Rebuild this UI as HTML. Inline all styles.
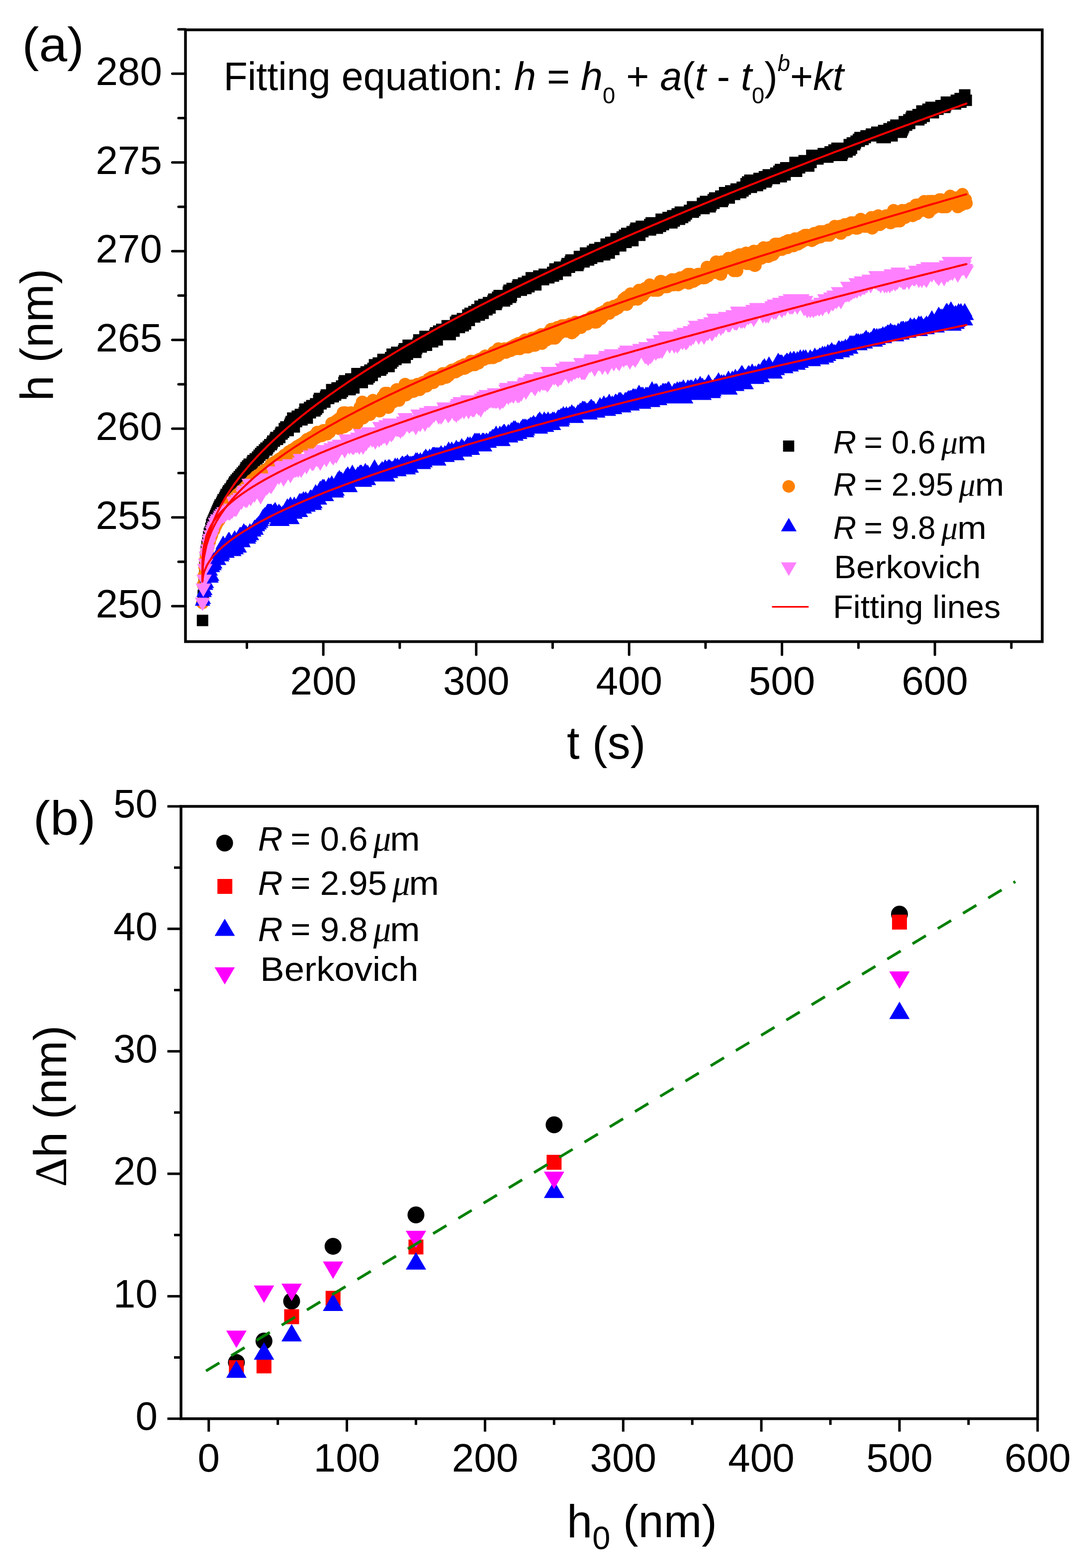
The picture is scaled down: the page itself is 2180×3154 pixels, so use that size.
<!DOCTYPE html>
<html><head><meta charset="utf-8"><title>Figure</title><style>html,body{margin:0;padding:0;background:#fff;}svg{display:block;}</style></head><body>
<svg xmlns="http://www.w3.org/2000/svg" width="2180" height="3154" viewBox="0 0 2180 3154">
<rect width="2180" height="3154" fill="#fff"/>
<g id="dataA">
<path fill="#000000" d="M395.8 1236.4h23v23h-23zM397.3 1186.4h23v23h-23zM398.9 1154.2h23v23h-23zM400.4 1129.3h23v23h-23zM401.9 1111.4h23v23h-23zM403.5 1097.1h23v23h-23zM405.0 1086.4h23v23h-23zM406.6 1075.7h23v23h-23zM408.1 1068.6h23v23h-23zM409.6 1061.4h23v23h-23zM411.2 1057.9h23v23h-23zM412.7 1050.7h23v23h-23zM414.2 1043.6h23v23h-23zM415.8 1040.0h23v23h-23zM417.3 1036.4h23v23h-23zM418.9 1032.9h23v23h-23zM420.4 1029.3h23v23h-23zM421.9 1025.7h23v23h-23zM423.5 1022.2h23v23h-23zM425.0 1018.6h23v23h-23zM426.5 1015.0h23v23h-23zM428.1 1011.4h23v23h-23zM429.6 1007.9h23v23h-23zM431.2 1004.3h23v23h-23zM432.7 1004.3h23v23h-23zM434.2 1000.7h23v23h-23zM435.8 997.2h23v23h-23zM437.3 993.6h23v23h-23zM438.8 993.6h23v23h-23zM440.4 990.0h23v23h-23zM441.9 986.5h23v23h-23zM443.5 982.9h23v23h-23zM445.0 982.9h23v23h-23zM446.5 979.3h23v23h-23zM448.1 975.8h23v23h-23zM449.6 975.8h23v23h-23zM451.1 972.2h23v23h-23zM452.7 972.2h23v23h-23zM454.2 968.6h23v23h-23zM455.7 965.0h23v23h-23zM457.3 965.0h23v23h-23zM458.8 961.5h23v23h-23zM460.4 957.9h23v23h-23zM461.9 957.9h23v23h-23zM463.4 954.3h23v23h-23zM465.0 954.3h23v23h-23zM466.5 950.8h23v23h-23zM468.0 950.8h23v23h-23zM469.6 947.2h23v23h-23zM471.1 947.2h23v23h-23zM472.7 943.6h23v23h-23zM474.2 943.6h23v23h-23zM475.7 940.0h23v23h-23zM477.3 940.0h23v23h-23zM478.8 936.5h23v23h-23zM480.3 936.5h23v23h-23zM481.9 932.9h23v23h-23zM483.4 929.3h23v23h-23zM485.0 929.3h23v23h-23zM486.5 925.8h23v23h-23zM488.0 925.8h23v23h-23zM489.6 922.2h23v23h-23zM491.1 922.2h23v23h-23zM492.6 922.2h23v23h-23zM494.2 922.2h23v23h-23zM495.7 918.6h23v23h-23zM497.3 915.1h23v23h-23zM498.8 915.1h23v23h-23zM500.3 915.1h23v23h-23zM501.9 911.5h23v23h-23zM503.4 911.5h23v23h-23zM504.9 911.5h23v23h-23zM506.5 907.9h23v23h-23zM508.0 907.9h23v23h-23zM509.6 904.3h23v23h-23zM511.1 904.3h23v23h-23zM512.6 900.8h23v23h-23zM514.2 900.8h23v23h-23zM515.7 897.2h23v23h-23zM517.2 900.8h23v23h-23zM518.8 897.2h23v23h-23zM520.3 893.6h23v23h-23zM521.9 893.6h23v23h-23zM523.4 890.1h23v23h-23zM524.9 893.6h23v23h-23zM526.5 890.1h23v23h-23zM528.0 886.5h23v23h-23zM529.5 886.5h23v23h-23zM531.1 882.9h23v23h-23zM532.6 882.9h23v23h-23zM534.2 882.9h23v23h-23zM535.7 879.4h23v23h-23zM537.2 875.8h23v23h-23zM538.8 875.8h23v23h-23zM540.3 875.8h23v23h-23zM541.8 872.2h23v23h-23zM543.4 868.6h23v23h-23zM544.9 868.6h23v23h-23zM546.5 872.2h23v23h-23zM548.0 868.6h23v23h-23zM549.5 865.1h23v23h-23zM551.1 868.6h23v23h-23zM552.6 861.5h23v23h-23zM554.1 857.9h23v23h-23zM555.7 861.5h23v23h-23zM557.2 857.9h23v23h-23zM558.8 857.9h23v23h-23zM560.3 850.8h23v23h-23zM561.8 850.8h23v23h-23zM563.4 847.2h23v23h-23zM564.9 854.4h23v23h-23zM566.4 847.2h23v23h-23zM568.0 854.4h23v23h-23zM569.5 847.2h23v23h-23zM571.1 843.7h23v23h-23zM572.6 840.1h23v23h-23zM574.1 836.5h23v23h-23zM575.7 840.1h23v23h-23zM577.2 829.4h23v23h-23zM578.7 836.5h23v23h-23zM580.3 847.2h23v23h-23zM581.8 836.5h23v23h-23zM583.4 829.4h23v23h-23zM584.9 836.5h23v23h-23zM586.4 825.8h23v23h-23zM588.0 829.4h23v23h-23zM589.5 825.8h23v23h-23zM591.0 832.9h23v23h-23zM592.6 822.2h23v23h-23zM594.1 825.8h23v23h-23zM595.7 832.9h23v23h-23zM597.2 825.8h23v23h-23zM598.7 822.2h23v23h-23zM600.3 818.7h23v23h-23zM601.8 811.5h23v23h-23zM603.3 825.8h23v23h-23zM604.9 825.8h23v23h-23zM606.4 829.4h23v23h-23zM608.0 818.7h23v23h-23zM609.5 815.1h23v23h-23zM611.0 808.0h23v23h-23zM612.6 818.7h23v23h-23zM614.1 811.5h23v23h-23zM615.6 804.4h23v23h-23zM617.2 804.4h23v23h-23zM618.7 804.4h23v23h-23zM620.3 811.5h23v23h-23zM621.8 815.1h23v23h-23zM623.3 800.8h23v23h-23zM624.9 811.5h23v23h-23zM626.4 804.4h23v23h-23zM627.9 808.0h23v23h-23zM629.5 793.7h23v23h-23zM631.0 790.1h23v23h-23zM632.6 800.8h23v23h-23zM634.1 800.8h23v23h-23zM635.6 797.2h23v23h-23zM637.2 790.1h23v23h-23zM638.7 793.7h23v23h-23zM640.2 797.2h23v23h-23zM641.8 797.2h23v23h-23zM643.3 786.5h23v23h-23zM644.8 783.0h23v23h-23zM646.4 786.5h23v23h-23zM647.9 783.0h23v23h-23zM649.5 790.1h23v23h-23zM651.0 783.0h23v23h-23zM652.5 783.0h23v23h-23zM654.1 783.0h23v23h-23zM655.6 772.3h23v23h-23zM657.1 783.0h23v23h-23zM658.7 786.5h23v23h-23zM660.2 779.4h23v23h-23zM661.8 772.3h23v23h-23zM663.3 783.0h23v23h-23zM664.8 775.8h23v23h-23zM666.4 768.7h23v23h-23zM667.9 768.7h23v23h-23zM669.4 768.7h23v23h-23zM671.0 775.8h23v23h-23zM672.5 768.7h23v23h-23zM674.1 779.4h23v23h-23zM675.6 765.1h23v23h-23zM677.1 775.8h23v23h-23zM678.7 772.3h23v23h-23zM680.2 758.0h23v23h-23zM681.7 754.4h23v23h-23zM683.3 761.5h23v23h-23zM684.8 758.0h23v23h-23zM686.4 768.7h23v23h-23zM687.9 765.1h23v23h-23zM689.4 765.1h23v23h-23zM691.0 758.0h23v23h-23zM692.5 772.3h23v23h-23zM694.0 750.8h23v23h-23zM695.6 761.5h23v23h-23zM697.1 754.4h23v23h-23zM698.7 765.1h23v23h-23zM700.2 768.7h23v23h-23zM701.7 754.4h23v23h-23zM703.3 754.4h23v23h-23zM704.8 750.8h23v23h-23zM706.3 740.1h23v23h-23zM707.9 758.0h23v23h-23zM709.4 754.4h23v23h-23zM711.0 747.3h23v23h-23zM712.5 754.4h23v23h-23zM714.0 743.7h23v23h-23zM715.6 743.7h23v23h-23zM717.1 758.0h23v23h-23zM718.6 750.8h23v23h-23zM720.2 743.7h23v23h-23zM721.7 743.7h23v23h-23zM723.3 743.7h23v23h-23zM724.8 736.6h23v23h-23zM726.3 736.6h23v23h-23zM727.9 750.8h23v23h-23zM729.4 740.1h23v23h-23zM730.9 747.3h23v23h-23zM732.5 733.0h23v23h-23zM734.0 740.1h23v23h-23zM735.6 736.6h23v23h-23zM737.1 743.7h23v23h-23zM738.6 729.4h23v23h-23zM740.2 733.0h23v23h-23zM741.7 722.3h23v23h-23zM743.2 736.6h23v23h-23zM744.8 722.3h23v23h-23zM746.3 729.4h23v23h-23zM747.9 733.0h23v23h-23zM749.4 718.7h23v23h-23zM750.9 725.8h23v23h-23zM752.5 722.3h23v23h-23zM754.0 733.0h23v23h-23zM755.5 718.7h23v23h-23zM757.1 729.4h23v23h-23zM758.6 711.6h23v23h-23zM760.2 711.6h23v23h-23zM761.7 725.8h23v23h-23zM763.2 711.6h23v23h-23zM764.8 715.1h23v23h-23zM766.3 718.7h23v23h-23zM767.8 722.3h23v23h-23zM769.4 715.1h23v23h-23zM770.9 725.8h23v23h-23zM772.5 715.1h23v23h-23zM774.0 708.0h23v23h-23zM775.5 718.7h23v23h-23zM777.1 700.9h23v23h-23zM778.6 715.1h23v23h-23zM780.1 704.4h23v23h-23zM781.7 704.4h23v23h-23zM783.2 704.4h23v23h-23zM784.8 711.6h23v23h-23zM786.3 697.3h23v23h-23zM787.8 700.9h23v23h-23zM789.4 708.0h23v23h-23zM790.9 700.9h23v23h-23zM792.4 700.9h23v23h-23zM794.0 708.0h23v23h-23zM795.5 697.3h23v23h-23zM797.1 700.9h23v23h-23zM798.6 697.3h23v23h-23zM800.1 693.7h23v23h-23zM801.7 690.1h23v23h-23zM803.2 708.0h23v23h-23zM804.7 697.3h23v23h-23zM806.3 697.3h23v23h-23zM807.8 700.9h23v23h-23zM809.4 683.0h23v23h-23zM810.9 686.6h23v23h-23zM812.4 683.0h23v23h-23zM814.0 686.6h23v23h-23zM815.5 683.0h23v23h-23zM817.0 693.7h23v23h-23zM818.6 693.7h23v23h-23zM820.1 683.0h23v23h-23zM821.7 693.7h23v23h-23zM823.2 690.1h23v23h-23zM824.7 697.3h23v23h-23zM826.3 690.1h23v23h-23zM827.8 686.6h23v23h-23zM829.3 679.4h23v23h-23zM830.9 672.3h23v23h-23zM832.4 679.4h23v23h-23zM833.9 675.9h23v23h-23zM835.5 686.6h23v23h-23zM837.0 675.9h23v23h-23zM838.6 679.4h23v23h-23zM840.1 679.4h23v23h-23zM841.6 675.9h23v23h-23zM843.2 665.2h23v23h-23zM844.7 683.0h23v23h-23zM846.2 683.0h23v23h-23zM847.8 668.7h23v23h-23zM849.3 672.3h23v23h-23zM850.9 675.9h23v23h-23zM852.4 668.7h23v23h-23zM853.9 675.9h23v23h-23zM855.5 668.7h23v23h-23zM857.0 672.3h23v23h-23zM858.5 675.9h23v23h-23zM860.1 665.2h23v23h-23zM861.6 665.2h23v23h-23zM863.2 661.6h23v23h-23zM864.7 658.0h23v23h-23zM866.2 672.3h23v23h-23zM867.8 672.3h23v23h-23zM869.3 661.6h23v23h-23zM870.8 654.4h23v23h-23zM872.4 661.6h23v23h-23zM873.9 661.6h23v23h-23zM875.5 661.6h23v23h-23zM877.0 650.9h23v23h-23zM878.5 650.9h23v23h-23zM880.1 654.4h23v23h-23zM881.6 661.6h23v23h-23zM883.1 654.4h23v23h-23zM884.7 654.4h23v23h-23zM886.2 658.0h23v23h-23zM887.8 643.7h23v23h-23zM889.3 650.9h23v23h-23zM890.8 650.9h23v23h-23zM892.4 647.3h23v23h-23zM893.9 661.6h23v23h-23zM895.4 643.7h23v23h-23zM897.0 654.4h23v23h-23zM898.5 650.9h23v23h-23zM900.1 643.7h23v23h-23zM901.6 654.4h23v23h-23zM903.1 647.3h23v23h-23zM904.7 636.6h23v23h-23zM906.2 643.7h23v23h-23zM907.7 633.0h23v23h-23zM909.3 647.3h23v23h-23zM910.8 640.2h23v23h-23zM912.4 647.3h23v23h-23zM913.9 640.2h23v23h-23zM915.4 640.2h23v23h-23zM917.0 636.6h23v23h-23zM918.5 629.5h23v23h-23zM920.0 643.7h23v23h-23zM921.6 636.6h23v23h-23zM923.1 633.0h23v23h-23zM924.7 640.2h23v23h-23zM926.2 633.0h23v23h-23zM927.7 629.5h23v23h-23zM929.3 622.3h23v23h-23zM930.8 625.9h23v23h-23zM932.3 633.0h23v23h-23zM933.9 618.7h23v23h-23zM935.4 622.3h23v23h-23zM937.0 625.9h23v23h-23zM938.5 622.3h23v23h-23zM940.0 622.3h23v23h-23zM941.6 615.2h23v23h-23zM943.1 625.9h23v23h-23zM944.6 615.2h23v23h-23zM946.2 618.7h23v23h-23zM947.7 611.6h23v23h-23zM949.3 611.6h23v23h-23zM950.8 622.3h23v23h-23zM952.3 622.3h23v23h-23zM953.9 604.5h23v23h-23zM955.4 608.0h23v23h-23zM956.9 615.2h23v23h-23zM958.5 608.0h23v23h-23zM960.0 618.7h23v23h-23zM961.6 600.9h23v23h-23zM963.1 604.5h23v23h-23zM964.6 608.0h23v23h-23zM966.2 608.0h23v23h-23zM967.7 611.6h23v23h-23zM969.2 600.9h23v23h-23zM970.8 597.3h23v23h-23zM972.3 597.3h23v23h-23zM973.9 608.0h23v23h-23zM975.4 600.9h23v23h-23zM976.9 600.9h23v23h-23zM978.5 597.3h23v23h-23zM980.0 593.8h23v23h-23zM981.5 590.2h23v23h-23zM983.1 600.9h23v23h-23zM984.6 590.2h23v23h-23zM986.2 600.9h23v23h-23zM987.7 597.3h23v23h-23zM989.2 586.6h23v23h-23zM990.8 590.2h23v23h-23zM992.3 583.0h23v23h-23zM993.8 593.8h23v23h-23zM995.4 590.2h23v23h-23zM996.9 593.8h23v23h-23zM998.5 590.2h23v23h-23zM1000.0 583.0h23v23h-23zM1001.5 590.2h23v23h-23zM1003.1 593.8h23v23h-23zM1004.6 583.0h23v23h-23zM1006.1 583.0h23v23h-23zM1007.7 590.2h23v23h-23zM1009.2 586.6h23v23h-23zM1010.8 575.9h23v23h-23zM1012.3 572.3h23v23h-23zM1013.8 575.9h23v23h-23zM1015.4 586.6h23v23h-23zM1016.9 583.0h23v23h-23zM1018.4 568.8h23v23h-23zM1020.0 575.9h23v23h-23zM1021.5 568.8h23v23h-23zM1023.1 572.3h23v23h-23zM1024.6 575.9h23v23h-23zM1026.1 572.3h23v23h-23zM1027.7 572.3h23v23h-23zM1029.2 565.2h23v23h-23zM1030.7 561.6h23v23h-23zM1032.3 568.8h23v23h-23zM1033.8 565.2h23v23h-23zM1035.3 572.3h23v23h-23zM1036.9 572.3h23v23h-23zM1038.4 565.2h23v23h-23zM1040.0 568.8h23v23h-23zM1041.5 558.1h23v23h-23zM1043.0 561.6h23v23h-23zM1044.6 565.2h23v23h-23zM1046.1 568.8h23v23h-23zM1047.6 561.6h23v23h-23zM1049.2 554.5h23v23h-23zM1050.7 558.1h23v23h-23zM1052.3 565.2h23v23h-23zM1053.8 558.1h23v23h-23zM1055.3 561.6h23v23h-23zM1056.9 547.3h23v23h-23zM1058.4 561.6h23v23h-23zM1059.9 547.3h23v23h-23zM1061.5 550.9h23v23h-23zM1063.0 550.9h23v23h-23zM1064.6 547.3h23v23h-23zM1066.1 561.6h23v23h-23zM1067.6 550.9h23v23h-23zM1069.2 547.3h23v23h-23zM1070.7 550.9h23v23h-23zM1072.2 543.8h23v23h-23zM1073.8 550.9h23v23h-23zM1075.3 550.9h23v23h-23zM1076.9 550.9h23v23h-23zM1078.4 547.3h23v23h-23zM1079.9 550.9h23v23h-23zM1081.5 550.9h23v23h-23zM1083.0 540.2h23v23h-23zM1084.5 540.2h23v23h-23zM1086.1 547.3h23v23h-23zM1087.6 543.8h23v23h-23zM1089.2 540.2h23v23h-23zM1090.7 547.3h23v23h-23zM1092.2 547.3h23v23h-23zM1093.8 543.8h23v23h-23zM1095.3 543.8h23v23h-23zM1096.8 543.8h23v23h-23zM1098.4 540.2h23v23h-23zM1099.9 536.6h23v23h-23zM1101.5 543.8h23v23h-23zM1103.0 536.6h23v23h-23zM1104.5 529.5h23v23h-23zM1106.1 533.1h23v23h-23zM1107.6 529.5h23v23h-23zM1109.1 540.2h23v23h-23zM1110.7 529.5h23v23h-23zM1112.2 529.5h23v23h-23zM1113.8 525.9h23v23h-23zM1115.3 533.1h23v23h-23zM1116.8 533.1h23v23h-23zM1118.4 533.1h23v23h-23zM1119.9 533.1h23v23h-23zM1121.4 529.5h23v23h-23zM1123.0 529.5h23v23h-23zM1124.5 529.5h23v23h-23zM1126.1 533.1h23v23h-23zM1127.6 522.4h23v23h-23zM1129.1 518.8h23v23h-23zM1130.7 522.4h23v23h-23zM1132.2 522.4h23v23h-23zM1133.7 525.9h23v23h-23zM1135.3 515.2h23v23h-23zM1136.8 511.6h23v23h-23zM1138.4 518.8h23v23h-23zM1139.9 511.6h23v23h-23zM1141.4 518.8h23v23h-23zM1143.0 511.6h23v23h-23zM1144.5 522.4h23v23h-23zM1146.0 515.2h23v23h-23zM1147.6 511.6h23v23h-23zM1149.1 522.4h23v23h-23zM1150.7 522.4h23v23h-23zM1152.2 518.8h23v23h-23zM1153.7 504.5h23v23h-23zM1155.3 515.2h23v23h-23zM1156.8 515.2h23v23h-23zM1158.3 511.6h23v23h-23zM1159.9 508.1h23v23h-23zM1161.4 508.1h23v23h-23zM1163.0 515.2h23v23h-23zM1164.5 504.5h23v23h-23zM1166.0 497.4h23v23h-23zM1167.6 511.6h23v23h-23zM1169.1 511.6h23v23h-23zM1170.6 511.6h23v23h-23zM1172.2 511.6h23v23h-23zM1173.7 504.5h23v23h-23zM1175.3 508.1h23v23h-23zM1176.8 500.9h23v23h-23zM1178.3 508.1h23v23h-23zM1179.9 493.8h23v23h-23zM1181.4 500.9h23v23h-23zM1182.9 500.9h23v23h-23zM1184.5 490.2h23v23h-23zM1186.0 497.4h23v23h-23zM1187.6 504.5h23v23h-23zM1189.1 490.2h23v23h-23zM1190.6 504.5h23v23h-23zM1192.2 490.2h23v23h-23zM1193.7 500.9h23v23h-23zM1195.2 486.7h23v23h-23zM1196.8 497.4h23v23h-23zM1198.3 486.7h23v23h-23zM1199.9 486.7h23v23h-23zM1201.4 497.4h23v23h-23zM1202.9 493.8h23v23h-23zM1204.5 500.9h23v23h-23zM1206.0 490.2h23v23h-23zM1207.5 479.5h23v23h-23zM1209.1 483.1h23v23h-23zM1210.6 490.2h23v23h-23zM1212.2 497.4h23v23h-23zM1213.7 497.4h23v23h-23zM1215.2 486.7h23v23h-23zM1216.8 475.9h23v23h-23zM1218.3 475.9h23v23h-23zM1219.8 486.7h23v23h-23zM1221.4 483.1h23v23h-23zM1222.9 490.2h23v23h-23zM1224.4 479.5h23v23h-23zM1226.0 475.9h23v23h-23zM1227.5 468.8h23v23h-23zM1229.1 483.1h23v23h-23zM1230.6 483.1h23v23h-23zM1232.1 483.1h23v23h-23zM1233.7 468.8h23v23h-23zM1235.2 475.9h23v23h-23zM1236.7 483.1h23v23h-23zM1238.3 472.4h23v23h-23zM1239.8 465.2h23v23h-23zM1241.4 468.8h23v23h-23zM1242.9 475.9h23v23h-23zM1244.4 461.7h23v23h-23zM1246.0 465.2h23v23h-23zM1247.5 475.9h23v23h-23zM1249.0 458.1h23v23h-23zM1250.6 465.2h23v23h-23zM1252.1 468.8h23v23h-23zM1253.7 458.1h23v23h-23zM1255.2 468.8h23v23h-23zM1256.7 461.7h23v23h-23zM1258.3 468.8h23v23h-23zM1259.8 454.5h23v23h-23zM1261.3 472.4h23v23h-23zM1262.9 461.7h23v23h-23zM1264.4 458.1h23v23h-23zM1266.0 451.0h23v23h-23zM1267.5 447.4h23v23h-23zM1269.0 454.5h23v23h-23zM1270.6 461.7h23v23h-23zM1272.1 451.0h23v23h-23zM1273.6 461.7h23v23h-23zM1275.2 461.7h23v23h-23zM1276.7 454.5h23v23h-23zM1278.3 443.8h23v23h-23zM1279.8 447.4h23v23h-23zM1281.3 454.5h23v23h-23zM1282.9 451.0h23v23h-23zM1284.4 451.0h23v23h-23zM1285.9 451.0h23v23h-23zM1287.5 443.8h23v23h-23zM1289.0 443.8h23v23h-23zM1290.6 451.0h23v23h-23zM1292.1 447.4h23v23h-23zM1293.6 447.4h23v23h-23zM1295.2 440.2h23v23h-23zM1296.7 451.0h23v23h-23zM1298.2 436.7h23v23h-23zM1299.8 447.4h23v23h-23zM1301.3 436.7h23v23h-23zM1302.9 447.4h23v23h-23zM1304.4 436.7h23v23h-23zM1305.9 443.8h23v23h-23zM1307.5 440.2h23v23h-23zM1309.0 447.4h23v23h-23zM1310.5 447.4h23v23h-23zM1312.1 443.8h23v23h-23zM1313.6 436.7h23v23h-23zM1315.2 440.2h23v23h-23zM1316.7 443.8h23v23h-23zM1318.2 429.5h23v23h-23zM1319.8 440.2h23v23h-23zM1321.3 436.7h23v23h-23zM1322.8 440.2h23v23h-23zM1324.4 436.7h23v23h-23zM1325.9 436.7h23v23h-23zM1327.5 429.5h23v23h-23zM1329.0 429.5h23v23h-23zM1330.5 436.7h23v23h-23zM1332.1 426.0h23v23h-23zM1333.6 429.5h23v23h-23zM1335.1 436.7h23v23h-23zM1336.7 433.1h23v23h-23zM1338.2 436.7h23v23h-23zM1339.8 436.7h23v23h-23zM1341.3 422.4h23v23h-23zM1342.8 426.0h23v23h-23zM1344.4 433.1h23v23h-23zM1345.9 422.4h23v23h-23zM1347.4 429.5h23v23h-23zM1349.0 426.0h23v23h-23zM1350.5 418.8h23v23h-23zM1352.1 418.8h23v23h-23zM1353.6 426.0h23v23h-23zM1355.1 429.5h23v23h-23zM1356.7 415.3h23v23h-23zM1358.2 422.4h23v23h-23zM1359.7 422.4h23v23h-23zM1361.3 426.0h23v23h-23zM1362.8 415.3h23v23h-23zM1364.4 418.8h23v23h-23zM1365.9 422.4h23v23h-23zM1367.4 415.3h23v23h-23zM1369.0 418.8h23v23h-23zM1370.5 415.3h23v23h-23zM1372.0 415.3h23v23h-23zM1373.6 415.3h23v23h-23zM1375.1 411.7h23v23h-23zM1376.7 415.3h23v23h-23zM1378.2 415.3h23v23h-23zM1379.7 411.7h23v23h-23zM1381.3 404.5h23v23h-23zM1382.8 415.3h23v23h-23zM1384.3 411.7h23v23h-23zM1385.9 411.7h23v23h-23zM1387.4 408.1h23v23h-23zM1389.0 408.1h23v23h-23zM1390.5 408.1h23v23h-23zM1392.0 408.1h23v23h-23zM1393.6 404.5h23v23h-23zM1395.1 404.5h23v23h-23zM1396.6 404.5h23v23h-23zM1398.2 404.5h23v23h-23zM1399.7 404.5h23v23h-23zM1401.3 397.4h23v23h-23zM1402.8 397.4h23v23h-23zM1404.3 408.1h23v23h-23zM1405.9 401.0h23v23h-23zM1407.4 393.8h23v23h-23zM1408.9 401.0h23v23h-23zM1410.5 401.0h23v23h-23zM1412.0 401.0h23v23h-23zM1413.5 401.0h23v23h-23zM1415.1 404.5h23v23h-23zM1416.6 404.5h23v23h-23zM1418.2 401.0h23v23h-23zM1419.7 397.4h23v23h-23zM1421.2 393.8h23v23h-23zM1422.8 390.3h23v23h-23zM1424.3 397.4h23v23h-23zM1425.8 386.7h23v23h-23zM1427.4 393.8h23v23h-23zM1428.9 393.8h23v23h-23zM1430.5 390.3h23v23h-23zM1432.0 390.3h23v23h-23zM1433.5 390.3h23v23h-23zM1435.1 386.7h23v23h-23zM1436.6 386.7h23v23h-23zM1438.1 383.1h23v23h-23zM1439.7 386.7h23v23h-23zM1441.2 393.8h23v23h-23zM1442.8 390.3h23v23h-23zM1444.3 386.7h23v23h-23zM1445.8 376.0h23v23h-23zM1447.4 383.1h23v23h-23zM1448.9 383.1h23v23h-23zM1450.4 383.1h23v23h-23zM1452.0 386.7h23v23h-23zM1453.5 379.6h23v23h-23zM1455.1 386.7h23v23h-23zM1456.6 379.6h23v23h-23zM1458.1 372.4h23v23h-23zM1459.7 372.4h23v23h-23zM1461.2 376.0h23v23h-23zM1462.7 372.4h23v23h-23zM1464.3 379.6h23v23h-23zM1465.8 379.6h23v23h-23zM1467.4 376.0h23v23h-23zM1468.9 368.8h23v23h-23zM1470.4 372.4h23v23h-23zM1472.0 368.8h23v23h-23zM1473.5 368.8h23v23h-23zM1475.0 376.0h23v23h-23zM1476.6 368.8h23v23h-23zM1478.1 376.0h23v23h-23zM1479.7 368.8h23v23h-23zM1481.2 365.3h23v23h-23zM1482.7 372.4h23v23h-23zM1484.3 365.3h23v23h-23zM1485.8 368.8h23v23h-23zM1487.3 368.8h23v23h-23zM1488.9 358.1h23v23h-23zM1490.4 365.3h23v23h-23zM1492.0 354.6h23v23h-23zM1493.5 361.7h23v23h-23zM1495.0 354.6h23v23h-23zM1496.6 351.0h23v23h-23zM1498.1 361.7h23v23h-23zM1499.6 365.3h23v23h-23zM1501.2 358.1h23v23h-23zM1502.7 358.1h23v23h-23zM1504.3 361.7h23v23h-23zM1505.8 361.7h23v23h-23zM1507.3 358.1h23v23h-23zM1508.9 361.7h23v23h-23zM1510.4 361.7h23v23h-23zM1511.9 361.7h23v23h-23zM1513.5 351.0h23v23h-23zM1515.0 347.4h23v23h-23zM1516.6 347.4h23v23h-23zM1518.1 358.1h23v23h-23zM1519.6 347.4h23v23h-23zM1521.2 351.0h23v23h-23zM1522.7 354.6h23v23h-23zM1524.2 347.4h23v23h-23zM1525.8 343.9h23v23h-23zM1527.3 347.4h23v23h-23zM1528.9 354.6h23v23h-23zM1530.4 351.0h23v23h-23zM1531.9 343.9h23v23h-23zM1533.5 340.3h23v23h-23zM1535.0 347.4h23v23h-23zM1536.5 343.9h23v23h-23zM1538.1 347.4h23v23h-23zM1539.6 340.3h23v23h-23zM1541.2 340.3h23v23h-23zM1542.7 347.4h23v23h-23zM1544.2 347.4h23v23h-23zM1545.8 347.4h23v23h-23zM1547.3 343.9h23v23h-23zM1548.8 336.7h23v23h-23zM1550.4 336.7h23v23h-23zM1551.9 343.9h23v23h-23zM1553.5 340.3h23v23h-23zM1555.0 333.1h23v23h-23zM1556.5 333.1h23v23h-23zM1558.1 329.6h23v23h-23zM1559.6 343.9h23v23h-23zM1561.1 329.6h23v23h-23zM1562.7 333.1h23v23h-23zM1564.2 333.1h23v23h-23zM1565.8 336.7h23v23h-23zM1567.3 340.3h23v23h-23zM1568.8 326.0h23v23h-23zM1570.4 326.0h23v23h-23zM1571.9 326.0h23v23h-23zM1573.4 326.0h23v23h-23zM1575.0 333.1h23v23h-23zM1576.5 329.6h23v23h-23zM1578.1 329.6h23v23h-23zM1579.6 326.0h23v23h-23zM1581.1 329.6h23v23h-23zM1582.7 329.6h23v23h-23zM1584.2 326.0h23v23h-23zM1585.7 329.6h23v23h-23zM1587.3 315.3h23v23h-23zM1588.8 329.6h23v23h-23zM1590.4 333.1h23v23h-23zM1591.9 322.4h23v23h-23zM1593.4 315.3h23v23h-23zM1595.0 318.9h23v23h-23zM1596.5 326.0h23v23h-23zM1598.0 315.3h23v23h-23zM1599.6 322.4h23v23h-23zM1601.1 322.4h23v23h-23zM1602.6 315.3h23v23h-23zM1604.2 315.3h23v23h-23zM1605.7 311.7h23v23h-23zM1607.3 311.7h23v23h-23zM1608.8 318.9h23v23h-23zM1610.3 322.4h23v23h-23zM1611.9 311.7h23v23h-23zM1613.4 311.7h23v23h-23zM1614.9 322.4h23v23h-23zM1616.5 311.7h23v23h-23zM1618.0 311.7h23v23h-23zM1619.6 315.3h23v23h-23zM1621.1 301.0h23v23h-23zM1622.6 304.6h23v23h-23zM1624.2 304.6h23v23h-23zM1625.7 308.2h23v23h-23zM1627.2 308.2h23v23h-23zM1628.8 308.2h23v23h-23zM1630.3 301.0h23v23h-23zM1631.9 301.0h23v23h-23zM1633.4 308.2h23v23h-23zM1634.9 304.6h23v23h-23zM1636.5 301.0h23v23h-23zM1638.0 304.6h23v23h-23zM1639.5 304.6h23v23h-23zM1641.1 301.0h23v23h-23zM1642.6 304.6h23v23h-23zM1644.2 297.4h23v23h-23zM1645.7 297.4h23v23h-23zM1647.2 301.0h23v23h-23zM1648.8 301.0h23v23h-23zM1650.3 304.6h23v23h-23zM1651.8 297.4h23v23h-23zM1653.4 304.6h23v23h-23zM1654.9 297.4h23v23h-23zM1656.5 301.0h23v23h-23zM1658.0 293.9h23v23h-23zM1659.5 297.4h23v23h-23zM1661.1 293.9h23v23h-23zM1662.6 297.4h23v23h-23zM1664.1 293.9h23v23h-23zM1665.7 290.3h23v23h-23zM1667.2 293.9h23v23h-23zM1668.8 301.0h23v23h-23zM1670.3 301.0h23v23h-23zM1671.8 286.7h23v23h-23zM1673.4 290.3h23v23h-23zM1674.9 290.3h23v23h-23zM1676.4 297.4h23v23h-23zM1678.0 293.9h23v23h-23zM1679.5 290.3h23v23h-23zM1681.1 301.0h23v23h-23zM1682.6 297.4h23v23h-23zM1684.1 286.7h23v23h-23zM1685.7 293.9h23v23h-23zM1687.2 293.9h23v23h-23zM1688.7 290.3h23v23h-23zM1690.3 293.9h23v23h-23zM1691.8 293.9h23v23h-23zM1693.4 286.7h23v23h-23zM1694.9 286.7h23v23h-23zM1696.4 279.6h23v23h-23zM1698.0 290.3h23v23h-23zM1699.5 279.6h23v23h-23zM1701.0 286.7h23v23h-23zM1702.6 276.0h23v23h-23zM1704.1 276.0h23v23h-23zM1705.7 276.0h23v23h-23zM1707.2 279.6h23v23h-23zM1708.7 276.0h23v23h-23zM1710.3 272.5h23v23h-23zM1711.8 272.5h23v23h-23zM1713.3 272.5h23v23h-23zM1714.9 268.9h23v23h-23zM1716.4 272.5h23v23h-23zM1718.0 265.3h23v23h-23zM1719.5 268.9h23v23h-23zM1721.0 265.3h23v23h-23zM1722.6 268.9h23v23h-23zM1724.1 268.9h23v23h-23zM1725.6 265.3h23v23h-23zM1727.2 265.3h23v23h-23zM1728.7 265.3h23v23h-23zM1730.3 261.7h23v23h-23zM1731.8 261.7h23v23h-23zM1733.3 261.7h23v23h-23zM1734.9 261.7h23v23h-23zM1736.4 261.7h23v23h-23zM1737.9 261.7h23v23h-23zM1739.5 261.7h23v23h-23zM1741.0 258.2h23v23h-23zM1742.6 258.2h23v23h-23zM1744.1 258.2h23v23h-23zM1745.6 261.7h23v23h-23zM1747.2 261.7h23v23h-23zM1748.7 258.2h23v23h-23zM1750.2 261.7h23v23h-23zM1751.8 254.6h23v23h-23zM1753.3 258.2h23v23h-23zM1754.9 258.2h23v23h-23zM1756.4 254.6h23v23h-23zM1757.9 258.2h23v23h-23zM1759.5 254.6h23v23h-23zM1761.0 254.6h23v23h-23zM1762.5 265.3h23v23h-23zM1764.1 258.2h23v23h-23zM1765.6 251.0h23v23h-23zM1767.2 258.2h23v23h-23zM1768.7 265.3h23v23h-23zM1770.2 251.0h23v23h-23zM1771.8 251.0h23v23h-23zM1773.3 254.6h23v23h-23zM1774.8 261.7h23v23h-23zM1776.4 247.5h23v23h-23zM1777.9 247.5h23v23h-23zM1779.5 247.5h23v23h-23zM1781.0 261.7h23v23h-23zM1782.5 261.7h23v23h-23zM1784.1 243.9h23v23h-23zM1785.6 247.5h23v23h-23zM1787.1 247.5h23v23h-23zM1788.7 254.6h23v23h-23zM1790.2 240.3h23v23h-23zM1791.8 251.0h23v23h-23zM1793.3 254.6h23v23h-23zM1794.8 254.6h23v23h-23zM1796.4 254.6h23v23h-23zM1797.9 243.9h23v23h-23zM1799.4 251.0h23v23h-23zM1801.0 254.6h23v23h-23zM1802.5 251.0h23v23h-23zM1804.0 247.5h23v23h-23zM1805.6 243.9h23v23h-23zM1807.1 233.2h23v23h-23zM1808.7 240.3h23v23h-23zM1810.2 233.2h23v23h-23zM1811.7 240.3h23v23h-23zM1813.3 233.2h23v23h-23zM1814.8 233.2h23v23h-23zM1816.3 229.6h23v23h-23zM1817.9 236.8h23v23h-23zM1819.4 229.6h23v23h-23zM1821.0 226.0h23v23h-23zM1822.5 222.5h23v23h-23zM1824.0 229.6h23v23h-23zM1825.6 222.5h23v23h-23zM1827.1 222.5h23v23h-23zM1828.6 229.6h23v23h-23zM1830.2 222.5h23v23h-23zM1831.7 222.5h23v23h-23zM1833.3 229.6h23v23h-23zM1834.8 218.9h23v23h-23zM1836.3 229.6h23v23h-23zM1837.9 218.9h23v23h-23zM1839.4 218.9h23v23h-23zM1840.9 226.0h23v23h-23zM1842.5 211.8h23v23h-23zM1844.0 222.5h23v23h-23zM1845.6 222.5h23v23h-23zM1847.1 222.5h23v23h-23zM1848.6 215.3h23v23h-23zM1850.2 215.3h23v23h-23zM1851.7 211.8h23v23h-23zM1853.2 211.8h23v23h-23zM1854.8 208.2h23v23h-23zM1856.3 211.8h23v23h-23zM1857.9 215.3h23v23h-23zM1859.4 208.2h23v23h-23zM1860.9 204.6h23v23h-23zM1862.5 215.3h23v23h-23zM1864.0 204.6h23v23h-23zM1865.5 215.3h23v23h-23zM1867.1 204.6h23v23h-23zM1868.6 208.2h23v23h-23zM1870.2 208.2h23v23h-23zM1871.7 204.6h23v23h-23zM1873.2 208.2h23v23h-23zM1874.8 208.2h23v23h-23zM1876.3 204.6h23v23h-23zM1877.8 204.6h23v23h-23zM1879.4 204.6h23v23h-23zM1880.9 201.1h23v23h-23zM1882.5 201.1h23v23h-23zM1884.0 201.1h23v23h-23zM1885.5 201.1h23v23h-23zM1887.1 201.1h23v23h-23zM1888.6 204.6h23v23h-23zM1890.1 201.1h23v23h-23zM1891.7 193.9h23v23h-23zM1893.2 197.5h23v23h-23zM1894.8 197.5h23v23h-23zM1896.3 193.9h23v23h-23zM1897.8 197.5h23v23h-23zM1899.4 197.5h23v23h-23zM1900.9 197.5h23v23h-23zM1902.4 197.5h23v23h-23zM1904.0 193.9h23v23h-23zM1905.5 193.9h23v23h-23zM1907.1 193.9h23v23h-23zM1908.6 193.9h23v23h-23zM1910.1 197.5h23v23h-23zM1911.7 190.3h23v23h-23zM1913.2 193.9h23v23h-23zM1914.7 190.3h23v23h-23zM1916.3 190.3h23v23h-23zM1917.8 193.9h23v23h-23zM1919.4 186.8h23v23h-23zM1920.9 193.9h23v23h-23zM1922.4 186.8h23v23h-23zM1924.0 190.3h23v23h-23zM1925.5 186.8h23v23h-23zM1927.0 190.3h23v23h-23zM1928.6 179.6h23v23h-23zM1930.1 190.3h23v23h-23zM1931.7 190.3h23v23h-23z"/>
<g fill="#FF8000"><circle cx="407.3" cy="1212.2" r="13"/><circle cx="408.8" cy="1176.5" r="13"/><circle cx="410.4" cy="1158.6" r="13"/><circle cx="411.9" cy="1140.8" r="13"/><circle cx="413.4" cy="1126.5" r="13"/><circle cx="415.0" cy="1119.3" r="13"/><circle cx="416.5" cy="1108.6" r="13"/><circle cx="418.1" cy="1101.5" r="13"/><circle cx="419.6" cy="1094.3" r="13"/><circle cx="421.1" cy="1090.8" r="13"/><circle cx="422.7" cy="1083.6" r="13"/><circle cx="424.2" cy="1080.1" r="13"/><circle cx="425.7" cy="1076.5" r="13"/><circle cx="427.3" cy="1069.4" r="13"/><circle cx="428.8" cy="1065.8" r="13"/><circle cx="430.4" cy="1065.8" r="13"/><circle cx="431.9" cy="1058.6" r="13"/><circle cx="433.4" cy="1058.6" r="13"/><circle cx="435.0" cy="1055.1" r="13"/><circle cx="436.5" cy="1051.5" r="13"/><circle cx="438.0" cy="1047.9" r="13"/><circle cx="439.6" cy="1047.9" r="13"/><circle cx="441.1" cy="1044.4" r="13"/><circle cx="442.7" cy="1040.8" r="13"/><circle cx="444.2" cy="1037.2" r="13"/><circle cx="445.7" cy="1037.2" r="13"/><circle cx="447.3" cy="1033.7" r="13"/><circle cx="448.8" cy="1033.7" r="13"/><circle cx="450.3" cy="1030.1" r="13"/><circle cx="451.9" cy="1026.5" r="13"/><circle cx="453.4" cy="1026.5" r="13"/><circle cx="455.0" cy="1026.5" r="13"/><circle cx="456.5" cy="1019.4" r="13"/><circle cx="458.0" cy="1019.4" r="13"/><circle cx="459.6" cy="1019.4" r="13"/><circle cx="461.1" cy="1015.8" r="13"/><circle cx="462.6" cy="1015.8" r="13"/><circle cx="464.2" cy="1012.2" r="13"/><circle cx="465.7" cy="1008.7" r="13"/><circle cx="467.2" cy="1008.7" r="13"/><circle cx="468.8" cy="1005.1" r="13"/><circle cx="470.3" cy="1005.1" r="13"/><circle cx="471.9" cy="1001.5" r="13"/><circle cx="473.4" cy="1001.5" r="13"/><circle cx="474.9" cy="998.0" r="13"/><circle cx="476.5" cy="998.0" r="13"/><circle cx="478.0" cy="994.4" r="13"/><circle cx="479.5" cy="994.4" r="13"/><circle cx="481.1" cy="994.4" r="13"/><circle cx="482.6" cy="990.8" r="13"/><circle cx="484.2" cy="990.8" r="13"/><circle cx="485.7" cy="987.2" r="13"/><circle cx="487.2" cy="987.2" r="13"/><circle cx="488.8" cy="987.2" r="13"/><circle cx="490.3" cy="983.7" r="13"/><circle cx="491.8" cy="983.7" r="13"/><circle cx="493.4" cy="980.1" r="13"/><circle cx="494.9" cy="980.1" r="13"/><circle cx="496.5" cy="980.1" r="13"/><circle cx="498.0" cy="976.5" r="13"/><circle cx="499.5" cy="973.0" r="13"/><circle cx="501.1" cy="973.0" r="13"/><circle cx="502.6" cy="973.0" r="13"/><circle cx="504.1" cy="973.0" r="13"/><circle cx="505.7" cy="969.4" r="13"/><circle cx="507.2" cy="965.8" r="13"/><circle cx="508.8" cy="965.8" r="13"/><circle cx="510.3" cy="965.8" r="13"/><circle cx="511.8" cy="965.8" r="13"/><circle cx="513.4" cy="962.3" r="13"/><circle cx="514.9" cy="958.7" r="13"/><circle cx="516.4" cy="958.7" r="13"/><circle cx="518.0" cy="958.7" r="13"/><circle cx="519.5" cy="958.7" r="13"/><circle cx="521.1" cy="955.1" r="13"/><circle cx="522.6" cy="955.1" r="13"/><circle cx="524.1" cy="955.1" r="13"/><circle cx="525.7" cy="951.5" r="13"/><circle cx="527.2" cy="951.5" r="13"/><circle cx="528.7" cy="948.0" r="13"/><circle cx="530.3" cy="948.0" r="13"/><circle cx="531.8" cy="948.0" r="13"/><circle cx="533.4" cy="948.0" r="13"/><circle cx="534.9" cy="944.4" r="13"/><circle cx="536.4" cy="944.4" r="13"/><circle cx="538.0" cy="944.4" r="13"/><circle cx="539.5" cy="944.4" r="13"/><circle cx="541.0" cy="940.8" r="13"/><circle cx="542.6" cy="940.8" r="13"/><circle cx="544.1" cy="937.3" r="13"/><circle cx="545.7" cy="933.7" r="13"/><circle cx="547.2" cy="933.7" r="13"/><circle cx="548.7" cy="933.7" r="13"/><circle cx="550.3" cy="933.7" r="13"/><circle cx="551.8" cy="930.1" r="13"/><circle cx="553.3" cy="933.7" r="13"/><circle cx="554.9" cy="930.1" r="13"/><circle cx="556.4" cy="930.1" r="13"/><circle cx="558.0" cy="926.6" r="13"/><circle cx="559.5" cy="926.6" r="13"/><circle cx="561.0" cy="926.6" r="13"/><circle cx="562.6" cy="923.0" r="13"/><circle cx="564.1" cy="923.0" r="13"/><circle cx="565.6" cy="923.0" r="13"/><circle cx="567.2" cy="923.0" r="13"/><circle cx="568.7" cy="919.4" r="13"/><circle cx="570.3" cy="919.4" r="13"/><circle cx="571.8" cy="915.8" r="13"/><circle cx="573.3" cy="919.4" r="13"/><circle cx="574.9" cy="915.8" r="13"/><circle cx="576.4" cy="915.8" r="13"/><circle cx="577.9" cy="915.8" r="13"/><circle cx="579.5" cy="912.3" r="13"/><circle cx="581.0" cy="908.7" r="13"/><circle cx="582.6" cy="912.3" r="13"/><circle cx="584.1" cy="912.3" r="13"/><circle cx="585.6" cy="908.7" r="13"/><circle cx="587.2" cy="905.1" r="13"/><circle cx="588.7" cy="908.7" r="13"/><circle cx="590.2" cy="905.1" r="13"/><circle cx="591.8" cy="905.1" r="13"/><circle cx="593.3" cy="901.6" r="13"/><circle cx="594.9" cy="905.1" r="13"/><circle cx="596.4" cy="901.6" r="13"/><circle cx="597.9" cy="898.0" r="13"/><circle cx="599.5" cy="898.0" r="13"/><circle cx="601.0" cy="898.0" r="13"/><circle cx="602.5" cy="898.0" r="13"/><circle cx="604.1" cy="894.4" r="13"/><circle cx="605.6" cy="894.4" r="13"/><circle cx="607.2" cy="894.4" r="13"/><circle cx="608.7" cy="894.4" r="13"/><circle cx="610.2" cy="890.9" r="13"/><circle cx="611.8" cy="890.9" r="13"/><circle cx="613.3" cy="890.9" r="13"/><circle cx="614.8" cy="887.3" r="13"/><circle cx="616.4" cy="894.4" r="13"/><circle cx="617.9" cy="883.7" r="13"/><circle cx="619.5" cy="887.3" r="13"/><circle cx="621.0" cy="890.9" r="13"/><circle cx="622.5" cy="887.3" r="13"/><circle cx="624.1" cy="890.9" r="13"/><circle cx="625.6" cy="880.1" r="13"/><circle cx="627.1" cy="887.3" r="13"/><circle cx="628.7" cy="880.1" r="13"/><circle cx="630.2" cy="883.7" r="13"/><circle cx="631.8" cy="876.6" r="13"/><circle cx="633.3" cy="876.6" r="13"/><circle cx="634.8" cy="876.6" r="13"/><circle cx="636.4" cy="880.1" r="13"/><circle cx="637.9" cy="869.4" r="13"/><circle cx="639.4" cy="873.0" r="13"/><circle cx="641.0" cy="876.6" r="13"/><circle cx="642.5" cy="876.6" r="13"/><circle cx="644.1" cy="873.0" r="13"/><circle cx="645.6" cy="873.0" r="13"/><circle cx="647.1" cy="876.6" r="13"/><circle cx="648.7" cy="873.0" r="13"/><circle cx="650.2" cy="865.9" r="13"/><circle cx="651.7" cy="869.4" r="13"/><circle cx="653.3" cy="865.9" r="13"/><circle cx="654.8" cy="873.0" r="13"/><circle cx="656.3" cy="865.9" r="13"/><circle cx="657.9" cy="873.0" r="13"/><circle cx="659.4" cy="869.4" r="13"/><circle cx="661.0" cy="865.9" r="13"/><circle cx="662.5" cy="869.4" r="13"/><circle cx="664.0" cy="865.9" r="13"/><circle cx="665.6" cy="862.3" r="13"/><circle cx="667.1" cy="851.6" r="13"/><circle cx="668.6" cy="851.6" r="13"/><circle cx="670.2" cy="851.6" r="13"/><circle cx="671.7" cy="855.2" r="13"/><circle cx="673.3" cy="851.6" r="13"/><circle cx="674.8" cy="848.0" r="13"/><circle cx="676.3" cy="855.2" r="13"/><circle cx="677.9" cy="855.2" r="13"/><circle cx="679.4" cy="844.4" r="13"/><circle cx="680.9" cy="844.4" r="13"/><circle cx="682.5" cy="862.3" r="13"/><circle cx="684.0" cy="840.9" r="13"/><circle cx="685.6" cy="848.0" r="13"/><circle cx="687.1" cy="858.7" r="13"/><circle cx="688.6" cy="837.3" r="13"/><circle cx="690.2" cy="830.2" r="13"/><circle cx="691.7" cy="858.7" r="13"/><circle cx="693.2" cy="855.2" r="13"/><circle cx="694.8" cy="830.2" r="13"/><circle cx="696.3" cy="855.2" r="13"/><circle cx="697.9" cy="855.2" r="13"/><circle cx="699.4" cy="851.6" r="13"/><circle cx="700.9" cy="833.7" r="13"/><circle cx="702.5" cy="840.9" r="13"/><circle cx="704.0" cy="837.3" r="13"/><circle cx="705.5" cy="830.2" r="13"/><circle cx="707.1" cy="833.7" r="13"/><circle cx="708.6" cy="844.4" r="13"/><circle cx="710.2" cy="833.7" r="13"/><circle cx="711.7" cy="833.7" r="13"/><circle cx="713.2" cy="840.9" r="13"/><circle cx="714.8" cy="833.7" r="13"/><circle cx="716.3" cy="830.2" r="13"/><circle cx="717.8" cy="851.6" r="13"/><circle cx="719.4" cy="840.9" r="13"/><circle cx="720.9" cy="826.6" r="13"/><circle cx="722.5" cy="826.6" r="13"/><circle cx="724.0" cy="819.5" r="13"/><circle cx="725.5" cy="837.3" r="13"/><circle cx="727.1" cy="823.0" r="13"/><circle cx="728.6" cy="808.8" r="13"/><circle cx="730.1" cy="840.9" r="13"/><circle cx="731.7" cy="812.3" r="13"/><circle cx="733.2" cy="819.5" r="13"/><circle cx="734.8" cy="826.6" r="13"/><circle cx="736.3" cy="815.9" r="13"/><circle cx="737.8" cy="833.7" r="13"/><circle cx="739.4" cy="826.6" r="13"/><circle cx="740.9" cy="826.6" r="13"/><circle cx="742.4" cy="826.6" r="13"/><circle cx="744.0" cy="833.7" r="13"/><circle cx="745.5" cy="830.2" r="13"/><circle cx="747.1" cy="808.8" r="13"/><circle cx="748.6" cy="808.8" r="13"/><circle cx="750.1" cy="805.2" r="13"/><circle cx="751.7" cy="808.8" r="13"/><circle cx="753.2" cy="815.9" r="13"/><circle cx="754.7" cy="812.3" r="13"/><circle cx="756.3" cy="815.9" r="13"/><circle cx="757.8" cy="812.3" r="13"/><circle cx="759.4" cy="812.3" r="13"/><circle cx="760.9" cy="808.8" r="13"/><circle cx="762.4" cy="826.6" r="13"/><circle cx="764.0" cy="826.6" r="13"/><circle cx="765.5" cy="815.9" r="13"/><circle cx="767.0" cy="808.8" r="13"/><circle cx="768.6" cy="801.6" r="13"/><circle cx="770.1" cy="798.0" r="13"/><circle cx="771.7" cy="812.3" r="13"/><circle cx="773.2" cy="815.9" r="13"/><circle cx="774.7" cy="790.9" r="13"/><circle cx="776.3" cy="812.3" r="13"/><circle cx="777.8" cy="808.8" r="13"/><circle cx="779.3" cy="790.9" r="13"/><circle cx="780.9" cy="819.5" r="13"/><circle cx="782.4" cy="808.8" r="13"/><circle cx="784.0" cy="801.6" r="13"/><circle cx="785.5" cy="805.2" r="13"/><circle cx="787.0" cy="801.6" r="13"/><circle cx="788.6" cy="801.6" r="13"/><circle cx="790.1" cy="808.8" r="13"/><circle cx="791.6" cy="798.0" r="13"/><circle cx="793.2" cy="790.9" r="13"/><circle cx="794.7" cy="805.2" r="13"/><circle cx="796.3" cy="805.2" r="13"/><circle cx="797.8" cy="783.8" r="13"/><circle cx="799.3" cy="783.8" r="13"/><circle cx="800.9" cy="790.9" r="13"/><circle cx="802.4" cy="805.2" r="13"/><circle cx="803.9" cy="798.0" r="13"/><circle cx="805.5" cy="798.0" r="13"/><circle cx="807.0" cy="790.9" r="13"/><circle cx="808.6" cy="783.8" r="13"/><circle cx="810.1" cy="790.9" r="13"/><circle cx="811.6" cy="787.3" r="13"/><circle cx="813.2" cy="783.8" r="13"/><circle cx="814.7" cy="773.0" r="13"/><circle cx="816.2" cy="794.5" r="13"/><circle cx="817.8" cy="776.6" r="13"/><circle cx="819.3" cy="783.8" r="13"/><circle cx="820.9" cy="790.9" r="13"/><circle cx="822.4" cy="780.2" r="13"/><circle cx="823.9" cy="787.3" r="13"/><circle cx="825.5" cy="787.3" r="13"/><circle cx="827.0" cy="776.6" r="13"/><circle cx="828.5" cy="776.6" r="13"/><circle cx="830.1" cy="783.8" r="13"/><circle cx="831.6" cy="787.3" r="13"/><circle cx="833.2" cy="780.2" r="13"/><circle cx="834.7" cy="783.8" r="13"/><circle cx="836.2" cy="776.6" r="13"/><circle cx="837.8" cy="776.6" r="13"/><circle cx="839.3" cy="773.0" r="13"/><circle cx="840.8" cy="776.6" r="13"/><circle cx="842.4" cy="780.2" r="13"/><circle cx="843.9" cy="783.8" r="13"/><circle cx="845.4" cy="773.0" r="13"/><circle cx="847.0" cy="780.2" r="13"/><circle cx="848.5" cy="776.6" r="13"/><circle cx="850.1" cy="769.5" r="13"/><circle cx="851.6" cy="769.5" r="13"/><circle cx="853.1" cy="773.0" r="13"/><circle cx="854.7" cy="776.6" r="13"/><circle cx="856.2" cy="769.5" r="13"/><circle cx="857.7" cy="776.6" r="13"/><circle cx="859.3" cy="773.0" r="13"/><circle cx="860.8" cy="769.5" r="13"/><circle cx="862.4" cy="762.3" r="13"/><circle cx="863.9" cy="769.5" r="13"/><circle cx="865.4" cy="765.9" r="13"/><circle cx="867.0" cy="769.5" r="13"/><circle cx="868.5" cy="758.8" r="13"/><circle cx="870.0" cy="769.5" r="13"/><circle cx="871.6" cy="769.5" r="13"/><circle cx="873.1" cy="762.3" r="13"/><circle cx="874.7" cy="758.8" r="13"/><circle cx="876.2" cy="758.8" r="13"/><circle cx="877.7" cy="758.8" r="13"/><circle cx="879.3" cy="762.3" r="13"/><circle cx="880.8" cy="758.8" r="13"/><circle cx="882.3" cy="762.3" r="13"/><circle cx="883.9" cy="758.8" r="13"/><circle cx="885.4" cy="762.3" r="13"/><circle cx="887.0" cy="762.3" r="13"/><circle cx="888.5" cy="758.8" r="13"/><circle cx="890.0" cy="751.6" r="13"/><circle cx="891.6" cy="755.2" r="13"/><circle cx="893.1" cy="755.2" r="13"/><circle cx="894.6" cy="751.6" r="13"/><circle cx="896.2" cy="758.8" r="13"/><circle cx="897.7" cy="758.8" r="13"/><circle cx="899.3" cy="751.6" r="13"/><circle cx="900.8" cy="751.6" r="13"/><circle cx="902.3" cy="755.2" r="13"/><circle cx="903.9" cy="748.1" r="13"/><circle cx="905.4" cy="751.6" r="13"/><circle cx="906.9" cy="748.1" r="13"/><circle cx="908.5" cy="744.5" r="13"/><circle cx="910.0" cy="748.1" r="13"/><circle cx="911.6" cy="744.5" r="13"/><circle cx="913.1" cy="748.1" r="13"/><circle cx="914.6" cy="748.1" r="13"/><circle cx="916.2" cy="748.1" r="13"/><circle cx="917.7" cy="744.5" r="13"/><circle cx="919.2" cy="740.9" r="13"/><circle cx="920.8" cy="744.5" r="13"/><circle cx="922.3" cy="744.5" r="13"/><circle cx="923.9" cy="740.9" r="13"/><circle cx="925.4" cy="737.3" r="13"/><circle cx="926.9" cy="740.9" r="13"/><circle cx="928.5" cy="740.9" r="13"/><circle cx="930.0" cy="740.9" r="13"/><circle cx="931.5" cy="737.3" r="13"/><circle cx="933.1" cy="733.8" r="13"/><circle cx="934.6" cy="740.9" r="13"/><circle cx="936.2" cy="737.3" r="13"/><circle cx="937.7" cy="733.8" r="13"/><circle cx="939.2" cy="733.8" r="13"/><circle cx="940.8" cy="737.3" r="13"/><circle cx="942.3" cy="733.8" r="13"/><circle cx="943.8" cy="733.8" r="13"/><circle cx="945.4" cy="733.8" r="13"/><circle cx="946.9" cy="726.6" r="13"/><circle cx="948.5" cy="733.8" r="13"/><circle cx="950.0" cy="730.2" r="13"/><circle cx="951.5" cy="730.2" r="13"/><circle cx="953.1" cy="730.2" r="13"/><circle cx="954.6" cy="733.8" r="13"/><circle cx="956.1" cy="726.6" r="13"/><circle cx="957.7" cy="726.6" r="13"/><circle cx="959.2" cy="726.6" r="13"/><circle cx="960.8" cy="726.6" r="13"/><circle cx="962.3" cy="730.2" r="13"/><circle cx="963.8" cy="723.1" r="13"/><circle cx="965.4" cy="723.1" r="13"/><circle cx="966.9" cy="723.1" r="13"/><circle cx="968.4" cy="723.1" r="13"/><circle cx="970.0" cy="723.1" r="13"/><circle cx="971.5" cy="719.5" r="13"/><circle cx="973.1" cy="723.1" r="13"/><circle cx="974.6" cy="719.5" r="13"/><circle cx="976.1" cy="715.9" r="13"/><circle cx="977.7" cy="719.5" r="13"/><circle cx="979.2" cy="719.5" r="13"/><circle cx="980.7" cy="719.5" r="13"/><circle cx="982.3" cy="719.5" r="13"/><circle cx="983.8" cy="719.5" r="13"/><circle cx="985.4" cy="719.5" r="13"/><circle cx="986.9" cy="715.9" r="13"/><circle cx="988.4" cy="715.9" r="13"/><circle cx="990.0" cy="715.9" r="13"/><circle cx="991.5" cy="719.5" r="13"/><circle cx="993.0" cy="708.8" r="13"/><circle cx="994.6" cy="715.9" r="13"/><circle cx="996.1" cy="712.4" r="13"/><circle cx="997.7" cy="712.4" r="13"/><circle cx="999.2" cy="708.8" r="13"/><circle cx="1000.7" cy="715.9" r="13"/><circle cx="1002.3" cy="701.6" r="13"/><circle cx="1003.8" cy="708.8" r="13"/><circle cx="1005.3" cy="712.4" r="13"/><circle cx="1006.9" cy="708.8" r="13"/><circle cx="1008.4" cy="708.8" r="13"/><circle cx="1010.0" cy="708.8" r="13"/><circle cx="1011.5" cy="705.2" r="13"/><circle cx="1013.0" cy="705.2" r="13"/><circle cx="1014.6" cy="701.6" r="13"/><circle cx="1016.1" cy="705.2" r="13"/><circle cx="1017.6" cy="708.8" r="13"/><circle cx="1019.2" cy="701.6" r="13"/><circle cx="1020.7" cy="701.6" r="13"/><circle cx="1022.3" cy="701.6" r="13"/><circle cx="1023.8" cy="701.6" r="13"/><circle cx="1025.3" cy="701.6" r="13"/><circle cx="1026.9" cy="705.2" r="13"/><circle cx="1028.4" cy="698.1" r="13"/><circle cx="1029.9" cy="698.1" r="13"/><circle cx="1031.5" cy="701.6" r="13"/><circle cx="1033.0" cy="698.1" r="13"/><circle cx="1034.6" cy="694.5" r="13"/><circle cx="1036.1" cy="698.1" r="13"/><circle cx="1037.6" cy="701.6" r="13"/><circle cx="1039.2" cy="698.1" r="13"/><circle cx="1040.7" cy="698.1" r="13"/><circle cx="1042.2" cy="690.9" r="13"/><circle cx="1043.8" cy="698.1" r="13"/><circle cx="1045.3" cy="701.6" r="13"/><circle cx="1046.8" cy="698.1" r="13"/><circle cx="1048.4" cy="694.5" r="13"/><circle cx="1049.9" cy="690.9" r="13"/><circle cx="1051.5" cy="687.4" r="13"/><circle cx="1053.0" cy="698.1" r="13"/><circle cx="1054.5" cy="690.9" r="13"/><circle cx="1056.1" cy="683.8" r="13"/><circle cx="1057.6" cy="687.4" r="13"/><circle cx="1059.1" cy="698.1" r="13"/><circle cx="1060.7" cy="698.1" r="13"/><circle cx="1062.2" cy="698.1" r="13"/><circle cx="1063.8" cy="687.4" r="13"/><circle cx="1065.3" cy="690.9" r="13"/><circle cx="1066.8" cy="694.5" r="13"/><circle cx="1068.4" cy="690.9" r="13"/><circle cx="1069.9" cy="680.2" r="13"/><circle cx="1071.4" cy="680.2" r="13"/><circle cx="1073.0" cy="694.5" r="13"/><circle cx="1074.5" cy="680.2" r="13"/><circle cx="1076.1" cy="694.5" r="13"/><circle cx="1077.6" cy="683.8" r="13"/><circle cx="1079.1" cy="690.9" r="13"/><circle cx="1080.7" cy="680.2" r="13"/><circle cx="1082.2" cy="676.7" r="13"/><circle cx="1083.7" cy="680.2" r="13"/><circle cx="1085.3" cy="680.2" r="13"/><circle cx="1086.8" cy="683.8" r="13"/><circle cx="1088.4" cy="673.1" r="13"/><circle cx="1089.9" cy="690.9" r="13"/><circle cx="1091.4" cy="683.8" r="13"/><circle cx="1093.0" cy="683.8" r="13"/><circle cx="1094.5" cy="683.8" r="13"/><circle cx="1096.0" cy="673.1" r="13"/><circle cx="1097.6" cy="683.8" r="13"/><circle cx="1099.1" cy="683.8" r="13"/><circle cx="1100.7" cy="676.7" r="13"/><circle cx="1102.2" cy="669.5" r="13"/><circle cx="1103.7" cy="673.1" r="13"/><circle cx="1105.3" cy="680.2" r="13"/><circle cx="1106.8" cy="676.7" r="13"/><circle cx="1108.3" cy="662.4" r="13"/><circle cx="1109.9" cy="680.2" r="13"/><circle cx="1111.4" cy="662.4" r="13"/><circle cx="1113.0" cy="676.7" r="13"/><circle cx="1114.5" cy="665.9" r="13"/><circle cx="1116.0" cy="680.2" r="13"/><circle cx="1117.6" cy="676.7" r="13"/><circle cx="1119.1" cy="676.7" r="13"/><circle cx="1120.6" cy="658.8" r="13"/><circle cx="1122.2" cy="662.4" r="13"/><circle cx="1123.7" cy="665.9" r="13"/><circle cx="1125.3" cy="662.4" r="13"/><circle cx="1126.8" cy="669.5" r="13"/><circle cx="1128.3" cy="662.4" r="13"/><circle cx="1129.9" cy="655.2" r="13"/><circle cx="1131.4" cy="658.8" r="13"/><circle cx="1132.9" cy="662.4" r="13"/><circle cx="1134.5" cy="655.2" r="13"/><circle cx="1136.0" cy="655.2" r="13"/><circle cx="1137.6" cy="665.9" r="13"/><circle cx="1139.1" cy="665.9" r="13"/><circle cx="1140.6" cy="665.9" r="13"/><circle cx="1142.2" cy="662.4" r="13"/><circle cx="1143.7" cy="655.2" r="13"/><circle cx="1145.2" cy="665.9" r="13"/><circle cx="1146.8" cy="651.7" r="13"/><circle cx="1148.3" cy="662.4" r="13"/><circle cx="1149.9" cy="669.5" r="13"/><circle cx="1151.4" cy="655.2" r="13"/><circle cx="1152.9" cy="662.4" r="13"/><circle cx="1154.5" cy="665.9" r="13"/><circle cx="1156.0" cy="662.4" r="13"/><circle cx="1157.5" cy="648.1" r="13"/><circle cx="1159.1" cy="655.2" r="13"/><circle cx="1160.6" cy="658.8" r="13"/><circle cx="1162.2" cy="651.7" r="13"/><circle cx="1163.7" cy="655.2" r="13"/><circle cx="1165.2" cy="655.2" r="13"/><circle cx="1166.8" cy="651.7" r="13"/><circle cx="1168.3" cy="658.8" r="13"/><circle cx="1169.8" cy="648.1" r="13"/><circle cx="1171.4" cy="651.7" r="13"/><circle cx="1172.9" cy="651.7" r="13"/><circle cx="1174.5" cy="651.7" r="13"/><circle cx="1176.0" cy="651.7" r="13"/><circle cx="1177.5" cy="644.5" r="13"/><circle cx="1179.1" cy="644.5" r="13"/><circle cx="1180.6" cy="651.7" r="13"/><circle cx="1182.1" cy="648.1" r="13"/><circle cx="1183.7" cy="648.1" r="13"/><circle cx="1185.2" cy="648.1" r="13"/><circle cx="1186.8" cy="648.1" r="13"/><circle cx="1188.3" cy="644.5" r="13"/><circle cx="1189.8" cy="637.4" r="13"/><circle cx="1191.4" cy="641.0" r="13"/><circle cx="1192.9" cy="644.5" r="13"/><circle cx="1194.4" cy="637.4" r="13"/><circle cx="1196.0" cy="648.1" r="13"/><circle cx="1197.5" cy="644.5" r="13"/><circle cx="1199.1" cy="648.1" r="13"/><circle cx="1200.6" cy="641.0" r="13"/><circle cx="1202.1" cy="633.8" r="13"/><circle cx="1203.7" cy="637.4" r="13"/><circle cx="1205.2" cy="641.0" r="13"/><circle cx="1206.7" cy="630.2" r="13"/><circle cx="1208.3" cy="641.0" r="13"/><circle cx="1209.8" cy="630.2" r="13"/><circle cx="1211.4" cy="637.4" r="13"/><circle cx="1212.9" cy="630.2" r="13"/><circle cx="1214.4" cy="626.7" r="13"/><circle cx="1216.0" cy="626.7" r="13"/><circle cx="1217.5" cy="626.7" r="13"/><circle cx="1219.0" cy="630.2" r="13"/><circle cx="1220.6" cy="630.2" r="13"/><circle cx="1222.1" cy="623.1" r="13"/><circle cx="1223.7" cy="619.5" r="13"/><circle cx="1225.2" cy="630.2" r="13"/><circle cx="1226.7" cy="626.7" r="13"/><circle cx="1228.3" cy="623.1" r="13"/><circle cx="1229.8" cy="619.5" r="13"/><circle cx="1231.3" cy="623.1" r="13"/><circle cx="1232.9" cy="623.1" r="13"/><circle cx="1234.4" cy="616.0" r="13"/><circle cx="1235.9" cy="623.1" r="13"/><circle cx="1237.5" cy="619.5" r="13"/><circle cx="1239.0" cy="616.0" r="13"/><circle cx="1240.6" cy="619.5" r="13"/><circle cx="1242.1" cy="619.5" r="13"/><circle cx="1243.6" cy="612.4" r="13"/><circle cx="1245.2" cy="616.0" r="13"/><circle cx="1246.7" cy="612.4" r="13"/><circle cx="1248.2" cy="612.4" r="13"/><circle cx="1249.8" cy="608.8" r="13"/><circle cx="1251.3" cy="608.8" r="13"/><circle cx="1252.9" cy="612.4" r="13"/><circle cx="1254.4" cy="601.7" r="13"/><circle cx="1255.9" cy="601.7" r="13"/><circle cx="1257.5" cy="608.8" r="13"/><circle cx="1259.0" cy="598.1" r="13"/><circle cx="1260.5" cy="612.4" r="13"/><circle cx="1262.1" cy="598.1" r="13"/><circle cx="1263.6" cy="601.7" r="13"/><circle cx="1265.2" cy="601.7" r="13"/><circle cx="1266.7" cy="601.7" r="13"/><circle cx="1268.2" cy="591.0" r="13"/><circle cx="1269.8" cy="594.5" r="13"/><circle cx="1271.3" cy="594.5" r="13"/><circle cx="1272.8" cy="601.7" r="13"/><circle cx="1274.4" cy="601.7" r="13"/><circle cx="1275.9" cy="598.1" r="13"/><circle cx="1277.5" cy="598.1" r="13"/><circle cx="1279.0" cy="598.1" r="13"/><circle cx="1280.5" cy="591.0" r="13"/><circle cx="1282.1" cy="601.7" r="13"/><circle cx="1283.6" cy="591.0" r="13"/><circle cx="1285.1" cy="583.8" r="13"/><circle cx="1286.7" cy="591.0" r="13"/><circle cx="1288.2" cy="591.0" r="13"/><circle cx="1289.8" cy="583.8" r="13"/><circle cx="1291.3" cy="594.5" r="13"/><circle cx="1292.8" cy="594.5" r="13"/><circle cx="1294.4" cy="591.0" r="13"/><circle cx="1295.9" cy="587.4" r="13"/><circle cx="1297.4" cy="580.3" r="13"/><circle cx="1299.0" cy="587.4" r="13"/><circle cx="1300.5" cy="583.8" r="13"/><circle cx="1302.1" cy="580.3" r="13"/><circle cx="1303.6" cy="580.3" r="13"/><circle cx="1305.1" cy="576.7" r="13"/><circle cx="1306.7" cy="573.1" r="13"/><circle cx="1308.2" cy="580.3" r="13"/><circle cx="1309.7" cy="576.7" r="13"/><circle cx="1311.3" cy="576.7" r="13"/><circle cx="1312.8" cy="583.8" r="13"/><circle cx="1314.4" cy="580.3" r="13"/><circle cx="1315.9" cy="583.8" r="13"/><circle cx="1317.4" cy="576.7" r="13"/><circle cx="1319.0" cy="583.8" r="13"/><circle cx="1320.5" cy="580.3" r="13"/><circle cx="1322.0" cy="583.8" r="13"/><circle cx="1323.6" cy="583.8" r="13"/><circle cx="1325.1" cy="580.3" r="13"/><circle cx="1326.7" cy="573.1" r="13"/><circle cx="1328.2" cy="566.0" r="13"/><circle cx="1329.7" cy="566.0" r="13"/><circle cx="1331.3" cy="569.6" r="13"/><circle cx="1332.8" cy="573.1" r="13"/><circle cx="1334.3" cy="576.7" r="13"/><circle cx="1335.9" cy="569.6" r="13"/><circle cx="1337.4" cy="576.7" r="13"/><circle cx="1339.0" cy="576.7" r="13"/><circle cx="1340.5" cy="569.6" r="13"/><circle cx="1342.0" cy="576.7" r="13"/><circle cx="1343.6" cy="569.6" r="13"/><circle cx="1345.1" cy="573.1" r="13"/><circle cx="1346.6" cy="566.0" r="13"/><circle cx="1348.2" cy="566.0" r="13"/><circle cx="1349.7" cy="573.1" r="13"/><circle cx="1351.3" cy="562.4" r="13"/><circle cx="1352.8" cy="569.6" r="13"/><circle cx="1354.3" cy="573.1" r="13"/><circle cx="1355.9" cy="569.6" r="13"/><circle cx="1357.4" cy="569.6" r="13"/><circle cx="1358.9" cy="562.4" r="13"/><circle cx="1360.5" cy="569.6" r="13"/><circle cx="1362.0" cy="566.0" r="13"/><circle cx="1363.6" cy="573.1" r="13"/><circle cx="1365.1" cy="569.6" r="13"/><circle cx="1366.6" cy="562.4" r="13"/><circle cx="1368.2" cy="558.8" r="13"/><circle cx="1369.7" cy="569.6" r="13"/><circle cx="1371.2" cy="566.0" r="13"/><circle cx="1372.8" cy="558.8" r="13"/><circle cx="1374.3" cy="562.4" r="13"/><circle cx="1375.9" cy="558.8" r="13"/><circle cx="1377.4" cy="558.8" r="13"/><circle cx="1378.9" cy="555.3" r="13"/><circle cx="1380.5" cy="558.8" r="13"/><circle cx="1382.0" cy="555.3" r="13"/><circle cx="1383.5" cy="551.7" r="13"/><circle cx="1385.1" cy="569.6" r="13"/><circle cx="1386.6" cy="555.3" r="13"/><circle cx="1388.2" cy="551.7" r="13"/><circle cx="1389.7" cy="566.0" r="13"/><circle cx="1391.2" cy="555.3" r="13"/><circle cx="1392.8" cy="562.4" r="13"/><circle cx="1394.3" cy="566.0" r="13"/><circle cx="1395.8" cy="555.3" r="13"/><circle cx="1397.4" cy="562.4" r="13"/><circle cx="1398.9" cy="558.8" r="13"/><circle cx="1400.5" cy="562.4" r="13"/><circle cx="1402.0" cy="555.3" r="13"/><circle cx="1403.5" cy="551.7" r="13"/><circle cx="1405.1" cy="551.7" r="13"/><circle cx="1406.6" cy="551.7" r="13"/><circle cx="1408.1" cy="551.7" r="13"/><circle cx="1409.7" cy="551.7" r="13"/><circle cx="1411.2" cy="551.7" r="13"/><circle cx="1412.8" cy="558.8" r="13"/><circle cx="1414.3" cy="558.8" r="13"/><circle cx="1415.8" cy="555.3" r="13"/><circle cx="1417.4" cy="558.8" r="13"/><circle cx="1418.9" cy="548.1" r="13"/><circle cx="1420.4" cy="555.3" r="13"/><circle cx="1422.0" cy="537.4" r="13"/><circle cx="1423.5" cy="555.3" r="13"/><circle cx="1425.0" cy="548.1" r="13"/><circle cx="1426.6" cy="551.7" r="13"/><circle cx="1428.1" cy="548.1" r="13"/><circle cx="1429.7" cy="537.4" r="13"/><circle cx="1431.2" cy="544.6" r="13"/><circle cx="1432.7" cy="537.4" r="13"/><circle cx="1434.3" cy="537.4" r="13"/><circle cx="1435.8" cy="548.1" r="13"/><circle cx="1437.3" cy="537.4" r="13"/><circle cx="1438.9" cy="548.1" r="13"/><circle cx="1440.4" cy="526.7" r="13"/><circle cx="1442.0" cy="533.9" r="13"/><circle cx="1443.5" cy="548.1" r="13"/><circle cx="1445.0" cy="533.9" r="13"/><circle cx="1446.6" cy="541.0" r="13"/><circle cx="1448.1" cy="544.6" r="13"/><circle cx="1449.6" cy="551.7" r="13"/><circle cx="1451.2" cy="526.7" r="13"/><circle cx="1452.7" cy="541.0" r="13"/><circle cx="1454.3" cy="537.4" r="13"/><circle cx="1455.8" cy="541.0" r="13"/><circle cx="1457.3" cy="526.7" r="13"/><circle cx="1458.9" cy="533.9" r="13"/><circle cx="1460.4" cy="533.9" r="13"/><circle cx="1461.9" cy="530.3" r="13"/><circle cx="1463.5" cy="530.3" r="13"/><circle cx="1465.0" cy="519.6" r="13"/><circle cx="1466.6" cy="533.9" r="13"/><circle cx="1468.1" cy="533.9" r="13"/><circle cx="1469.6" cy="533.9" r="13"/><circle cx="1471.2" cy="533.9" r="13"/><circle cx="1472.7" cy="526.7" r="13"/><circle cx="1474.2" cy="523.1" r="13"/><circle cx="1475.8" cy="544.6" r="13"/><circle cx="1477.3" cy="526.7" r="13"/><circle cx="1478.9" cy="516.0" r="13"/><circle cx="1480.4" cy="541.0" r="13"/><circle cx="1481.9" cy="544.6" r="13"/><circle cx="1483.5" cy="519.6" r="13"/><circle cx="1485.0" cy="530.3" r="13"/><circle cx="1486.5" cy="512.4" r="13"/><circle cx="1488.1" cy="530.3" r="13"/><circle cx="1489.6" cy="512.4" r="13"/><circle cx="1491.2" cy="519.6" r="13"/><circle cx="1492.7" cy="516.0" r="13"/><circle cx="1494.2" cy="526.7" r="13"/><circle cx="1495.8" cy="526.7" r="13"/><circle cx="1497.3" cy="526.7" r="13"/><circle cx="1498.8" cy="526.7" r="13"/><circle cx="1500.4" cy="508.9" r="13"/><circle cx="1501.9" cy="530.3" r="13"/><circle cx="1503.5" cy="523.1" r="13"/><circle cx="1505.0" cy="526.7" r="13"/><circle cx="1506.5" cy="530.3" r="13"/><circle cx="1508.1" cy="519.6" r="13"/><circle cx="1509.6" cy="512.4" r="13"/><circle cx="1511.1" cy="523.1" r="13"/><circle cx="1512.7" cy="526.7" r="13"/><circle cx="1514.2" cy="526.7" r="13"/><circle cx="1515.8" cy="505.3" r="13"/><circle cx="1517.3" cy="533.9" r="13"/><circle cx="1518.8" cy="533.9" r="13"/><circle cx="1520.4" cy="512.4" r="13"/><circle cx="1521.9" cy="512.4" r="13"/><circle cx="1523.4" cy="516.0" r="13"/><circle cx="1525.0" cy="505.3" r="13"/><circle cx="1526.5" cy="516.0" r="13"/><circle cx="1528.1" cy="505.3" r="13"/><circle cx="1529.6" cy="516.0" r="13"/><circle cx="1531.1" cy="519.6" r="13"/><circle cx="1532.7" cy="508.9" r="13"/><circle cx="1534.2" cy="501.7" r="13"/><circle cx="1535.7" cy="498.2" r="13"/><circle cx="1537.3" cy="516.0" r="13"/><circle cx="1538.8" cy="505.3" r="13"/><circle cx="1540.4" cy="505.3" r="13"/><circle cx="1541.9" cy="508.9" r="13"/><circle cx="1543.4" cy="501.7" r="13"/><circle cx="1545.0" cy="516.0" r="13"/><circle cx="1546.5" cy="498.2" r="13"/><circle cx="1548.0" cy="498.2" r="13"/><circle cx="1549.6" cy="501.7" r="13"/><circle cx="1551.1" cy="512.4" r="13"/><circle cx="1552.7" cy="508.9" r="13"/><circle cx="1554.2" cy="512.4" r="13"/><circle cx="1555.7" cy="501.7" r="13"/><circle cx="1557.3" cy="494.6" r="13"/><circle cx="1558.8" cy="491.0" r="13"/><circle cx="1560.3" cy="505.3" r="13"/><circle cx="1561.9" cy="494.6" r="13"/><circle cx="1563.4" cy="491.0" r="13"/><circle cx="1565.0" cy="494.6" r="13"/><circle cx="1566.5" cy="501.7" r="13"/><circle cx="1568.0" cy="491.0" r="13"/><circle cx="1569.6" cy="498.2" r="13"/><circle cx="1571.1" cy="494.6" r="13"/><circle cx="1572.6" cy="501.7" r="13"/><circle cx="1574.2" cy="498.2" r="13"/><circle cx="1575.7" cy="491.0" r="13"/><circle cx="1577.3" cy="487.4" r="13"/><circle cx="1578.8" cy="498.2" r="13"/><circle cx="1580.3" cy="491.0" r="13"/><circle cx="1581.9" cy="494.6" r="13"/><circle cx="1583.4" cy="498.2" r="13"/><circle cx="1584.9" cy="483.9" r="13"/><circle cx="1586.5" cy="494.6" r="13"/><circle cx="1588.0" cy="483.9" r="13"/><circle cx="1589.6" cy="491.0" r="13"/><circle cx="1591.1" cy="491.0" r="13"/><circle cx="1592.6" cy="487.4" r="13"/><circle cx="1594.2" cy="491.0" r="13"/><circle cx="1595.7" cy="494.6" r="13"/><circle cx="1597.2" cy="491.0" r="13"/><circle cx="1598.8" cy="480.3" r="13"/><circle cx="1600.3" cy="487.4" r="13"/><circle cx="1601.9" cy="487.4" r="13"/><circle cx="1603.4" cy="487.4" r="13"/><circle cx="1604.9" cy="491.0" r="13"/><circle cx="1606.5" cy="487.4" r="13"/><circle cx="1608.0" cy="480.3" r="13"/><circle cx="1609.5" cy="480.3" r="13"/><circle cx="1611.1" cy="487.4" r="13"/><circle cx="1612.6" cy="476.7" r="13"/><circle cx="1614.1" cy="483.9" r="13"/><circle cx="1615.7" cy="476.7" r="13"/><circle cx="1617.2" cy="483.9" r="13"/><circle cx="1618.8" cy="473.2" r="13"/><circle cx="1620.3" cy="480.3" r="13"/><circle cx="1621.8" cy="476.7" r="13"/><circle cx="1623.4" cy="473.2" r="13"/><circle cx="1624.9" cy="476.7" r="13"/><circle cx="1626.4" cy="476.7" r="13"/><circle cx="1628.0" cy="480.3" r="13"/><circle cx="1629.5" cy="480.3" r="13"/><circle cx="1631.1" cy="473.2" r="13"/><circle cx="1632.6" cy="483.9" r="13"/><circle cx="1634.1" cy="476.7" r="13"/><circle cx="1635.7" cy="480.3" r="13"/><circle cx="1637.2" cy="469.6" r="13"/><circle cx="1638.7" cy="480.3" r="13"/><circle cx="1640.3" cy="473.2" r="13"/><circle cx="1641.8" cy="469.6" r="13"/><circle cx="1643.4" cy="476.7" r="13"/><circle cx="1644.9" cy="476.7" r="13"/><circle cx="1646.4" cy="476.7" r="13"/><circle cx="1648.0" cy="466.0" r="13"/><circle cx="1649.5" cy="476.7" r="13"/><circle cx="1651.0" cy="469.6" r="13"/><circle cx="1652.6" cy="466.0" r="13"/><circle cx="1654.1" cy="469.6" r="13"/><circle cx="1655.7" cy="469.6" r="13"/><circle cx="1657.2" cy="466.0" r="13"/><circle cx="1658.7" cy="473.2" r="13"/><circle cx="1660.3" cy="469.6" r="13"/><circle cx="1661.8" cy="466.0" r="13"/><circle cx="1663.3" cy="473.2" r="13"/><circle cx="1664.9" cy="466.0" r="13"/><circle cx="1666.4" cy="462.5" r="13"/><circle cx="1668.0" cy="473.2" r="13"/><circle cx="1669.5" cy="466.0" r="13"/><circle cx="1671.0" cy="469.6" r="13"/><circle cx="1672.6" cy="466.0" r="13"/><circle cx="1674.1" cy="466.0" r="13"/><circle cx="1675.6" cy="466.0" r="13"/><circle cx="1677.2" cy="466.0" r="13"/><circle cx="1678.7" cy="455.3" r="13"/><circle cx="1680.3" cy="466.0" r="13"/><circle cx="1681.8" cy="458.9" r="13"/><circle cx="1683.3" cy="466.0" r="13"/><circle cx="1684.9" cy="458.9" r="13"/><circle cx="1686.4" cy="458.9" r="13"/><circle cx="1687.9" cy="455.3" r="13"/><circle cx="1689.5" cy="462.5" r="13"/><circle cx="1691.0" cy="469.6" r="13"/><circle cx="1692.6" cy="466.0" r="13"/><circle cx="1694.1" cy="458.9" r="13"/><circle cx="1695.6" cy="458.9" r="13"/><circle cx="1697.2" cy="455.3" r="13"/><circle cx="1698.7" cy="451.7" r="13"/><circle cx="1700.2" cy="458.9" r="13"/><circle cx="1701.8" cy="451.7" r="13"/><circle cx="1703.3" cy="462.5" r="13"/><circle cx="1704.9" cy="451.7" r="13"/><circle cx="1706.4" cy="458.9" r="13"/><circle cx="1707.9" cy="451.7" r="13"/><circle cx="1709.5" cy="458.9" r="13"/><circle cx="1711.0" cy="448.2" r="13"/><circle cx="1712.5" cy="448.2" r="13"/><circle cx="1714.1" cy="448.2" r="13"/><circle cx="1715.6" cy="451.7" r="13"/><circle cx="1717.2" cy="455.3" r="13"/><circle cx="1718.7" cy="448.2" r="13"/><circle cx="1720.2" cy="458.9" r="13"/><circle cx="1721.8" cy="451.7" r="13"/><circle cx="1723.3" cy="458.9" r="13"/><circle cx="1724.8" cy="458.9" r="13"/><circle cx="1726.4" cy="451.7" r="13"/><circle cx="1727.9" cy="448.2" r="13"/><circle cx="1729.5" cy="444.6" r="13"/><circle cx="1731.0" cy="441.0" r="13"/><circle cx="1732.5" cy="448.2" r="13"/><circle cx="1734.1" cy="448.2" r="13"/><circle cx="1735.6" cy="448.2" r="13"/><circle cx="1737.1" cy="444.6" r="13"/><circle cx="1738.7" cy="455.3" r="13"/><circle cx="1740.2" cy="455.3" r="13"/><circle cx="1741.8" cy="444.6" r="13"/><circle cx="1743.3" cy="455.3" r="13"/><circle cx="1744.8" cy="448.2" r="13"/><circle cx="1746.4" cy="444.6" r="13"/><circle cx="1747.9" cy="451.7" r="13"/><circle cx="1749.4" cy="448.2" r="13"/><circle cx="1751.0" cy="455.3" r="13"/><circle cx="1752.5" cy="437.5" r="13"/><circle cx="1754.1" cy="458.9" r="13"/><circle cx="1755.6" cy="441.0" r="13"/><circle cx="1757.1" cy="441.0" r="13"/><circle cx="1758.7" cy="437.5" r="13"/><circle cx="1760.2" cy="444.6" r="13"/><circle cx="1761.7" cy="437.5" r="13"/><circle cx="1763.3" cy="444.6" r="13"/><circle cx="1764.8" cy="437.5" r="13"/><circle cx="1766.4" cy="433.9" r="13"/><circle cx="1767.9" cy="441.0" r="13"/><circle cx="1769.4" cy="451.7" r="13"/><circle cx="1771.0" cy="441.0" r="13"/><circle cx="1772.5" cy="441.0" r="13"/><circle cx="1774.0" cy="448.2" r="13"/><circle cx="1775.6" cy="441.0" r="13"/><circle cx="1777.1" cy="437.5" r="13"/><circle cx="1778.7" cy="437.5" r="13"/><circle cx="1780.2" cy="441.0" r="13"/><circle cx="1781.7" cy="433.9" r="13"/><circle cx="1783.3" cy="444.6" r="13"/><circle cx="1784.8" cy="433.9" r="13"/><circle cx="1786.3" cy="437.5" r="13"/><circle cx="1787.9" cy="437.5" r="13"/><circle cx="1789.4" cy="444.6" r="13"/><circle cx="1791.0" cy="448.2" r="13"/><circle cx="1792.5" cy="441.0" r="13"/><circle cx="1794.0" cy="433.9" r="13"/><circle cx="1795.6" cy="437.5" r="13"/><circle cx="1797.1" cy="423.2" r="13"/><circle cx="1798.6" cy="430.3" r="13"/><circle cx="1800.2" cy="444.6" r="13"/><circle cx="1801.7" cy="430.3" r="13"/><circle cx="1803.3" cy="444.6" r="13"/><circle cx="1804.8" cy="437.5" r="13"/><circle cx="1806.3" cy="426.8" r="13"/><circle cx="1807.9" cy="426.8" r="13"/><circle cx="1809.4" cy="444.6" r="13"/><circle cx="1810.9" cy="426.8" r="13"/><circle cx="1812.5" cy="426.8" r="13"/><circle cx="1814.0" cy="423.2" r="13"/><circle cx="1815.5" cy="430.3" r="13"/><circle cx="1817.1" cy="437.5" r="13"/><circle cx="1818.6" cy="433.9" r="13"/><circle cx="1820.2" cy="437.5" r="13"/><circle cx="1821.7" cy="423.2" r="13"/><circle cx="1823.2" cy="433.9" r="13"/><circle cx="1824.8" cy="426.8" r="13"/><circle cx="1826.3" cy="426.8" r="13"/><circle cx="1827.8" cy="430.3" r="13"/><circle cx="1829.4" cy="423.2" r="13"/><circle cx="1830.9" cy="419.6" r="13"/><circle cx="1832.5" cy="430.3" r="13"/><circle cx="1834.0" cy="423.2" r="13"/><circle cx="1835.5" cy="433.9" r="13"/><circle cx="1837.1" cy="419.6" r="13"/><circle cx="1838.6" cy="426.8" r="13"/><circle cx="1840.1" cy="423.2" r="13"/><circle cx="1841.7" cy="412.5" r="13"/><circle cx="1843.2" cy="430.3" r="13"/><circle cx="1844.8" cy="412.5" r="13"/><circle cx="1846.3" cy="412.5" r="13"/><circle cx="1847.8" cy="412.5" r="13"/><circle cx="1849.4" cy="423.2" r="13"/><circle cx="1850.9" cy="416.0" r="13"/><circle cx="1852.4" cy="412.5" r="13"/><circle cx="1854.0" cy="412.5" r="13"/><circle cx="1855.5" cy="423.2" r="13"/><circle cx="1857.1" cy="419.6" r="13"/><circle cx="1858.6" cy="405.3" r="13"/><circle cx="1860.1" cy="419.6" r="13"/><circle cx="1861.7" cy="419.6" r="13"/><circle cx="1863.2" cy="416.0" r="13"/><circle cx="1864.7" cy="423.2" r="13"/><circle cx="1866.3" cy="405.3" r="13"/><circle cx="1867.8" cy="426.8" r="13"/><circle cx="1869.4" cy="416.0" r="13"/><circle cx="1870.9" cy="405.3" r="13"/><circle cx="1872.4" cy="416.0" r="13"/><circle cx="1874.0" cy="405.3" r="13"/><circle cx="1875.5" cy="419.6" r="13"/><circle cx="1877.0" cy="405.3" r="13"/><circle cx="1878.6" cy="412.5" r="13"/><circle cx="1880.1" cy="412.5" r="13"/><circle cx="1881.7" cy="416.0" r="13"/><circle cx="1883.2" cy="408.9" r="13"/><circle cx="1884.7" cy="412.5" r="13"/><circle cx="1886.3" cy="405.3" r="13"/><circle cx="1887.8" cy="405.3" r="13"/><circle cx="1889.3" cy="401.8" r="13"/><circle cx="1890.9" cy="412.5" r="13"/><circle cx="1892.4" cy="401.8" r="13"/><circle cx="1894.0" cy="416.0" r="13"/><circle cx="1895.5" cy="405.3" r="13"/><circle cx="1897.0" cy="408.9" r="13"/><circle cx="1898.6" cy="416.0" r="13"/><circle cx="1900.1" cy="408.9" r="13"/><circle cx="1901.6" cy="412.5" r="13"/><circle cx="1903.2" cy="416.0" r="13"/><circle cx="1904.7" cy="412.5" r="13"/><circle cx="1906.3" cy="408.9" r="13"/><circle cx="1907.8" cy="405.3" r="13"/><circle cx="1909.3" cy="408.9" r="13"/><circle cx="1910.9" cy="394.6" r="13"/><circle cx="1912.4" cy="401.8" r="13"/><circle cx="1913.9" cy="398.2" r="13"/><circle cx="1915.5" cy="401.8" r="13"/><circle cx="1917.0" cy="401.8" r="13"/><circle cx="1918.6" cy="401.8" r="13"/><circle cx="1920.1" cy="398.2" r="13"/><circle cx="1921.6" cy="405.3" r="13"/><circle cx="1923.2" cy="398.2" r="13"/><circle cx="1924.7" cy="398.2" r="13"/><circle cx="1926.2" cy="416.0" r="13"/><circle cx="1927.8" cy="401.8" r="13"/><circle cx="1929.3" cy="401.8" r="13"/><circle cx="1930.9" cy="408.9" r="13"/><circle cx="1932.4" cy="412.5" r="13"/><circle cx="1933.9" cy="394.6" r="13"/><circle cx="1935.5" cy="391.1" r="13"/><circle cx="1937.0" cy="401.8" r="13"/><circle cx="1938.5" cy="401.8" r="13"/><circle cx="1940.1" cy="405.3" r="13"/><circle cx="1941.6" cy="401.8" r="13"/><circle cx="1943.2" cy="408.9" r="13"/></g>
<path fill="#0000FF" d="M407.3 1191.5l15.5 27h-31zM408.8 1188.0l15.5 27h-31zM410.4 1173.7l15.5 27h-31zM411.9 1170.1l15.5 27h-31zM413.4 1159.4l15.5 27h-31zM415.0 1155.8l15.5 27h-31zM416.5 1145.1l15.5 27h-31zM418.1 1145.1l15.5 27h-31zM419.6 1134.4l15.5 27h-31zM421.1 1134.4l15.5 27h-31zM422.7 1130.8l15.5 27h-31zM424.2 1145.1l15.5 27h-31zM425.7 1141.5l15.5 27h-31zM427.3 1123.7l15.5 27h-31zM428.8 1109.4l15.5 27h-31zM430.4 1120.1l15.5 27h-31zM431.9 1116.5l15.5 27h-31zM433.4 1109.4l15.5 27h-31zM435.0 1109.4l15.5 27h-31zM436.5 1105.8l15.5 27h-31zM438.0 1098.7l15.5 27h-31zM439.6 1109.4l15.5 27h-31zM441.1 1098.7l15.5 27h-31zM442.7 1095.1l15.5 27h-31zM444.2 1091.6l15.5 27h-31zM445.7 1102.3l15.5 27h-31zM447.3 1098.7l15.5 27h-31zM448.8 1077.3l15.5 27h-31zM450.3 1080.8l15.5 27h-31zM451.9 1095.1l15.5 27h-31zM453.4 1095.1l15.5 27h-31zM455.0 1080.8l15.5 27h-31zM456.5 1095.1l15.5 27h-31zM458.0 1091.6l15.5 27h-31zM459.6 1070.1l15.5 27h-31zM461.1 1070.1l15.5 27h-31zM462.6 1080.8l15.5 27h-31zM464.2 1091.6l15.5 27h-31zM465.7 1077.3l15.5 27h-31zM467.2 1091.6l15.5 27h-31zM468.8 1077.3l15.5 27h-31zM470.3 1091.6l15.5 27h-31zM471.9 1066.6l15.5 27h-31zM473.4 1070.1l15.5 27h-31zM474.9 1088.0l15.5 27h-31zM476.5 1080.8l15.5 27h-31zM478.0 1084.4l15.5 27h-31zM479.5 1066.6l15.5 27h-31zM481.1 1084.4l15.5 27h-31zM482.6 1059.4l15.5 27h-31zM484.2 1059.4l15.5 27h-31zM485.7 1063.0l15.5 27h-31zM487.2 1070.1l15.5 27h-31zM488.8 1073.7l15.5 27h-31zM490.3 1052.3l15.5 27h-31zM491.8 1055.9l15.5 27h-31zM493.4 1055.9l15.5 27h-31zM494.9 1055.9l15.5 27h-31zM496.5 1063.0l15.5 27h-31zM498.0 1063.0l15.5 27h-31zM499.5 1066.6l15.5 27h-31zM501.1 1063.0l15.5 27h-31zM502.6 1052.3l15.5 27h-31zM504.1 1059.4l15.5 27h-31zM505.7 1059.4l15.5 27h-31zM507.2 1052.3l15.5 27h-31zM508.8 1052.3l15.5 27h-31zM510.3 1052.3l15.5 27h-31zM511.8 1045.1l15.5 27h-31zM513.4 1045.1l15.5 27h-31zM514.9 1048.7l15.5 27h-31zM516.4 1041.6l15.5 27h-31zM518.0 1041.6l15.5 27h-31zM519.5 1038.0l15.5 27h-31zM521.1 1038.0l15.5 27h-31zM522.6 1034.4l15.5 27h-31zM524.1 1034.4l15.5 27h-31zM525.7 1030.9l15.5 27h-31zM527.2 1027.3l15.5 27h-31zM528.7 1023.7l15.5 27h-31zM530.3 1023.7l15.5 27h-31zM531.8 1020.2l15.5 27h-31zM533.4 1020.2l15.5 27h-31zM534.9 1020.2l15.5 27h-31zM536.4 1016.6l15.5 27h-31zM538.0 1013.0l15.5 27h-31zM539.5 1013.0l15.5 27h-31zM541.0 1013.0l15.5 27h-31zM542.6 1013.0l15.5 27h-31zM544.1 1013.0l15.5 27h-31zM545.7 1013.0l15.5 27h-31zM547.2 1020.2l15.5 27h-31zM548.7 1020.2l15.5 27h-31zM550.3 1013.0l15.5 27h-31zM551.8 1023.7l15.5 27h-31zM553.3 1009.4l15.5 27h-31zM554.9 1013.0l15.5 27h-31zM556.4 1030.9l15.5 27h-31zM558.0 1027.3l15.5 27h-31zM559.5 1027.3l15.5 27h-31zM561.0 1013.0l15.5 27h-31zM562.6 1023.7l15.5 27h-31zM564.1 1016.6l15.5 27h-31zM565.6 1027.3l15.5 27h-31zM567.2 1030.9l15.5 27h-31zM568.7 1016.6l15.5 27h-31zM570.3 1027.3l15.5 27h-31zM571.8 1020.2l15.5 27h-31zM573.3 1013.0l15.5 27h-31zM574.9 1020.2l15.5 27h-31zM576.4 1020.2l15.5 27h-31zM577.9 1002.3l15.5 27h-31zM579.5 1016.6l15.5 27h-31zM581.0 1016.6l15.5 27h-31zM582.6 1002.3l15.5 27h-31zM584.1 998.7l15.5 27h-31zM585.6 1009.4l15.5 27h-31zM587.2 1027.3l15.5 27h-31zM588.7 1013.0l15.5 27h-31zM590.2 1009.4l15.5 27h-31zM591.8 998.7l15.5 27h-31zM593.3 1016.6l15.5 27h-31zM594.9 1005.9l15.5 27h-31zM596.4 1009.4l15.5 27h-31zM597.9 1013.0l15.5 27h-31zM599.5 1005.9l15.5 27h-31zM601.0 998.7l15.5 27h-31zM602.5 991.6l15.5 27h-31zM604.1 1013.0l15.5 27h-31zM605.6 991.6l15.5 27h-31zM607.2 1005.9l15.5 27h-31zM608.7 991.6l15.5 27h-31zM610.2 988.0l15.5 27h-31zM611.8 1005.9l15.5 27h-31zM613.3 991.6l15.5 27h-31zM614.8 988.0l15.5 27h-31zM616.4 991.6l15.5 27h-31zM617.9 991.6l15.5 27h-31zM619.5 1002.3l15.5 27h-31zM621.0 991.6l15.5 27h-31zM622.5 995.2l15.5 27h-31zM624.1 984.5l15.5 27h-31zM625.6 984.5l15.5 27h-31zM627.1 995.2l15.5 27h-31zM628.7 984.5l15.5 27h-31zM630.2 998.7l15.5 27h-31zM631.8 998.7l15.5 27h-31zM633.3 995.2l15.5 27h-31zM634.8 973.8l15.5 27h-31zM636.4 977.3l15.5 27h-31zM637.9 988.0l15.5 27h-31zM639.4 980.9l15.5 27h-31zM641.0 988.0l15.5 27h-31zM642.5 988.0l15.5 27h-31zM644.1 966.6l15.5 27h-31zM645.6 973.8l15.5 27h-31zM647.1 970.2l15.5 27h-31zM648.7 963.0l15.5 27h-31zM650.2 970.2l15.5 27h-31zM651.7 963.0l15.5 27h-31zM653.3 980.9l15.5 27h-31zM654.8 970.2l15.5 27h-31zM656.3 980.9l15.5 27h-31zM657.9 973.8l15.5 27h-31zM659.4 966.6l15.5 27h-31zM661.0 959.5l15.5 27h-31zM662.5 966.6l15.5 27h-31zM664.0 973.8l15.5 27h-31zM665.6 966.6l15.5 27h-31zM667.1 955.9l15.5 27h-31zM668.6 959.5l15.5 27h-31zM670.2 973.8l15.5 27h-31zM671.7 963.0l15.5 27h-31zM673.3 973.8l15.5 27h-31zM674.8 963.0l15.5 27h-31zM676.3 973.8l15.5 27h-31zM677.9 970.2l15.5 27h-31zM679.4 948.8l15.5 27h-31zM680.9 963.0l15.5 27h-31zM682.5 945.2l15.5 27h-31zM684.0 955.9l15.5 27h-31zM685.6 948.8l15.5 27h-31zM687.1 948.8l15.5 27h-31zM688.6 959.5l15.5 27h-31zM690.2 959.5l15.5 27h-31zM691.7 955.9l15.5 27h-31zM693.2 952.3l15.5 27h-31zM694.8 955.9l15.5 27h-31zM696.3 941.6l15.5 27h-31zM697.9 955.9l15.5 27h-31zM699.4 938.0l15.5 27h-31zM700.9 959.5l15.5 27h-31zM702.5 945.2l15.5 27h-31zM704.0 963.0l15.5 27h-31zM705.5 945.2l15.5 27h-31zM707.1 945.2l15.5 27h-31zM708.6 934.5l15.5 27h-31zM710.2 941.6l15.5 27h-31zM711.7 952.3l15.5 27h-31zM713.2 948.8l15.5 27h-31zM714.8 948.8l15.5 27h-31zM716.3 952.3l15.5 27h-31zM717.8 941.6l15.5 27h-31zM719.4 938.0l15.5 27h-31zM720.9 948.8l15.5 27h-31zM722.5 952.3l15.5 27h-31zM724.0 934.5l15.5 27h-31zM725.5 934.5l15.5 27h-31zM727.1 934.5l15.5 27h-31zM728.6 952.3l15.5 27h-31zM730.1 938.0l15.5 27h-31zM731.7 948.8l15.5 27h-31zM733.2 952.3l15.5 27h-31zM734.8 930.9l15.5 27h-31zM736.3 938.0l15.5 27h-31zM737.8 945.2l15.5 27h-31zM739.4 934.5l15.5 27h-31zM740.9 948.8l15.5 27h-31zM742.4 941.6l15.5 27h-31zM744.0 941.6l15.5 27h-31zM745.5 938.0l15.5 27h-31zM747.1 938.0l15.5 27h-31zM748.6 938.0l15.5 27h-31zM750.1 934.5l15.5 27h-31zM751.7 930.9l15.5 27h-31zM753.2 923.8l15.5 27h-31zM754.7 941.6l15.5 27h-31zM756.3 930.9l15.5 27h-31zM757.8 941.6l15.5 27h-31zM759.4 938.0l15.5 27h-31zM760.9 938.0l15.5 27h-31zM762.4 934.5l15.5 27h-31zM764.0 934.5l15.5 27h-31zM765.5 930.9l15.5 27h-31zM767.0 938.0l15.5 27h-31zM768.6 927.3l15.5 27h-31zM770.1 930.9l15.5 27h-31zM771.7 930.9l15.5 27h-31zM773.2 934.5l15.5 27h-31zM774.7 923.8l15.5 27h-31zM776.3 934.5l15.5 27h-31zM777.8 927.3l15.5 27h-31zM779.3 941.6l15.5 27h-31zM780.9 923.8l15.5 27h-31zM782.4 923.8l15.5 27h-31zM784.0 923.8l15.5 27h-31zM785.5 934.5l15.5 27h-31zM787.0 927.3l15.5 27h-31zM788.6 927.3l15.5 27h-31zM790.1 927.3l15.5 27h-31zM791.6 927.3l15.5 27h-31zM793.2 927.3l15.5 27h-31zM794.7 920.2l15.5 27h-31zM796.3 927.3l15.5 27h-31zM797.8 930.9l15.5 27h-31zM799.3 920.2l15.5 27h-31zM800.9 923.8l15.5 27h-31zM802.4 930.9l15.5 27h-31zM803.9 923.8l15.5 27h-31zM805.5 920.2l15.5 27h-31zM807.0 923.8l15.5 27h-31zM808.6 916.6l15.5 27h-31zM810.1 916.6l15.5 27h-31zM811.6 927.3l15.5 27h-31zM813.2 920.2l15.5 27h-31zM814.7 916.6l15.5 27h-31zM816.2 916.6l15.5 27h-31zM817.8 916.6l15.5 27h-31zM819.3 913.1l15.5 27h-31zM820.9 927.3l15.5 27h-31zM822.4 916.6l15.5 27h-31zM823.9 923.8l15.5 27h-31zM825.5 916.6l15.5 27h-31zM827.0 923.8l15.5 27h-31zM828.5 916.6l15.5 27h-31zM830.1 916.6l15.5 27h-31zM831.6 916.6l15.5 27h-31zM833.2 916.6l15.5 27h-31zM834.7 916.6l15.5 27h-31zM836.2 909.5l15.5 27h-31zM837.8 913.1l15.5 27h-31zM839.3 909.5l15.5 27h-31zM840.8 916.6l15.5 27h-31zM842.4 913.1l15.5 27h-31zM843.9 916.6l15.5 27h-31zM845.4 909.5l15.5 27h-31zM847.0 916.6l15.5 27h-31zM848.5 916.6l15.5 27h-31zM850.1 916.6l15.5 27h-31zM851.6 916.6l15.5 27h-31zM853.1 905.9l15.5 27h-31zM854.7 913.1l15.5 27h-31zM856.2 902.3l15.5 27h-31zM857.7 905.9l15.5 27h-31zM859.3 905.9l15.5 27h-31zM860.8 909.5l15.5 27h-31zM862.4 909.5l15.5 27h-31zM863.9 902.3l15.5 27h-31zM865.4 909.5l15.5 27h-31zM867.0 905.9l15.5 27h-31zM868.5 909.5l15.5 27h-31zM870.0 898.8l15.5 27h-31zM871.6 898.8l15.5 27h-31zM873.1 898.8l15.5 27h-31zM874.7 898.8l15.5 27h-31zM876.2 905.9l15.5 27h-31zM877.7 898.8l15.5 27h-31zM879.3 905.9l15.5 27h-31zM880.8 898.8l15.5 27h-31zM882.3 909.5l15.5 27h-31zM883.9 898.8l15.5 27h-31zM885.4 898.8l15.5 27h-31zM887.0 895.2l15.5 27h-31zM888.5 898.8l15.5 27h-31zM890.0 898.8l15.5 27h-31zM891.6 902.3l15.5 27h-31zM893.1 898.8l15.5 27h-31zM894.6 895.2l15.5 27h-31zM896.2 902.3l15.5 27h-31zM897.7 898.8l15.5 27h-31zM899.3 902.3l15.5 27h-31zM900.8 891.6l15.5 27h-31zM902.3 888.1l15.5 27h-31zM903.9 898.8l15.5 27h-31zM905.4 895.2l15.5 27h-31zM906.9 895.2l15.5 27h-31zM908.5 888.1l15.5 27h-31zM910.0 891.6l15.5 27h-31zM911.6 895.2l15.5 27h-31zM913.1 891.6l15.5 27h-31zM914.6 891.6l15.5 27h-31zM916.2 891.6l15.5 27h-31zM917.7 884.5l15.5 27h-31zM919.2 898.8l15.5 27h-31zM920.8 888.1l15.5 27h-31zM922.3 888.1l15.5 27h-31zM923.9 891.6l15.5 27h-31zM925.4 888.1l15.5 27h-31zM926.9 888.1l15.5 27h-31zM928.5 880.9l15.5 27h-31zM930.0 891.6l15.5 27h-31zM931.5 884.5l15.5 27h-31zM933.1 891.6l15.5 27h-31zM934.6 891.6l15.5 27h-31zM936.2 884.5l15.5 27h-31zM937.7 884.5l15.5 27h-31zM939.2 880.9l15.5 27h-31zM940.8 877.4l15.5 27h-31zM942.3 884.5l15.5 27h-31zM943.8 880.9l15.5 27h-31zM945.4 877.4l15.5 27h-31zM946.9 884.5l15.5 27h-31zM948.5 884.5l15.5 27h-31zM950.0 888.1l15.5 27h-31zM951.5 877.4l15.5 27h-31zM953.1 873.8l15.5 27h-31zM954.6 870.2l15.5 27h-31zM956.1 873.8l15.5 27h-31zM957.7 870.2l15.5 27h-31zM959.2 880.9l15.5 27h-31zM960.8 870.2l15.5 27h-31zM962.3 873.8l15.5 27h-31zM963.8 870.2l15.5 27h-31zM965.4 877.4l15.5 27h-31zM966.9 877.4l15.5 27h-31zM968.4 880.9l15.5 27h-31zM970.0 870.2l15.5 27h-31zM971.5 870.2l15.5 27h-31zM973.1 870.2l15.5 27h-31zM974.6 880.9l15.5 27h-31zM976.1 873.8l15.5 27h-31zM977.7 870.2l15.5 27h-31zM979.2 870.2l15.5 27h-31zM980.7 873.8l15.5 27h-31zM982.3 873.8l15.5 27h-31zM983.8 873.8l15.5 27h-31zM985.4 866.6l15.5 27h-31zM986.9 870.2l15.5 27h-31zM988.4 866.6l15.5 27h-31zM990.0 863.1l15.5 27h-31zM991.5 863.1l15.5 27h-31zM993.0 863.1l15.5 27h-31zM994.6 870.2l15.5 27h-31zM996.1 863.1l15.5 27h-31zM997.7 855.9l15.5 27h-31zM999.2 866.6l15.5 27h-31zM1000.7 870.2l15.5 27h-31zM1002.3 863.1l15.5 27h-31zM1003.8 863.1l15.5 27h-31zM1005.3 855.9l15.5 27h-31zM1006.9 866.6l15.5 27h-31zM1008.4 863.1l15.5 27h-31zM1010.0 855.9l15.5 27h-31zM1011.5 870.2l15.5 27h-31zM1013.0 852.4l15.5 27h-31zM1014.6 852.4l15.5 27h-31zM1016.1 863.1l15.5 27h-31zM1017.6 859.5l15.5 27h-31zM1019.2 859.5l15.5 27h-31zM1020.7 863.1l15.5 27h-31zM1022.3 852.4l15.5 27h-31zM1023.8 859.5l15.5 27h-31zM1025.3 859.5l15.5 27h-31zM1026.9 863.1l15.5 27h-31zM1028.4 848.8l15.5 27h-31zM1029.9 852.4l15.5 27h-31zM1031.5 848.8l15.5 27h-31zM1033.0 845.2l15.5 27h-31zM1034.6 848.8l15.5 27h-31zM1036.1 845.2l15.5 27h-31zM1037.6 859.5l15.5 27h-31zM1039.2 848.8l15.5 27h-31zM1040.7 855.9l15.5 27h-31zM1042.2 848.8l15.5 27h-31zM1043.8 852.4l15.5 27h-31zM1045.3 855.9l15.5 27h-31zM1046.8 852.4l15.5 27h-31zM1048.4 845.2l15.5 27h-31zM1049.9 852.4l15.5 27h-31zM1051.5 841.7l15.5 27h-31zM1053.0 848.8l15.5 27h-31zM1054.5 841.7l15.5 27h-31zM1056.1 848.8l15.5 27h-31zM1057.6 841.7l15.5 27h-31zM1059.1 852.4l15.5 27h-31zM1060.7 848.8l15.5 27h-31zM1062.2 841.7l15.5 27h-31zM1063.8 841.7l15.5 27h-31zM1065.3 845.2l15.5 27h-31zM1066.8 838.1l15.5 27h-31zM1068.4 845.2l15.5 27h-31zM1069.9 838.1l15.5 27h-31zM1071.4 841.7l15.5 27h-31zM1073.0 834.5l15.5 27h-31zM1074.5 841.7l15.5 27h-31zM1076.1 838.1l15.5 27h-31zM1077.6 845.2l15.5 27h-31zM1079.1 841.7l15.5 27h-31zM1080.7 838.1l15.5 27h-31zM1082.2 830.9l15.5 27h-31zM1083.7 838.1l15.5 27h-31zM1085.3 827.4l15.5 27h-31zM1086.8 845.2l15.5 27h-31zM1088.4 830.9l15.5 27h-31zM1089.9 838.1l15.5 27h-31zM1091.4 841.7l15.5 27h-31zM1093.0 838.1l15.5 27h-31zM1094.5 827.4l15.5 27h-31zM1096.0 830.9l15.5 27h-31zM1097.6 830.9l15.5 27h-31zM1099.1 841.7l15.5 27h-31zM1100.7 834.5l15.5 27h-31zM1102.2 827.4l15.5 27h-31zM1103.7 838.1l15.5 27h-31zM1105.3 834.5l15.5 27h-31zM1106.8 830.9l15.5 27h-31zM1108.3 830.9l15.5 27h-31zM1109.9 834.5l15.5 27h-31zM1111.4 827.4l15.5 27h-31zM1113.0 838.1l15.5 27h-31zM1114.5 827.4l15.5 27h-31zM1116.0 830.9l15.5 27h-31zM1117.6 830.9l15.5 27h-31zM1119.1 830.9l15.5 27h-31zM1120.6 830.9l15.5 27h-31zM1122.2 823.8l15.5 27h-31zM1123.7 823.8l15.5 27h-31zM1125.3 823.8l15.5 27h-31zM1126.8 827.4l15.5 27h-31zM1128.3 820.2l15.5 27h-31zM1129.9 830.9l15.5 27h-31zM1131.4 827.4l15.5 27h-31zM1132.9 816.7l15.5 27h-31zM1134.5 820.2l15.5 27h-31zM1136.0 820.2l15.5 27h-31zM1137.6 820.2l15.5 27h-31zM1139.1 816.7l15.5 27h-31zM1140.6 823.8l15.5 27h-31zM1142.2 820.2l15.5 27h-31zM1143.7 823.8l15.5 27h-31zM1145.2 816.7l15.5 27h-31zM1146.8 823.8l15.5 27h-31zM1148.3 823.8l15.5 27h-31zM1149.9 813.1l15.5 27h-31zM1151.4 816.7l15.5 27h-31zM1152.9 816.7l15.5 27h-31zM1154.5 816.7l15.5 27h-31zM1156.0 820.2l15.5 27h-31zM1157.5 823.8l15.5 27h-31zM1159.1 823.8l15.5 27h-31zM1160.6 816.7l15.5 27h-31zM1162.2 813.1l15.5 27h-31zM1163.7 816.7l15.5 27h-31zM1165.2 816.7l15.5 27h-31zM1166.8 809.5l15.5 27h-31zM1168.3 816.7l15.5 27h-31zM1169.8 809.5l15.5 27h-31zM1171.4 806.0l15.5 27h-31zM1172.9 806.0l15.5 27h-31zM1174.5 813.1l15.5 27h-31zM1176.0 806.0l15.5 27h-31zM1177.5 813.1l15.5 27h-31zM1179.1 809.5l15.5 27h-31zM1180.6 813.1l15.5 27h-31zM1182.1 809.5l15.5 27h-31zM1183.7 816.7l15.5 27h-31zM1185.2 806.0l15.5 27h-31zM1186.8 816.7l15.5 27h-31zM1188.3 802.4l15.5 27h-31zM1189.8 802.4l15.5 27h-31zM1191.4 813.1l15.5 27h-31zM1192.9 806.0l15.5 27h-31zM1194.4 806.0l15.5 27h-31zM1196.0 813.1l15.5 27h-31zM1197.5 813.1l15.5 27h-31zM1199.1 813.1l15.5 27h-31zM1200.6 809.5l15.5 27h-31zM1202.1 813.1l15.5 27h-31zM1203.7 809.5l15.5 27h-31zM1205.2 809.5l15.5 27h-31zM1206.7 798.8l15.5 27h-31zM1208.3 802.4l15.5 27h-31zM1209.8 802.4l15.5 27h-31zM1211.4 806.0l15.5 27h-31zM1212.9 806.0l15.5 27h-31zM1214.4 795.2l15.5 27h-31zM1216.0 798.8l15.5 27h-31zM1217.5 809.5l15.5 27h-31zM1219.0 798.8l15.5 27h-31zM1220.6 798.8l15.5 27h-31zM1222.1 802.4l15.5 27h-31zM1223.7 809.5l15.5 27h-31zM1225.2 791.7l15.5 27h-31zM1226.7 802.4l15.5 27h-31zM1228.3 802.4l15.5 27h-31zM1229.8 802.4l15.5 27h-31zM1231.3 795.2l15.5 27h-31zM1232.9 802.4l15.5 27h-31zM1234.4 802.4l15.5 27h-31zM1235.9 806.0l15.5 27h-31zM1237.5 791.7l15.5 27h-31zM1239.0 791.7l15.5 27h-31zM1240.6 795.2l15.5 27h-31zM1242.1 798.8l15.5 27h-31zM1243.6 802.4l15.5 27h-31zM1245.2 788.1l15.5 27h-31zM1246.7 798.8l15.5 27h-31zM1248.2 788.1l15.5 27h-31zM1249.8 802.4l15.5 27h-31zM1251.3 791.7l15.5 27h-31zM1252.9 798.8l15.5 27h-31zM1254.4 802.4l15.5 27h-31zM1255.9 795.2l15.5 27h-31zM1257.5 788.1l15.5 27h-31zM1259.0 795.2l15.5 27h-31zM1260.5 788.1l15.5 27h-31zM1262.1 788.1l15.5 27h-31zM1263.6 784.5l15.5 27h-31zM1265.2 795.2l15.5 27h-31zM1266.7 784.5l15.5 27h-31zM1268.2 784.5l15.5 27h-31zM1269.8 784.5l15.5 27h-31zM1271.3 798.8l15.5 27h-31zM1272.8 781.0l15.5 27h-31zM1274.4 781.0l15.5 27h-31zM1275.9 788.1l15.5 27h-31zM1277.5 781.0l15.5 27h-31zM1279.0 795.2l15.5 27h-31zM1280.5 784.5l15.5 27h-31zM1282.1 781.0l15.5 27h-31zM1283.6 788.1l15.5 27h-31zM1285.1 773.8l15.5 27h-31zM1286.7 788.1l15.5 27h-31zM1288.2 788.1l15.5 27h-31zM1289.8 777.4l15.5 27h-31zM1291.3 781.0l15.5 27h-31zM1292.8 777.4l15.5 27h-31zM1294.4 795.2l15.5 27h-31zM1295.9 791.7l15.5 27h-31zM1297.4 784.5l15.5 27h-31zM1299.0 777.4l15.5 27h-31zM1300.5 781.0l15.5 27h-31zM1302.1 777.4l15.5 27h-31zM1303.6 784.5l15.5 27h-31zM1305.1 777.4l15.5 27h-31zM1306.7 784.5l15.5 27h-31zM1308.2 773.8l15.5 27h-31zM1309.7 773.8l15.5 27h-31zM1311.3 766.7l15.5 27h-31zM1312.8 791.7l15.5 27h-31zM1314.4 773.8l15.5 27h-31zM1315.9 773.8l15.5 27h-31zM1317.4 770.3l15.5 27h-31zM1319.0 777.4l15.5 27h-31zM1320.5 770.3l15.5 27h-31zM1322.0 784.5l15.5 27h-31zM1323.6 784.5l15.5 27h-31zM1325.1 788.1l15.5 27h-31zM1326.7 788.1l15.5 27h-31zM1328.2 773.8l15.5 27h-31zM1329.7 784.5l15.5 27h-31zM1331.3 777.4l15.5 27h-31zM1332.8 770.3l15.5 27h-31zM1334.3 770.3l15.5 27h-31zM1335.9 784.5l15.5 27h-31zM1337.4 770.3l15.5 27h-31zM1339.0 770.3l15.5 27h-31zM1340.5 777.4l15.5 27h-31zM1342.0 781.0l15.5 27h-31zM1343.6 766.7l15.5 27h-31zM1345.1 766.7l15.5 27h-31zM1346.6 770.3l15.5 27h-31zM1348.2 784.5l15.5 27h-31zM1349.7 781.0l15.5 27h-31zM1351.3 777.4l15.5 27h-31zM1352.8 784.5l15.5 27h-31zM1354.3 781.0l15.5 27h-31zM1355.9 770.3l15.5 27h-31zM1357.4 770.3l15.5 27h-31zM1358.9 781.0l15.5 27h-31zM1360.5 770.3l15.5 27h-31zM1362.0 766.7l15.5 27h-31zM1363.6 773.8l15.5 27h-31zM1365.1 777.4l15.5 27h-31zM1366.6 766.7l15.5 27h-31zM1368.2 770.3l15.5 27h-31zM1369.7 766.7l15.5 27h-31zM1371.2 781.0l15.5 27h-31zM1372.8 770.3l15.5 27h-31zM1374.3 763.1l15.5 27h-31zM1375.9 770.3l15.5 27h-31zM1377.4 784.5l15.5 27h-31zM1378.9 784.5l15.5 27h-31zM1380.5 770.3l15.5 27h-31zM1382.0 766.7l15.5 27h-31zM1383.5 763.1l15.5 27h-31zM1385.1 773.8l15.5 27h-31zM1386.6 770.3l15.5 27h-31zM1388.2 763.1l15.5 27h-31zM1389.7 766.7l15.5 27h-31zM1391.2 763.1l15.5 27h-31zM1392.8 773.8l15.5 27h-31zM1394.3 777.4l15.5 27h-31zM1395.8 773.8l15.5 27h-31zM1397.4 770.3l15.5 27h-31zM1398.9 759.5l15.5 27h-31zM1400.5 766.7l15.5 27h-31zM1402.0 773.8l15.5 27h-31zM1403.5 763.1l15.5 27h-31zM1405.1 770.3l15.5 27h-31zM1406.6 759.5l15.5 27h-31zM1408.1 756.0l15.5 27h-31zM1409.7 773.8l15.5 27h-31zM1411.2 777.4l15.5 27h-31zM1412.8 759.5l15.5 27h-31zM1414.3 773.8l15.5 27h-31zM1415.8 777.4l15.5 27h-31zM1417.4 763.1l15.5 27h-31zM1418.9 763.1l15.5 27h-31zM1420.4 763.1l15.5 27h-31zM1422.0 770.3l15.5 27h-31zM1423.5 756.0l15.5 27h-31zM1425.0 752.4l15.5 27h-31zM1426.6 763.1l15.5 27h-31zM1428.1 759.5l15.5 27h-31zM1429.7 773.8l15.5 27h-31zM1431.2 763.1l15.5 27h-31zM1432.7 766.7l15.5 27h-31zM1434.3 773.8l15.5 27h-31zM1435.8 770.3l15.5 27h-31zM1437.3 759.5l15.5 27h-31zM1438.9 766.7l15.5 27h-31zM1440.4 756.0l15.5 27h-31zM1442.0 759.5l15.5 27h-31zM1443.5 756.0l15.5 27h-31zM1445.0 748.8l15.5 27h-31zM1446.6 752.4l15.5 27h-31zM1448.1 766.7l15.5 27h-31zM1449.6 756.0l15.5 27h-31zM1451.2 752.4l15.5 27h-31zM1452.7 756.0l15.5 27h-31zM1454.3 756.0l15.5 27h-31zM1455.8 752.4l15.5 27h-31zM1457.3 763.1l15.5 27h-31zM1458.9 756.0l15.5 27h-31zM1460.4 756.0l15.5 27h-31zM1461.9 766.7l15.5 27h-31zM1463.5 756.0l15.5 27h-31zM1465.0 745.3l15.5 27h-31zM1466.6 752.4l15.5 27h-31zM1468.1 766.7l15.5 27h-31zM1469.6 752.4l15.5 27h-31zM1471.2 748.8l15.5 27h-31zM1472.7 745.3l15.5 27h-31zM1474.2 756.0l15.5 27h-31zM1475.8 752.4l15.5 27h-31zM1477.3 756.0l15.5 27h-31zM1478.9 741.7l15.5 27h-31zM1480.4 745.3l15.5 27h-31zM1481.9 759.5l15.5 27h-31zM1483.5 745.3l15.5 27h-31zM1485.0 745.3l15.5 27h-31zM1486.5 741.7l15.5 27h-31zM1488.1 752.4l15.5 27h-31zM1489.6 748.8l15.5 27h-31zM1491.2 734.6l15.5 27h-31zM1492.7 734.6l15.5 27h-31zM1494.2 752.4l15.5 27h-31zM1495.8 748.8l15.5 27h-31zM1497.3 745.3l15.5 27h-31zM1498.8 741.7l15.5 27h-31zM1500.4 756.0l15.5 27h-31zM1501.9 745.3l15.5 27h-31zM1503.5 741.7l15.5 27h-31zM1505.0 734.6l15.5 27h-31zM1506.5 734.6l15.5 27h-31zM1508.1 745.3l15.5 27h-31zM1509.6 741.7l15.5 27h-31zM1511.1 738.1l15.5 27h-31zM1512.7 731.0l15.5 27h-31zM1514.2 738.1l15.5 27h-31zM1515.8 741.7l15.5 27h-31zM1517.3 738.1l15.5 27h-31zM1518.8 734.6l15.5 27h-31zM1520.4 741.7l15.5 27h-31zM1521.9 745.3l15.5 27h-31zM1523.4 741.7l15.5 27h-31zM1525.0 731.0l15.5 27h-31zM1526.5 731.0l15.5 27h-31zM1528.1 738.1l15.5 27h-31zM1529.6 738.1l15.5 27h-31zM1531.1 734.6l15.5 27h-31zM1532.7 741.7l15.5 27h-31zM1534.2 723.8l15.5 27h-31zM1535.7 734.6l15.5 27h-31zM1537.3 720.3l15.5 27h-31zM1538.8 731.0l15.5 27h-31zM1540.4 734.6l15.5 27h-31zM1541.9 727.4l15.5 27h-31zM1543.4 731.0l15.5 27h-31zM1545.0 720.3l15.5 27h-31zM1546.5 716.7l15.5 27h-31zM1548.0 734.6l15.5 27h-31zM1549.6 734.6l15.5 27h-31zM1551.1 727.4l15.5 27h-31zM1552.7 727.4l15.5 27h-31zM1554.2 731.0l15.5 27h-31zM1555.7 727.4l15.5 27h-31zM1557.3 723.8l15.5 27h-31zM1558.8 734.6l15.5 27h-31zM1560.3 727.4l15.5 27h-31zM1561.9 720.3l15.5 27h-31zM1563.4 727.4l15.5 27h-31zM1565.0 709.6l15.5 27h-31zM1566.5 723.8l15.5 27h-31zM1568.0 713.1l15.5 27h-31zM1569.6 713.1l15.5 27h-31zM1571.1 713.1l15.5 27h-31zM1572.6 713.1l15.5 27h-31zM1574.2 716.7l15.5 27h-31zM1575.7 723.8l15.5 27h-31zM1577.3 723.8l15.5 27h-31zM1578.8 713.1l15.5 27h-31zM1580.3 723.8l15.5 27h-31zM1581.9 709.6l15.5 27h-31zM1583.4 709.6l15.5 27h-31zM1584.9 716.7l15.5 27h-31zM1586.5 720.3l15.5 27h-31zM1588.0 720.3l15.5 27h-31zM1589.6 706.0l15.5 27h-31zM1591.1 720.3l15.5 27h-31zM1592.6 716.7l15.5 27h-31zM1594.2 709.6l15.5 27h-31zM1595.7 706.0l15.5 27h-31zM1597.2 706.0l15.5 27h-31zM1598.8 709.6l15.5 27h-31zM1600.3 716.7l15.5 27h-31zM1601.9 709.6l15.5 27h-31zM1603.4 706.0l15.5 27h-31zM1604.9 716.7l15.5 27h-31zM1606.5 709.6l15.5 27h-31zM1608.0 706.0l15.5 27h-31zM1609.5 702.4l15.5 27h-31zM1611.1 713.1l15.5 27h-31zM1612.6 709.6l15.5 27h-31zM1614.1 706.0l15.5 27h-31zM1615.7 702.4l15.5 27h-31zM1617.2 709.6l15.5 27h-31zM1618.8 706.0l15.5 27h-31zM1620.3 702.4l15.5 27h-31zM1621.8 709.6l15.5 27h-31zM1623.4 709.6l15.5 27h-31zM1624.9 709.6l15.5 27h-31zM1626.4 709.6l15.5 27h-31zM1628.0 706.0l15.5 27h-31zM1629.5 702.4l15.5 27h-31zM1631.1 709.6l15.5 27h-31zM1632.6 706.0l15.5 27h-31zM1634.1 709.6l15.5 27h-31zM1635.7 709.6l15.5 27h-31zM1637.2 706.0l15.5 27h-31zM1638.7 698.9l15.5 27h-31zM1640.3 706.0l15.5 27h-31zM1641.8 706.0l15.5 27h-31zM1643.4 702.4l15.5 27h-31zM1644.9 702.4l15.5 27h-31zM1646.4 706.0l15.5 27h-31zM1648.0 698.9l15.5 27h-31zM1649.5 698.9l15.5 27h-31zM1651.0 702.4l15.5 27h-31zM1652.6 706.0l15.5 27h-31zM1654.1 695.3l15.5 27h-31zM1655.7 702.4l15.5 27h-31zM1657.2 698.9l15.5 27h-31zM1658.7 695.3l15.5 27h-31zM1660.3 698.9l15.5 27h-31zM1661.8 702.4l15.5 27h-31zM1663.3 698.9l15.5 27h-31zM1664.9 691.7l15.5 27h-31zM1666.4 698.9l15.5 27h-31zM1668.0 695.3l15.5 27h-31zM1669.5 691.7l15.5 27h-31zM1671.0 695.3l15.5 27h-31zM1672.6 688.1l15.5 27h-31zM1674.1 691.7l15.5 27h-31zM1675.6 691.7l15.5 27h-31zM1677.2 695.3l15.5 27h-31zM1678.7 691.7l15.5 27h-31zM1680.3 695.3l15.5 27h-31zM1681.8 695.3l15.5 27h-31zM1683.3 691.7l15.5 27h-31zM1684.9 688.1l15.5 27h-31zM1686.4 684.6l15.5 27h-31zM1687.9 684.6l15.5 27h-31zM1689.5 688.1l15.5 27h-31zM1691.0 691.7l15.5 27h-31zM1692.6 684.6l15.5 27h-31zM1694.1 691.7l15.5 27h-31zM1695.6 684.6l15.5 27h-31zM1697.2 688.1l15.5 27h-31zM1698.7 688.1l15.5 27h-31zM1700.2 681.0l15.5 27h-31zM1701.8 688.1l15.5 27h-31zM1703.3 684.6l15.5 27h-31zM1704.9 681.0l15.5 27h-31zM1706.4 681.0l15.5 27h-31zM1707.9 681.0l15.5 27h-31zM1709.5 673.9l15.5 27h-31zM1711.0 684.6l15.5 27h-31zM1712.5 673.9l15.5 27h-31zM1714.1 677.4l15.5 27h-31zM1715.6 673.9l15.5 27h-31zM1717.2 677.4l15.5 27h-31zM1718.7 673.9l15.5 27h-31zM1720.2 673.9l15.5 27h-31zM1721.8 670.3l15.5 27h-31zM1723.3 670.3l15.5 27h-31zM1724.8 673.9l15.5 27h-31zM1726.4 670.3l15.5 27h-31zM1727.9 673.9l15.5 27h-31zM1729.5 677.4l15.5 27h-31zM1731.0 670.3l15.5 27h-31zM1732.5 673.9l15.5 27h-31zM1734.1 670.3l15.5 27h-31zM1735.6 670.3l15.5 27h-31zM1737.1 670.3l15.5 27h-31zM1738.7 666.7l15.5 27h-31zM1740.2 673.9l15.5 27h-31zM1741.8 663.2l15.5 27h-31zM1743.3 670.3l15.5 27h-31zM1744.8 670.3l15.5 27h-31zM1746.4 666.7l15.5 27h-31zM1747.9 670.3l15.5 27h-31zM1749.4 670.3l15.5 27h-31zM1751.0 666.7l15.5 27h-31zM1752.5 670.3l15.5 27h-31zM1754.1 666.7l15.5 27h-31zM1755.6 663.2l15.5 27h-31zM1757.1 659.6l15.5 27h-31zM1758.7 659.6l15.5 27h-31zM1760.2 670.3l15.5 27h-31zM1761.7 663.2l15.5 27h-31zM1763.3 659.6l15.5 27h-31zM1764.8 663.2l15.5 27h-31zM1766.4 666.7l15.5 27h-31zM1767.9 659.6l15.5 27h-31zM1769.4 663.2l15.5 27h-31zM1771.0 659.6l15.5 27h-31zM1772.5 659.6l15.5 27h-31zM1774.0 659.6l15.5 27h-31zM1775.6 656.0l15.5 27h-31zM1777.1 659.6l15.5 27h-31zM1778.7 663.2l15.5 27h-31zM1780.2 656.0l15.5 27h-31zM1781.7 656.0l15.5 27h-31zM1783.3 659.6l15.5 27h-31zM1784.8 652.4l15.5 27h-31zM1786.3 652.4l15.5 27h-31zM1787.9 659.6l15.5 27h-31zM1789.4 652.4l15.5 27h-31zM1791.0 648.9l15.5 27h-31zM1792.5 652.4l15.5 27h-31zM1794.0 652.4l15.5 27h-31zM1795.6 652.4l15.5 27h-31zM1797.1 659.6l15.5 27h-31zM1798.6 652.4l15.5 27h-31zM1800.2 652.4l15.5 27h-31zM1801.7 659.6l15.5 27h-31zM1803.3 659.6l15.5 27h-31zM1804.8 652.4l15.5 27h-31zM1806.3 648.9l15.5 27h-31zM1807.9 656.0l15.5 27h-31zM1809.4 656.0l15.5 27h-31zM1810.9 652.4l15.5 27h-31zM1812.5 645.3l15.5 27h-31zM1814.0 656.0l15.5 27h-31zM1815.5 645.3l15.5 27h-31zM1817.1 645.3l15.5 27h-31zM1818.6 648.9l15.5 27h-31zM1820.2 652.4l15.5 27h-31zM1821.7 645.3l15.5 27h-31zM1823.2 648.9l15.5 27h-31zM1824.8 645.3l15.5 27h-31zM1826.3 645.3l15.5 27h-31zM1827.8 652.4l15.5 27h-31zM1829.4 641.7l15.5 27h-31zM1830.9 638.2l15.5 27h-31zM1832.5 648.9l15.5 27h-31zM1834.0 641.7l15.5 27h-31zM1835.5 641.7l15.5 27h-31zM1837.1 645.3l15.5 27h-31zM1838.6 638.2l15.5 27h-31zM1840.1 641.7l15.5 27h-31zM1841.7 641.7l15.5 27h-31zM1843.2 648.9l15.5 27h-31zM1844.8 641.7l15.5 27h-31zM1846.3 645.3l15.5 27h-31zM1847.8 634.6l15.5 27h-31zM1849.4 638.2l15.5 27h-31zM1850.9 648.9l15.5 27h-31zM1852.4 634.6l15.5 27h-31zM1854.0 641.7l15.5 27h-31zM1855.5 645.3l15.5 27h-31zM1857.1 641.7l15.5 27h-31zM1858.6 641.7l15.5 27h-31zM1860.1 638.2l15.5 27h-31zM1861.7 641.7l15.5 27h-31zM1863.2 634.6l15.5 27h-31zM1864.7 645.3l15.5 27h-31zM1866.3 641.7l15.5 27h-31zM1867.8 634.6l15.5 27h-31zM1869.4 634.6l15.5 27h-31zM1870.9 634.6l15.5 27h-31zM1872.4 641.7l15.5 27h-31zM1874.0 623.9l15.5 27h-31zM1875.5 627.5l15.5 27h-31zM1877.0 631.0l15.5 27h-31zM1878.6 634.6l15.5 27h-31zM1880.1 634.6l15.5 27h-31zM1881.7 634.6l15.5 27h-31zM1883.2 627.5l15.5 27h-31zM1884.7 641.7l15.5 27h-31zM1886.3 631.0l15.5 27h-31zM1887.8 616.7l15.5 27h-31zM1889.3 620.3l15.5 27h-31zM1890.9 620.3l15.5 27h-31zM1892.4 631.0l15.5 27h-31zM1894.0 620.3l15.5 27h-31zM1895.5 638.2l15.5 27h-31zM1897.0 627.5l15.5 27h-31zM1898.6 620.3l15.5 27h-31zM1900.1 620.3l15.5 27h-31zM1901.6 620.3l15.5 27h-31zM1903.2 609.6l15.5 27h-31zM1904.7 609.6l15.5 27h-31zM1906.3 627.5l15.5 27h-31zM1907.8 638.2l15.5 27h-31zM1909.3 634.6l15.5 27h-31zM1910.9 634.6l15.5 27h-31zM1912.4 606.0l15.5 27h-31zM1913.9 627.5l15.5 27h-31zM1915.5 631.0l15.5 27h-31zM1917.0 613.2l15.5 27h-31zM1918.6 638.2l15.5 27h-31zM1920.1 620.3l15.5 27h-31zM1921.6 613.2l15.5 27h-31zM1923.2 631.0l15.5 27h-31zM1924.7 634.6l15.5 27h-31zM1926.2 631.0l15.5 27h-31zM1927.8 609.6l15.5 27h-31zM1929.3 613.2l15.5 27h-31zM1930.9 613.2l15.5 27h-31zM1932.4 609.6l15.5 27h-31zM1933.9 627.5l15.5 27h-31zM1935.5 616.7l15.5 27h-31zM1937.0 616.7l15.5 27h-31zM1938.5 623.9l15.5 27h-31zM1940.1 609.6l15.5 27h-31zM1941.6 627.5l15.5 27h-31zM1943.2 616.7l15.5 27h-31z"/>
<path fill="#FF80FF" d="M407.3 1229.2l15.5 -27h-31zM408.8 1200.7l15.5 -27h-31zM410.4 1182.8l15.5 -27h-31zM411.9 1161.4l15.5 -27h-31zM413.4 1150.7l15.5 -27h-31zM415.0 1136.4l15.5 -27h-31zM416.5 1129.3l15.5 -27h-31zM418.1 1122.1l15.5 -27h-31zM419.6 1111.4l15.5 -27h-31zM421.1 1104.3l15.5 -27h-31zM422.7 1100.7l15.5 -27h-31zM424.2 1093.6l15.5 -27h-31zM425.7 1093.6l15.5 -27h-31zM427.3 1086.4l15.5 -27h-31zM428.8 1082.9l15.5 -27h-31zM430.4 1079.3l15.5 -27h-31zM431.9 1075.7l15.5 -27h-31zM433.4 1068.6l15.5 -27h-31zM435.0 1072.1l15.5 -27h-31zM436.5 1065.0l15.5 -27h-31zM438.0 1061.4l15.5 -27h-31zM439.6 1065.0l15.5 -27h-31zM441.1 1061.4l15.5 -27h-31zM442.7 1057.9l15.5 -27h-31zM444.2 1054.3l15.5 -27h-31zM445.7 1054.3l15.5 -27h-31zM447.3 1050.7l15.5 -27h-31zM448.8 1054.3l15.5 -27h-31zM450.3 1047.2l15.5 -27h-31zM451.9 1050.7l15.5 -27h-31zM453.4 1050.7l15.5 -27h-31zM455.0 1047.2l15.5 -27h-31zM456.5 1047.2l15.5 -27h-31zM458.0 1043.6l15.5 -27h-31zM459.6 1047.2l15.5 -27h-31zM461.1 1047.2l15.5 -27h-31zM462.6 1047.2l15.5 -27h-31zM464.2 1040.0l15.5 -27h-31zM465.7 1043.6l15.5 -27h-31zM467.2 1043.6l15.5 -27h-31zM468.8 1040.0l15.5 -27h-31zM470.3 1025.7l15.5 -27h-31zM471.9 1040.0l15.5 -27h-31zM473.4 1032.9l15.5 -27h-31zM474.9 1040.0l15.5 -27h-31zM476.5 1032.9l15.5 -27h-31zM478.0 1022.2l15.5 -27h-31zM479.5 1022.2l15.5 -27h-31zM481.1 1025.7l15.5 -27h-31zM482.6 1018.6l15.5 -27h-31zM484.2 1018.6l15.5 -27h-31zM485.7 1025.7l15.5 -27h-31zM487.2 1022.2l15.5 -27h-31zM488.8 1011.5l15.5 -27h-31zM490.3 1007.9l15.5 -27h-31zM491.8 1004.3l15.5 -27h-31zM493.4 1022.2l15.5 -27h-31zM494.9 1011.5l15.5 -27h-31zM496.5 1022.2l15.5 -27h-31zM498.0 1018.6l15.5 -27h-31zM499.5 1000.8l15.5 -27h-31zM501.1 990.0l15.5 -27h-31zM502.6 1004.3l15.5 -27h-31zM504.1 1018.6l15.5 -27h-31zM505.7 1011.5l15.5 -27h-31zM507.2 993.6l15.5 -27h-31zM508.8 993.6l15.5 -27h-31zM510.3 1000.8l15.5 -27h-31zM511.8 1011.5l15.5 -27h-31zM513.4 993.6l15.5 -27h-31zM514.9 993.6l15.5 -27h-31zM516.4 997.2l15.5 -27h-31zM518.0 990.0l15.5 -27h-31zM519.5 993.6l15.5 -27h-31zM521.1 990.0l15.5 -27h-31zM522.6 986.5l15.5 -27h-31zM524.1 1015.0l15.5 -27h-31zM525.7 1000.8l15.5 -27h-31zM527.2 982.9l15.5 -27h-31zM528.7 990.0l15.5 -27h-31zM530.3 993.6l15.5 -27h-31zM531.8 986.5l15.5 -27h-31zM533.4 979.3l15.5 -27h-31zM534.9 986.5l15.5 -27h-31zM536.4 997.2l15.5 -27h-31zM538.0 993.6l15.5 -27h-31zM539.5 993.6l15.5 -27h-31zM541.0 990.0l15.5 -27h-31zM542.6 990.0l15.5 -27h-31zM544.1 993.6l15.5 -27h-31zM545.7 993.6l15.5 -27h-31zM547.2 979.3l15.5 -27h-31zM548.7 965.0l15.5 -27h-31zM550.3 986.5l15.5 -27h-31zM551.8 979.3l15.5 -27h-31zM553.3 975.8l15.5 -27h-31zM554.9 968.6l15.5 -27h-31zM556.4 968.6l15.5 -27h-31zM558.0 965.0l15.5 -27h-31zM559.5 972.2l15.5 -27h-31zM561.0 975.8l15.5 -27h-31zM562.6 972.2l15.5 -27h-31zM564.1 954.3l15.5 -27h-31zM565.6 965.0l15.5 -27h-31zM567.2 961.5l15.5 -27h-31zM568.7 975.8l15.5 -27h-31zM570.3 979.3l15.5 -27h-31zM571.8 954.3l15.5 -27h-31zM573.3 957.9l15.5 -27h-31zM574.9 972.2l15.5 -27h-31zM576.4 965.0l15.5 -27h-31zM577.9 961.5l15.5 -27h-31zM579.5 961.5l15.5 -27h-31zM581.0 954.3l15.5 -27h-31zM582.6 950.8l15.5 -27h-31zM584.1 972.2l15.5 -27h-31zM585.6 954.3l15.5 -27h-31zM587.2 961.5l15.5 -27h-31zM588.7 961.5l15.5 -27h-31zM590.2 954.3l15.5 -27h-31zM591.8 961.5l15.5 -27h-31zM593.3 954.3l15.5 -27h-31zM594.9 961.5l15.5 -27h-31zM596.4 957.9l15.5 -27h-31zM597.9 957.9l15.5 -27h-31zM599.5 961.5l15.5 -27h-31zM601.0 957.9l15.5 -27h-31zM602.5 947.2l15.5 -27h-31zM604.1 940.1l15.5 -27h-31zM605.6 961.5l15.5 -27h-31zM607.2 943.6l15.5 -27h-31zM608.7 943.6l15.5 -27h-31zM610.2 954.3l15.5 -27h-31zM611.8 943.6l15.5 -27h-31zM613.3 943.6l15.5 -27h-31zM614.8 943.6l15.5 -27h-31zM616.4 954.3l15.5 -27h-31zM617.9 943.6l15.5 -27h-31zM619.5 940.1l15.5 -27h-31zM621.0 943.6l15.5 -27h-31zM622.5 943.6l15.5 -27h-31zM624.1 932.9l15.5 -27h-31zM625.6 932.9l15.5 -27h-31zM627.1 947.2l15.5 -27h-31zM628.7 947.2l15.5 -27h-31zM630.2 947.2l15.5 -27h-31zM631.8 936.5l15.5 -27h-31zM633.3 929.3l15.5 -27h-31zM634.8 936.5l15.5 -27h-31zM636.4 936.5l15.5 -27h-31zM637.9 940.1l15.5 -27h-31zM639.4 936.5l15.5 -27h-31zM641.0 940.1l15.5 -27h-31zM642.5 940.1l15.5 -27h-31zM644.1 947.2l15.5 -27h-31zM645.6 929.3l15.5 -27h-31zM647.1 925.8l15.5 -27h-31zM648.7 929.3l15.5 -27h-31zM650.2 922.2l15.5 -27h-31zM651.7 929.3l15.5 -27h-31zM653.3 932.9l15.5 -27h-31zM654.8 932.9l15.5 -27h-31zM656.3 940.1l15.5 -27h-31zM657.9 929.3l15.5 -27h-31zM659.4 922.2l15.5 -27h-31zM661.0 929.3l15.5 -27h-31zM662.5 922.2l15.5 -27h-31zM664.0 922.2l15.5 -27h-31zM665.6 918.6l15.5 -27h-31zM667.1 932.9l15.5 -27h-31zM668.6 922.2l15.5 -27h-31zM670.2 936.5l15.5 -27h-31zM671.7 925.8l15.5 -27h-31zM673.3 915.1l15.5 -27h-31zM674.8 922.2l15.5 -27h-31zM676.3 932.9l15.5 -27h-31zM677.9 925.8l15.5 -27h-31zM679.4 918.6l15.5 -27h-31zM680.9 922.2l15.5 -27h-31zM682.5 911.5l15.5 -27h-31zM684.0 918.6l15.5 -27h-31zM685.6 911.5l15.5 -27h-31zM687.1 915.1l15.5 -27h-31zM688.6 915.1l15.5 -27h-31zM690.2 915.1l15.5 -27h-31zM691.7 911.5l15.5 -27h-31zM693.2 922.2l15.5 -27h-31zM694.8 915.1l15.5 -27h-31zM696.3 900.8l15.5 -27h-31zM697.9 904.4l15.5 -27h-31zM699.4 907.9l15.5 -27h-31zM700.9 904.4l15.5 -27h-31zM702.5 915.1l15.5 -27h-31zM704.0 907.9l15.5 -27h-31zM705.5 911.5l15.5 -27h-31zM707.1 907.9l15.5 -27h-31zM708.6 915.1l15.5 -27h-31zM710.2 915.1l15.5 -27h-31zM711.7 915.1l15.5 -27h-31zM713.2 907.9l15.5 -27h-31zM714.8 900.8l15.5 -27h-31zM716.3 911.5l15.5 -27h-31zM717.8 911.5l15.5 -27h-31zM719.4 897.2l15.5 -27h-31zM720.9 911.5l15.5 -27h-31zM722.5 915.1l15.5 -27h-31zM724.0 907.9l15.5 -27h-31zM725.5 890.1l15.5 -27h-31zM727.1 900.8l15.5 -27h-31zM728.6 907.9l15.5 -27h-31zM730.1 915.1l15.5 -27h-31zM731.7 893.6l15.5 -27h-31zM733.2 893.6l15.5 -27h-31zM734.8 890.1l15.5 -27h-31zM736.3 907.9l15.5 -27h-31zM737.8 900.8l15.5 -27h-31zM739.4 893.6l15.5 -27h-31zM740.9 886.5l15.5 -27h-31zM742.4 900.8l15.5 -27h-31zM744.0 890.1l15.5 -27h-31zM745.5 886.5l15.5 -27h-31zM747.1 897.2l15.5 -27h-31zM748.6 900.8l15.5 -27h-31zM750.1 886.5l15.5 -27h-31zM751.7 890.1l15.5 -27h-31zM753.2 890.1l15.5 -27h-31zM754.7 904.4l15.5 -27h-31zM756.3 897.2l15.5 -27h-31zM757.8 893.6l15.5 -27h-31zM759.4 886.5l15.5 -27h-31zM760.9 886.5l15.5 -27h-31zM762.4 900.8l15.5 -27h-31zM764.0 875.8l15.5 -27h-31zM765.5 886.5l15.5 -27h-31zM767.0 897.2l15.5 -27h-31zM768.6 890.1l15.5 -27h-31zM770.1 886.5l15.5 -27h-31zM771.7 893.6l15.5 -27h-31zM773.2 886.5l15.5 -27h-31zM774.7 882.9l15.5 -27h-31zM776.3 872.2l15.5 -27h-31zM777.8 897.2l15.5 -27h-31zM779.3 893.6l15.5 -27h-31zM780.9 890.1l15.5 -27h-31zM782.4 882.9l15.5 -27h-31zM784.0 868.7l15.5 -27h-31zM785.5 872.2l15.5 -27h-31zM787.0 890.1l15.5 -27h-31zM788.6 875.8l15.5 -27h-31zM790.1 886.5l15.5 -27h-31zM791.6 868.7l15.5 -27h-31zM793.2 875.8l15.5 -27h-31zM794.7 872.2l15.5 -27h-31zM796.3 875.8l15.5 -27h-31zM797.8 879.4l15.5 -27h-31zM799.3 875.8l15.5 -27h-31zM800.9 879.4l15.5 -27h-31zM802.4 879.4l15.5 -27h-31zM803.9 872.2l15.5 -27h-31zM805.5 882.9l15.5 -27h-31zM807.0 868.7l15.5 -27h-31zM808.6 872.2l15.5 -27h-31zM810.1 879.4l15.5 -27h-31zM811.6 865.1l15.5 -27h-31zM813.2 875.8l15.5 -27h-31zM814.7 857.9l15.5 -27h-31zM816.2 868.7l15.5 -27h-31zM817.8 861.5l15.5 -27h-31zM819.3 868.7l15.5 -27h-31zM820.9 868.7l15.5 -27h-31zM822.4 872.2l15.5 -27h-31zM823.9 872.2l15.5 -27h-31zM825.5 865.1l15.5 -27h-31zM827.0 868.7l15.5 -27h-31zM828.5 868.7l15.5 -27h-31zM830.1 865.1l15.5 -27h-31zM831.6 868.7l15.5 -27h-31zM833.2 865.1l15.5 -27h-31zM834.7 865.1l15.5 -27h-31zM836.2 875.8l15.5 -27h-31zM837.8 861.5l15.5 -27h-31zM839.3 865.1l15.5 -27h-31zM840.8 850.8l15.5 -27h-31zM842.4 850.8l15.5 -27h-31zM843.9 868.7l15.5 -27h-31zM845.4 868.7l15.5 -27h-31zM847.0 861.5l15.5 -27h-31zM848.5 857.9l15.5 -27h-31zM850.1 861.5l15.5 -27h-31zM851.6 850.8l15.5 -27h-31zM853.1 865.1l15.5 -27h-31zM854.7 868.7l15.5 -27h-31zM856.2 857.9l15.5 -27h-31zM857.7 847.2l15.5 -27h-31zM859.3 854.4l15.5 -27h-31zM860.8 857.9l15.5 -27h-31zM862.4 861.5l15.5 -27h-31zM863.9 854.4l15.5 -27h-31zM865.4 857.9l15.5 -27h-31zM867.0 843.7l15.5 -27h-31zM868.5 854.4l15.5 -27h-31zM870.0 850.8l15.5 -27h-31zM871.6 847.2l15.5 -27h-31zM873.1 850.8l15.5 -27h-31zM874.7 847.2l15.5 -27h-31zM876.2 843.7l15.5 -27h-31zM877.7 843.7l15.5 -27h-31zM879.3 843.7l15.5 -27h-31zM880.8 847.2l15.5 -27h-31zM882.3 854.4l15.5 -27h-31zM883.9 850.8l15.5 -27h-31zM885.4 843.7l15.5 -27h-31zM887.0 854.4l15.5 -27h-31zM888.5 847.2l15.5 -27h-31zM890.0 850.8l15.5 -27h-31zM891.6 847.2l15.5 -27h-31zM893.1 836.5l15.5 -27h-31zM894.6 840.1l15.5 -27h-31zM896.2 843.7l15.5 -27h-31zM897.7 843.7l15.5 -27h-31zM899.3 847.2l15.5 -27h-31zM900.8 850.8l15.5 -27h-31zM902.3 850.8l15.5 -27h-31zM903.9 836.5l15.5 -27h-31zM905.4 847.2l15.5 -27h-31zM906.9 836.5l15.5 -27h-31zM908.5 840.1l15.5 -27h-31zM910.0 836.5l15.5 -27h-31zM911.6 840.1l15.5 -27h-31zM913.1 847.2l15.5 -27h-31zM914.6 847.2l15.5 -27h-31zM916.2 847.2l15.5 -27h-31zM917.7 850.8l15.5 -27h-31zM919.2 833.0l15.5 -27h-31zM920.8 829.4l15.5 -27h-31zM922.3 847.2l15.5 -27h-31zM923.9 843.7l15.5 -27h-31zM925.4 825.8l15.5 -27h-31zM926.9 843.7l15.5 -27h-31zM928.5 840.1l15.5 -27h-31zM930.0 836.5l15.5 -27h-31zM931.5 825.8l15.5 -27h-31zM933.1 843.7l15.5 -27h-31zM934.6 825.8l15.5 -27h-31zM936.2 833.0l15.5 -27h-31zM937.7 829.4l15.5 -27h-31zM939.2 829.4l15.5 -27h-31zM940.8 822.2l15.5 -27h-31zM942.3 843.7l15.5 -27h-31zM943.8 836.5l15.5 -27h-31zM945.4 833.0l15.5 -27h-31zM946.9 825.8l15.5 -27h-31zM948.5 833.0l15.5 -27h-31zM950.0 840.1l15.5 -27h-31zM951.5 829.4l15.5 -27h-31zM953.1 840.1l15.5 -27h-31zM954.6 836.5l15.5 -27h-31zM956.1 822.2l15.5 -27h-31zM957.7 833.0l15.5 -27h-31zM959.2 825.8l15.5 -27h-31zM960.8 833.0l15.5 -27h-31zM962.3 836.5l15.5 -27h-31zM963.8 829.4l15.5 -27h-31zM965.4 836.5l15.5 -27h-31zM966.9 840.1l15.5 -27h-31zM968.4 818.7l15.5 -27h-31zM970.0 822.2l15.5 -27h-31zM971.5 818.7l15.5 -27h-31zM973.1 815.1l15.5 -27h-31zM974.6 822.2l15.5 -27h-31zM976.1 829.4l15.5 -27h-31zM977.7 811.5l15.5 -27h-31zM979.2 811.5l15.5 -27h-31zM980.7 825.8l15.5 -27h-31zM982.3 815.1l15.5 -27h-31zM983.8 818.7l15.5 -27h-31zM985.4 822.2l15.5 -27h-31zM986.9 818.7l15.5 -27h-31zM988.4 818.7l15.5 -27h-31zM990.0 822.2l15.5 -27h-31zM991.5 818.7l15.5 -27h-31zM993.0 822.2l15.5 -27h-31zM994.6 808.0l15.5 -27h-31zM996.1 822.2l15.5 -27h-31zM997.7 822.2l15.5 -27h-31zM999.2 822.2l15.5 -27h-31zM1000.7 811.5l15.5 -27h-31zM1002.3 808.0l15.5 -27h-31zM1003.8 822.2l15.5 -27h-31zM1005.3 825.8l15.5 -27h-31zM1006.9 811.5l15.5 -27h-31zM1008.4 822.2l15.5 -27h-31zM1010.0 818.7l15.5 -27h-31zM1011.5 822.2l15.5 -27h-31zM1013.0 815.1l15.5 -27h-31zM1014.6 818.7l15.5 -27h-31zM1016.1 815.1l15.5 -27h-31zM1017.6 800.8l15.5 -27h-31zM1019.2 797.3l15.5 -27h-31zM1020.7 811.5l15.5 -27h-31zM1022.3 815.1l15.5 -27h-31zM1023.8 811.5l15.5 -27h-31zM1025.3 797.3l15.5 -27h-31zM1026.9 811.5l15.5 -27h-31zM1028.4 797.3l15.5 -27h-31zM1029.9 808.0l15.5 -27h-31zM1031.5 811.5l15.5 -27h-31zM1033.0 811.5l15.5 -27h-31zM1034.6 793.7l15.5 -27h-31zM1036.1 800.8l15.5 -27h-31zM1037.6 797.3l15.5 -27h-31zM1039.2 793.7l15.5 -27h-31zM1040.7 811.5l15.5 -27h-31zM1042.2 800.8l15.5 -27h-31zM1043.8 811.5l15.5 -27h-31zM1045.3 797.3l15.5 -27h-31zM1046.8 793.7l15.5 -27h-31zM1048.4 808.0l15.5 -27h-31zM1049.9 797.3l15.5 -27h-31zM1051.5 797.3l15.5 -27h-31zM1053.0 797.3l15.5 -27h-31zM1054.5 790.1l15.5 -27h-31zM1056.1 786.5l15.5 -27h-31zM1057.6 804.4l15.5 -27h-31zM1059.1 793.7l15.5 -27h-31zM1060.7 793.7l15.5 -27h-31zM1062.2 797.3l15.5 -27h-31zM1063.8 790.1l15.5 -27h-31zM1065.3 790.1l15.5 -27h-31zM1066.8 783.0l15.5 -27h-31zM1068.4 790.1l15.5 -27h-31zM1069.9 779.4l15.5 -27h-31zM1071.4 790.1l15.5 -27h-31zM1073.0 793.7l15.5 -27h-31zM1074.5 779.4l15.5 -27h-31zM1076.1 797.3l15.5 -27h-31zM1077.6 790.1l15.5 -27h-31zM1079.1 779.4l15.5 -27h-31zM1080.7 783.0l15.5 -27h-31zM1082.2 786.5l15.5 -27h-31zM1083.7 783.0l15.5 -27h-31zM1085.3 790.1l15.5 -27h-31zM1086.8 775.8l15.5 -27h-31zM1088.4 775.8l15.5 -27h-31zM1089.9 775.8l15.5 -27h-31zM1091.4 786.5l15.5 -27h-31zM1093.0 783.0l15.5 -27h-31zM1094.5 786.5l15.5 -27h-31zM1096.0 783.0l15.5 -27h-31zM1097.6 786.5l15.5 -27h-31zM1099.1 783.0l15.5 -27h-31zM1100.7 790.1l15.5 -27h-31zM1102.2 765.1l15.5 -27h-31zM1103.7 786.5l15.5 -27h-31zM1105.3 772.3l15.5 -27h-31zM1106.8 772.3l15.5 -27h-31zM1108.3 779.4l15.5 -27h-31zM1109.9 768.7l15.5 -27h-31zM1111.4 772.3l15.5 -27h-31zM1113.0 765.1l15.5 -27h-31zM1114.5 775.8l15.5 -27h-31zM1116.0 772.3l15.5 -27h-31zM1117.6 768.7l15.5 -27h-31zM1119.1 775.8l15.5 -27h-31zM1120.6 768.7l15.5 -27h-31zM1122.2 779.4l15.5 -27h-31zM1123.7 765.1l15.5 -27h-31zM1125.3 775.8l15.5 -27h-31zM1126.8 772.3l15.5 -27h-31zM1128.3 775.8l15.5 -27h-31zM1129.9 765.1l15.5 -27h-31zM1131.4 758.0l15.5 -27h-31zM1132.9 765.1l15.5 -27h-31zM1134.5 765.1l15.5 -27h-31zM1136.0 765.1l15.5 -27h-31zM1137.6 758.0l15.5 -27h-31zM1139.1 754.4l15.5 -27h-31zM1140.6 765.1l15.5 -27h-31zM1142.2 768.7l15.5 -27h-31zM1143.7 772.3l15.5 -27h-31zM1145.2 761.6l15.5 -27h-31zM1146.8 758.0l15.5 -27h-31zM1148.3 765.1l15.5 -27h-31zM1149.9 768.7l15.5 -27h-31zM1151.4 765.1l15.5 -27h-31zM1152.9 754.4l15.5 -27h-31zM1154.5 761.6l15.5 -27h-31zM1156.0 765.1l15.5 -27h-31zM1157.5 761.6l15.5 -27h-31zM1159.1 761.6l15.5 -27h-31zM1160.6 754.4l15.5 -27h-31zM1162.2 761.6l15.5 -27h-31zM1163.7 761.6l15.5 -27h-31zM1165.2 758.0l15.5 -27h-31zM1166.8 754.4l15.5 -27h-31zM1168.3 747.3l15.5 -27h-31zM1169.8 765.1l15.5 -27h-31zM1171.4 761.6l15.5 -27h-31zM1172.9 765.1l15.5 -27h-31zM1174.5 750.8l15.5 -27h-31zM1176.0 765.1l15.5 -27h-31zM1177.5 758.0l15.5 -27h-31zM1179.1 747.3l15.5 -27h-31zM1180.6 754.4l15.5 -27h-31zM1182.1 750.8l15.5 -27h-31zM1183.7 750.8l15.5 -27h-31zM1185.2 747.3l15.5 -27h-31zM1186.8 750.8l15.5 -27h-31zM1188.3 743.7l15.5 -27h-31zM1189.8 740.1l15.5 -27h-31zM1191.4 743.7l15.5 -27h-31zM1192.9 743.7l15.5 -27h-31zM1194.4 740.1l15.5 -27h-31zM1196.0 758.0l15.5 -27h-31zM1197.5 740.1l15.5 -27h-31zM1199.1 743.7l15.5 -27h-31zM1200.6 747.3l15.5 -27h-31zM1202.1 747.3l15.5 -27h-31zM1203.7 740.1l15.5 -27h-31zM1205.2 747.3l15.5 -27h-31zM1206.7 743.7l15.5 -27h-31zM1208.3 747.3l15.5 -27h-31zM1209.8 750.8l15.5 -27h-31zM1211.4 754.4l15.5 -27h-31zM1212.9 747.3l15.5 -27h-31zM1214.4 747.3l15.5 -27h-31zM1216.0 747.3l15.5 -27h-31zM1217.5 736.6l15.5 -27h-31zM1219.0 733.0l15.5 -27h-31zM1220.6 740.1l15.5 -27h-31zM1222.1 754.4l15.5 -27h-31zM1223.7 733.0l15.5 -27h-31zM1225.2 736.6l15.5 -27h-31zM1226.7 733.0l15.5 -27h-31zM1228.3 733.0l15.5 -27h-31zM1229.8 729.4l15.5 -27h-31zM1231.3 736.6l15.5 -27h-31zM1232.9 743.7l15.5 -27h-31zM1234.4 747.3l15.5 -27h-31zM1235.9 740.1l15.5 -27h-31zM1237.5 740.1l15.5 -27h-31zM1239.0 736.6l15.5 -27h-31zM1240.6 729.4l15.5 -27h-31zM1242.1 743.7l15.5 -27h-31zM1243.6 729.4l15.5 -27h-31zM1245.2 747.3l15.5 -27h-31zM1246.7 733.0l15.5 -27h-31zM1248.2 733.0l15.5 -27h-31zM1249.8 736.6l15.5 -27h-31zM1251.3 729.4l15.5 -27h-31zM1252.9 729.4l15.5 -27h-31zM1254.4 740.1l15.5 -27h-31zM1255.9 729.4l15.5 -27h-31zM1257.5 725.9l15.5 -27h-31zM1259.0 736.6l15.5 -27h-31zM1260.5 722.3l15.5 -27h-31zM1262.1 725.9l15.5 -27h-31zM1263.6 733.0l15.5 -27h-31zM1265.2 740.1l15.5 -27h-31zM1266.7 743.7l15.5 -27h-31zM1268.2 733.0l15.5 -27h-31zM1269.8 736.6l15.5 -27h-31zM1271.3 736.6l15.5 -27h-31zM1272.8 729.4l15.5 -27h-31zM1274.4 736.6l15.5 -27h-31zM1275.9 725.9l15.5 -27h-31zM1277.5 740.1l15.5 -27h-31zM1279.0 736.6l15.5 -27h-31zM1280.5 725.9l15.5 -27h-31zM1282.1 733.0l15.5 -27h-31zM1283.6 729.4l15.5 -27h-31zM1285.1 722.3l15.5 -27h-31zM1286.7 718.7l15.5 -27h-31zM1288.2 722.3l15.5 -27h-31zM1289.8 718.7l15.5 -27h-31zM1291.3 722.3l15.5 -27h-31zM1292.8 718.7l15.5 -27h-31zM1294.4 722.3l15.5 -27h-31zM1295.9 725.9l15.5 -27h-31zM1297.4 733.0l15.5 -27h-31zM1299.0 715.1l15.5 -27h-31zM1300.5 733.0l15.5 -27h-31zM1302.1 733.0l15.5 -27h-31zM1303.6 736.6l15.5 -27h-31zM1305.1 722.3l15.5 -27h-31zM1306.7 715.1l15.5 -27h-31zM1308.2 733.0l15.5 -27h-31zM1309.7 715.1l15.5 -27h-31zM1311.3 729.4l15.5 -27h-31zM1312.8 718.7l15.5 -27h-31zM1314.4 708.0l15.5 -27h-31zM1315.9 715.1l15.5 -27h-31zM1317.4 711.6l15.5 -27h-31zM1319.0 725.9l15.5 -27h-31zM1320.5 711.6l15.5 -27h-31zM1322.0 711.6l15.5 -27h-31zM1323.6 722.3l15.5 -27h-31zM1325.1 718.7l15.5 -27h-31zM1326.7 722.3l15.5 -27h-31zM1328.2 700.9l15.5 -27h-31zM1329.7 704.4l15.5 -27h-31zM1331.3 722.3l15.5 -27h-31zM1332.8 700.9l15.5 -27h-31zM1334.3 715.1l15.5 -27h-31zM1335.9 700.9l15.5 -27h-31zM1337.4 693.7l15.5 -27h-31zM1339.0 708.0l15.5 -27h-31zM1340.5 700.9l15.5 -27h-31zM1342.0 700.9l15.5 -27h-31zM1343.6 697.3l15.5 -27h-31zM1345.1 708.0l15.5 -27h-31zM1346.6 711.6l15.5 -27h-31zM1348.2 708.0l15.5 -27h-31zM1349.7 697.3l15.5 -27h-31zM1351.3 700.9l15.5 -27h-31zM1352.8 704.4l15.5 -27h-31zM1354.3 708.0l15.5 -27h-31zM1355.9 711.6l15.5 -27h-31zM1357.4 693.7l15.5 -27h-31zM1358.9 704.4l15.5 -27h-31zM1360.5 708.0l15.5 -27h-31zM1362.0 711.6l15.5 -27h-31zM1363.6 704.4l15.5 -27h-31zM1365.1 708.0l15.5 -27h-31zM1366.6 697.3l15.5 -27h-31zM1368.2 690.2l15.5 -27h-31zM1369.7 700.9l15.5 -27h-31zM1371.2 690.2l15.5 -27h-31zM1372.8 704.4l15.5 -27h-31zM1374.3 697.3l15.5 -27h-31zM1375.9 686.6l15.5 -27h-31zM1377.4 686.6l15.5 -27h-31zM1378.9 704.4l15.5 -27h-31zM1380.5 704.4l15.5 -27h-31zM1382.0 686.6l15.5 -27h-31zM1383.5 700.9l15.5 -27h-31zM1385.1 690.2l15.5 -27h-31zM1386.6 686.6l15.5 -27h-31zM1388.2 683.0l15.5 -27h-31zM1389.7 697.3l15.5 -27h-31zM1391.2 686.6l15.5 -27h-31zM1392.8 686.6l15.5 -27h-31zM1394.3 693.7l15.5 -27h-31zM1395.8 686.6l15.5 -27h-31zM1397.4 679.4l15.5 -27h-31zM1398.9 672.3l15.5 -27h-31zM1400.5 683.0l15.5 -27h-31zM1402.0 675.9l15.5 -27h-31zM1403.5 686.6l15.5 -27h-31zM1405.1 693.7l15.5 -27h-31zM1406.6 679.4l15.5 -27h-31zM1408.1 679.4l15.5 -27h-31zM1409.7 686.6l15.5 -27h-31zM1411.2 686.6l15.5 -27h-31zM1412.8 679.4l15.5 -27h-31zM1414.3 679.4l15.5 -27h-31zM1415.8 693.7l15.5 -27h-31zM1417.4 668.7l15.5 -27h-31zM1418.9 683.0l15.5 -27h-31zM1420.4 679.4l15.5 -27h-31zM1422.0 683.0l15.5 -27h-31zM1423.5 686.6l15.5 -27h-31zM1425.0 679.4l15.5 -27h-31zM1426.6 668.7l15.5 -27h-31zM1428.1 675.9l15.5 -27h-31zM1429.7 665.2l15.5 -27h-31zM1431.2 686.6l15.5 -27h-31zM1432.7 686.6l15.5 -27h-31zM1434.3 683.0l15.5 -27h-31zM1435.8 658.0l15.5 -27h-31zM1437.3 665.2l15.5 -27h-31zM1438.9 672.3l15.5 -27h-31zM1440.4 679.4l15.5 -27h-31zM1442.0 672.3l15.5 -27h-31zM1443.5 665.2l15.5 -27h-31zM1445.0 665.2l15.5 -27h-31zM1446.6 665.2l15.5 -27h-31zM1448.1 661.6l15.5 -27h-31zM1449.6 675.9l15.5 -27h-31zM1451.2 672.3l15.5 -27h-31zM1452.7 668.7l15.5 -27h-31zM1454.3 672.3l15.5 -27h-31zM1455.8 665.2l15.5 -27h-31zM1457.3 658.0l15.5 -27h-31zM1458.9 654.5l15.5 -27h-31zM1460.4 654.5l15.5 -27h-31zM1461.9 661.6l15.5 -27h-31zM1463.5 668.7l15.5 -27h-31zM1465.0 668.7l15.5 -27h-31zM1466.6 668.7l15.5 -27h-31zM1468.1 668.7l15.5 -27h-31zM1469.6 665.2l15.5 -27h-31zM1471.2 654.5l15.5 -27h-31zM1472.7 658.0l15.5 -27h-31zM1474.2 650.9l15.5 -27h-31zM1475.8 661.6l15.5 -27h-31zM1477.3 665.2l15.5 -27h-31zM1478.9 658.0l15.5 -27h-31zM1480.4 665.2l15.5 -27h-31zM1481.9 665.2l15.5 -27h-31zM1483.5 643.7l15.5 -27h-31zM1485.0 647.3l15.5 -27h-31zM1486.5 643.7l15.5 -27h-31zM1488.1 654.5l15.5 -27h-31zM1489.6 661.6l15.5 -27h-31zM1491.2 658.0l15.5 -27h-31zM1492.7 661.6l15.5 -27h-31zM1494.2 654.5l15.5 -27h-31zM1495.8 650.9l15.5 -27h-31zM1497.3 661.6l15.5 -27h-31zM1498.8 643.7l15.5 -27h-31zM1500.4 647.3l15.5 -27h-31zM1501.9 650.9l15.5 -27h-31zM1503.5 650.9l15.5 -27h-31zM1505.0 654.5l15.5 -27h-31zM1506.5 650.9l15.5 -27h-31zM1508.1 650.9l15.5 -27h-31zM1509.6 650.9l15.5 -27h-31zM1511.1 647.3l15.5 -27h-31zM1512.7 650.9l15.5 -27h-31zM1514.2 640.2l15.5 -27h-31zM1515.8 658.0l15.5 -27h-31zM1517.3 650.9l15.5 -27h-31zM1518.8 647.3l15.5 -27h-31zM1520.4 650.9l15.5 -27h-31zM1521.9 636.6l15.5 -27h-31zM1523.4 636.6l15.5 -27h-31zM1525.0 643.7l15.5 -27h-31zM1526.5 640.2l15.5 -27h-31zM1528.1 640.2l15.5 -27h-31zM1529.6 636.6l15.5 -27h-31zM1531.1 643.7l15.5 -27h-31zM1532.7 640.2l15.5 -27h-31zM1534.2 650.9l15.5 -27h-31zM1535.7 640.2l15.5 -27h-31zM1537.3 636.6l15.5 -27h-31zM1538.8 636.6l15.5 -27h-31zM1540.4 650.9l15.5 -27h-31zM1541.9 636.6l15.5 -27h-31zM1543.4 643.7l15.5 -27h-31zM1545.0 650.9l15.5 -27h-31zM1546.5 647.3l15.5 -27h-31zM1548.0 643.7l15.5 -27h-31zM1549.6 636.6l15.5 -27h-31zM1551.1 636.6l15.5 -27h-31zM1552.7 633.0l15.5 -27h-31zM1554.2 636.6l15.5 -27h-31zM1555.7 643.7l15.5 -27h-31zM1557.3 629.5l15.5 -27h-31zM1558.8 633.0l15.5 -27h-31zM1560.3 643.7l15.5 -27h-31zM1561.9 636.6l15.5 -27h-31zM1563.4 633.0l15.5 -27h-31zM1565.0 636.6l15.5 -27h-31zM1566.5 629.5l15.5 -27h-31zM1568.0 625.9l15.5 -27h-31zM1569.6 636.6l15.5 -27h-31zM1571.1 636.6l15.5 -27h-31zM1572.6 640.2l15.5 -27h-31zM1574.2 633.0l15.5 -27h-31zM1575.7 625.9l15.5 -27h-31zM1577.3 629.5l15.5 -27h-31zM1578.8 636.6l15.5 -27h-31zM1580.3 622.3l15.5 -27h-31zM1581.9 629.5l15.5 -27h-31zM1583.4 625.9l15.5 -27h-31zM1584.9 625.9l15.5 -27h-31zM1586.5 622.3l15.5 -27h-31zM1588.0 633.0l15.5 -27h-31zM1589.6 618.8l15.5 -27h-31zM1591.1 633.0l15.5 -27h-31zM1592.6 622.3l15.5 -27h-31zM1594.2 633.0l15.5 -27h-31zM1595.7 629.5l15.5 -27h-31zM1597.2 625.9l15.5 -27h-31zM1598.8 625.9l15.5 -27h-31zM1600.3 625.9l15.5 -27h-31zM1601.9 622.3l15.5 -27h-31zM1603.4 633.0l15.5 -27h-31zM1604.9 625.9l15.5 -27h-31zM1606.5 625.9l15.5 -27h-31zM1608.0 625.9l15.5 -27h-31zM1609.5 622.3l15.5 -27h-31zM1611.1 618.8l15.5 -27h-31zM1612.6 618.8l15.5 -27h-31zM1614.1 625.9l15.5 -27h-31zM1615.7 633.0l15.5 -27h-31zM1617.2 636.6l15.5 -27h-31zM1618.8 633.0l15.5 -27h-31zM1620.3 622.3l15.5 -27h-31zM1621.8 629.5l15.5 -27h-31zM1623.4 640.2l15.5 -27h-31zM1624.9 633.0l15.5 -27h-31zM1626.4 636.6l15.5 -27h-31zM1628.0 629.5l15.5 -27h-31zM1629.5 640.2l15.5 -27h-31zM1631.1 636.6l15.5 -27h-31zM1632.6 636.6l15.5 -27h-31zM1634.1 636.6l15.5 -27h-31zM1635.7 640.2l15.5 -27h-31zM1637.2 636.6l15.5 -27h-31zM1638.7 636.6l15.5 -27h-31zM1640.3 636.6l15.5 -27h-31zM1641.8 636.6l15.5 -27h-31zM1643.4 633.0l15.5 -27h-31zM1644.9 633.0l15.5 -27h-31zM1646.4 636.6l15.5 -27h-31zM1648.0 636.6l15.5 -27h-31zM1649.5 633.0l15.5 -27h-31zM1651.0 625.9l15.5 -27h-31zM1652.6 633.0l15.5 -27h-31zM1654.1 636.6l15.5 -27h-31zM1655.7 633.0l15.5 -27h-31zM1657.2 629.5l15.5 -27h-31zM1658.7 618.8l15.5 -27h-31zM1660.3 629.5l15.5 -27h-31zM1661.8 625.9l15.5 -27h-31zM1663.3 625.9l15.5 -27h-31zM1664.9 622.3l15.5 -27h-31zM1666.4 633.0l15.5 -27h-31zM1668.0 625.9l15.5 -27h-31zM1669.5 618.8l15.5 -27h-31zM1671.0 615.2l15.5 -27h-31zM1672.6 618.8l15.5 -27h-31zM1674.1 625.9l15.5 -27h-31zM1675.6 625.9l15.5 -27h-31zM1677.2 611.6l15.5 -27h-31zM1678.7 615.2l15.5 -27h-31zM1680.3 618.8l15.5 -27h-31zM1681.8 622.3l15.5 -27h-31zM1683.3 618.8l15.5 -27h-31zM1684.9 618.8l15.5 -27h-31zM1686.4 604.5l15.5 -27h-31zM1687.9 604.5l15.5 -27h-31zM1689.5 611.6l15.5 -27h-31zM1691.0 622.3l15.5 -27h-31zM1692.6 608.0l15.5 -27h-31zM1694.1 604.5l15.5 -27h-31zM1695.6 611.6l15.5 -27h-31zM1697.2 608.0l15.5 -27h-31zM1698.7 604.5l15.5 -27h-31zM1700.2 608.0l15.5 -27h-31zM1701.8 608.0l15.5 -27h-31zM1703.3 608.0l15.5 -27h-31zM1704.9 593.8l15.5 -27h-31zM1706.4 608.0l15.5 -27h-31zM1707.9 608.0l15.5 -27h-31zM1709.5 604.5l15.5 -27h-31zM1711.0 604.5l15.5 -27h-31zM1712.5 604.5l15.5 -27h-31zM1714.1 597.3l15.5 -27h-31zM1715.6 600.9l15.5 -27h-31zM1717.2 600.9l15.5 -27h-31zM1718.7 600.9l15.5 -27h-31zM1720.2 593.8l15.5 -27h-31zM1721.8 586.6l15.5 -27h-31zM1723.3 600.9l15.5 -27h-31zM1724.8 590.2l15.5 -27h-31zM1726.4 593.8l15.5 -27h-31zM1727.9 590.2l15.5 -27h-31zM1729.5 597.3l15.5 -27h-31zM1731.0 597.3l15.5 -27h-31zM1732.5 583.1l15.5 -27h-31zM1734.1 583.1l15.5 -27h-31zM1735.6 593.8l15.5 -27h-31zM1737.1 590.2l15.5 -27h-31zM1738.7 593.8l15.5 -27h-31zM1740.2 583.1l15.5 -27h-31zM1741.8 583.1l15.5 -27h-31zM1743.3 590.2l15.5 -27h-31zM1744.8 583.1l15.5 -27h-31zM1746.4 583.1l15.5 -27h-31zM1747.9 579.5l15.5 -27h-31zM1749.4 579.5l15.5 -27h-31zM1751.0 590.2l15.5 -27h-31zM1752.5 579.5l15.5 -27h-31zM1754.1 579.5l15.5 -27h-31zM1755.6 579.5l15.5 -27h-31zM1757.1 579.5l15.5 -27h-31zM1758.7 579.5l15.5 -27h-31zM1760.2 583.1l15.5 -27h-31zM1761.7 572.3l15.5 -27h-31zM1763.3 583.1l15.5 -27h-31zM1764.8 579.5l15.5 -27h-31zM1766.4 586.6l15.5 -27h-31zM1767.9 579.5l15.5 -27h-31zM1769.4 575.9l15.5 -27h-31zM1771.0 590.2l15.5 -27h-31zM1772.5 572.3l15.5 -27h-31zM1774.0 579.5l15.5 -27h-31zM1775.6 583.1l15.5 -27h-31zM1777.1 579.5l15.5 -27h-31zM1778.7 590.2l15.5 -27h-31zM1780.2 572.3l15.5 -27h-31zM1781.7 586.6l15.5 -27h-31zM1783.3 590.2l15.5 -27h-31zM1784.8 583.1l15.5 -27h-31zM1786.3 572.3l15.5 -27h-31zM1787.9 579.5l15.5 -27h-31zM1789.4 590.2l15.5 -27h-31zM1791.0 586.6l15.5 -27h-31zM1792.5 568.8l15.5 -27h-31zM1794.0 586.6l15.5 -27h-31zM1795.6 568.8l15.5 -27h-31zM1797.1 568.8l15.5 -27h-31zM1798.6 572.3l15.5 -27h-31zM1800.2 586.6l15.5 -27h-31zM1801.7 579.5l15.5 -27h-31zM1803.3 583.1l15.5 -27h-31zM1804.8 583.1l15.5 -27h-31zM1806.3 565.2l15.5 -27h-31zM1807.9 575.9l15.5 -27h-31zM1809.4 575.9l15.5 -27h-31zM1810.9 579.5l15.5 -27h-31zM1812.5 572.3l15.5 -27h-31zM1814.0 579.5l15.5 -27h-31zM1815.5 583.1l15.5 -27h-31zM1817.1 583.1l15.5 -27h-31zM1818.6 583.1l15.5 -27h-31zM1820.2 583.1l15.5 -27h-31zM1821.7 579.5l15.5 -27h-31zM1823.2 568.8l15.5 -27h-31zM1824.8 572.3l15.5 -27h-31zM1826.3 572.3l15.5 -27h-31zM1827.8 583.1l15.5 -27h-31zM1829.4 575.9l15.5 -27h-31zM1830.9 568.8l15.5 -27h-31zM1832.5 575.9l15.5 -27h-31zM1834.0 568.8l15.5 -27h-31zM1835.5 572.3l15.5 -27h-31zM1837.1 575.9l15.5 -27h-31zM1838.6 575.9l15.5 -27h-31zM1840.1 575.9l15.5 -27h-31zM1841.7 561.6l15.5 -27h-31zM1843.2 565.2l15.5 -27h-31zM1844.8 568.8l15.5 -27h-31zM1846.3 575.9l15.5 -27h-31zM1847.8 579.5l15.5 -27h-31zM1849.4 575.9l15.5 -27h-31zM1850.9 561.6l15.5 -27h-31zM1852.4 561.6l15.5 -27h-31zM1854.0 579.5l15.5 -27h-31zM1855.5 572.3l15.5 -27h-31zM1857.1 558.1l15.5 -27h-31zM1858.6 568.8l15.5 -27h-31zM1860.1 575.9l15.5 -27h-31zM1861.7 572.3l15.5 -27h-31zM1863.2 579.5l15.5 -27h-31zM1864.7 572.3l15.5 -27h-31zM1866.3 554.5l15.5 -27h-31zM1867.8 568.8l15.5 -27h-31zM1869.4 565.2l15.5 -27h-31zM1870.9 565.2l15.5 -27h-31zM1872.4 558.1l15.5 -27h-31zM1874.0 568.8l15.5 -27h-31zM1875.5 561.6l15.5 -27h-31zM1877.0 558.1l15.5 -27h-31zM1878.6 561.6l15.5 -27h-31zM1880.1 558.1l15.5 -27h-31zM1881.7 568.8l15.5 -27h-31zM1883.2 554.5l15.5 -27h-31zM1884.7 572.3l15.5 -27h-31zM1886.3 568.8l15.5 -27h-31zM1887.8 575.9l15.5 -27h-31zM1889.3 565.2l15.5 -27h-31zM1890.9 558.1l15.5 -27h-31zM1892.4 561.6l15.5 -27h-31zM1894.0 561.6l15.5 -27h-31zM1895.5 568.8l15.5 -27h-31zM1897.0 554.5l15.5 -27h-31zM1898.6 575.9l15.5 -27h-31zM1900.1 558.1l15.5 -27h-31zM1901.6 561.6l15.5 -27h-31zM1903.2 550.9l15.5 -27h-31zM1904.7 550.9l15.5 -27h-31zM1906.3 568.8l15.5 -27h-31zM1907.8 561.6l15.5 -27h-31zM1909.3 543.8l15.5 -27h-31zM1910.9 565.2l15.5 -27h-31zM1912.4 554.5l15.5 -27h-31zM1913.9 561.6l15.5 -27h-31zM1915.5 565.2l15.5 -27h-31zM1917.0 543.8l15.5 -27h-31zM1918.6 543.8l15.5 -27h-31zM1920.1 558.1l15.5 -27h-31zM1921.6 554.5l15.5 -27h-31zM1923.2 561.6l15.5 -27h-31zM1924.7 547.4l15.5 -27h-31zM1926.2 568.8l15.5 -27h-31zM1927.8 554.5l15.5 -27h-31zM1929.3 554.5l15.5 -27h-31zM1930.9 547.4l15.5 -27h-31zM1932.4 543.8l15.5 -27h-31zM1933.9 543.8l15.5 -27h-31zM1935.5 554.5l15.5 -27h-31zM1937.0 554.5l15.5 -27h-31zM1938.5 550.9l15.5 -27h-31zM1940.1 543.8l15.5 -27h-31zM1941.6 558.1l15.5 -27h-31zM1943.2 561.6l15.5 -27h-31z"/>
<polyline points="407.0,1170.1 407.1,1161.4 407.2,1157.1 407.3,1154.0 407.4,1151.4 407.5,1149.1 407.6,1147.1 407.7,1145.2 407.8,1143.6 407.9,1142.0 408.0,1140.5 408.1,1139.1 408.2,1137.8 408.4,1136.5 408.5,1135.3 408.6,1134.2 408.7,1133.1 408.8,1132.0 408.9,1130.9 409.0,1129.9 409.1,1128.9 409.2,1128.0 409.3,1127.1 409.4,1126.2 409.5,1125.3 409.6,1124.4 409.7,1123.6 409.8,1122.8 409.9,1122.0 410.0,1121.2 410.0,1121.2 415.1,1093.0 420.3,1073.9 425.4,1058.7 430.5,1045.6 435.6,1034.1 440.8,1023.6 445.9,1013.9 451.0,1004.9 456.2,996.4 461.3,988.4 466.4,980.8 471.5,973.5 476.7,966.5 481.8,959.7 486.9,953.2 492.1,946.9 497.2,940.8 502.3,934.8 507.4,929.0 512.6,923.4 517.7,917.9 522.8,912.5 528.0,907.2 533.1,902.1 538.2,897.0 543.3,892.1 548.5,887.2 553.6,882.4 558.7,877.7 563.9,873.0 569.0,868.5 574.1,864.0 579.2,859.6 584.4,855.2 589.5,850.9 594.6,846.6 599.8,842.4 604.9,838.3 610.0,834.2 615.2,830.1 620.3,826.1 625.4,822.2 630.5,818.3 635.7,814.4 640.8,810.6 645.9,806.8 651.1,803.0 656.2,799.3 661.3,795.6 666.4,791.9 671.6,788.3 676.7,784.7 681.8,781.1 687.0,777.6 692.1,774.1 697.2,770.6 702.3,767.2 707.5,763.7 712.6,760.3 717.7,757.0 722.9,753.6 728.0,750.3 733.1,747.0 738.2,743.7 743.4,740.4 748.5,737.2 753.6,734.0 758.8,730.8 763.9,727.6 769.0,724.4 774.1,721.3 779.3,718.2 784.4,715.1 789.5,712.0 794.7,708.9 799.8,705.9 804.9,702.8 810.0,699.8 815.2,696.8 820.3,693.8 825.4,690.9 830.6,687.9 835.7,685.0 840.8,682.1 845.9,679.1 851.1,676.2 856.2,673.4 861.3,670.5 866.5,667.6 871.6,664.8 876.7,662.0 881.8,659.1 887.0,656.3 892.1,653.5 897.2,650.8 902.4,648.0 907.5,645.2 912.6,642.5 917.7,639.8 922.9,637.0 928.0,634.3 933.1,631.6 938.3,628.9 943.4,626.2 948.5,623.6 953.6,620.9 958.8,618.3 963.9,615.6 969.0,613.0 974.2,610.4 979.3,607.7 984.4,605.1 989.6,602.5 994.7,600.0 999.8,597.4 1004.9,594.8 1010.1,592.3 1015.2,589.7 1020.3,587.2 1025.5,584.6 1030.6,582.1 1035.7,579.6 1040.8,577.1 1046.0,574.6 1051.1,572.1 1056.2,569.6 1061.4,567.1 1066.5,564.6 1071.6,562.2 1076.7,559.7 1081.9,557.3 1087.0,554.8 1092.1,552.4 1097.3,549.9 1102.4,547.5 1107.5,545.1 1112.6,542.7 1117.8,540.3 1122.9,537.9 1128.0,535.5 1133.2,533.1 1138.3,530.7 1143.4,528.4 1148.5,526.0 1153.7,523.7 1158.8,521.3 1163.9,519.0 1169.1,516.6 1174.2,514.3 1179.3,512.0 1184.4,509.6 1189.6,507.3 1194.7,505.0 1199.8,502.7 1205.0,500.4 1210.1,498.1 1215.2,495.8 1220.3,493.5 1225.5,491.2 1230.6,489.0 1235.7,486.7 1240.9,484.4 1246.0,482.2 1251.1,479.9 1256.2,477.7 1261.4,475.4 1266.5,473.2 1271.6,471.0 1276.8,468.7 1281.9,466.5 1287.0,464.3 1292.1,462.1 1297.3,459.8 1302.4,457.6 1307.5,455.4 1312.7,453.2 1317.8,451.1 1322.9,448.9 1328.0,446.7 1333.2,444.5 1338.3,442.3 1343.4,440.2 1348.6,438.0 1353.7,435.8 1358.8,433.7 1363.9,431.5 1369.1,429.4 1374.2,427.2 1379.3,425.1 1384.5,422.9 1389.6,420.8 1394.7,418.7 1399.9,416.5 1405.0,414.4 1410.1,412.3 1415.2,410.2 1420.4,408.1 1425.5,406.0 1430.6,403.9 1435.8,401.8 1440.9,399.7 1446.0,397.6 1451.1,395.5 1456.3,393.4 1461.4,391.3 1466.5,389.2 1471.7,387.2 1476.8,385.1 1481.9,383.0 1487.0,380.9 1492.2,378.9 1497.3,376.8 1502.4,374.8 1507.6,372.7 1512.7,370.7 1517.8,368.6 1522.9,366.6 1528.1,364.5 1533.2,362.5 1538.3,360.5 1543.5,358.4 1548.6,356.4 1553.7,354.4 1558.8,352.4 1564.0,350.4 1569.1,348.3 1574.2,346.3 1579.4,344.3 1584.5,342.3 1589.6,340.3 1594.7,338.3 1599.9,336.3 1605.0,334.3 1610.1,332.3 1615.3,330.3 1620.4,328.4 1625.5,326.4 1630.6,324.4 1635.8,322.4 1640.9,320.4 1646.0,318.5 1651.2,316.5 1656.3,314.5 1661.4,312.6 1666.5,310.6 1671.7,308.7 1676.8,306.7 1681.9,304.7 1687.1,302.8 1692.2,300.8 1697.3,298.9 1702.4,297.0 1707.6,295.0 1712.7,293.1 1717.8,291.1 1723.0,289.2 1728.1,287.3 1733.2,285.4 1738.3,283.4 1743.5,281.5 1748.6,279.6 1753.7,277.7 1758.9,275.8 1764.0,273.8 1769.1,271.9 1774.3,270.0 1779.4,268.1 1784.5,266.2 1789.6,264.3 1794.8,262.4 1799.9,260.5 1805.0,258.6 1810.2,256.7 1815.3,254.8 1820.4,252.9 1825.5,251.1 1830.7,249.2 1835.8,247.3 1840.9,245.4 1846.1,243.5 1851.2,241.7 1856.3,239.8 1861.4,237.9 1866.6,236.0 1871.7,234.2 1876.8,232.3 1882.0,230.4 1887.1,228.6 1892.2,226.7 1897.3,224.9 1902.5,223.0 1907.6,221.2 1912.7,219.3 1917.9,217.5 1923.0,215.6 1928.1,213.8 1933.2,211.9 1938.4,210.1 1943.5,208.3" fill="none" stroke="#FF0000" stroke-width="4.0" stroke-linejoin="round" stroke-linecap="round"/>
<polyline points="407.0,1167.2 407.1,1158.5 407.2,1154.4 407.3,1151.4 407.4,1148.9 407.5,1146.8 407.6,1145.0 407.7,1143.3 407.8,1141.8 407.9,1140.3 408.0,1139.0 408.1,1137.7 408.2,1136.5 408.4,1135.4 408.5,1134.3 408.6,1133.3 408.7,1132.3 408.8,1131.3 408.9,1130.4 409.0,1129.5 409.1,1128.6 409.2,1127.8 409.3,1127.0 409.4,1126.2 409.5,1125.4 409.6,1124.7 409.7,1123.9 409.8,1123.2 409.9,1122.5 410.0,1121.8 410.0,1121.8 415.1,1097.5 420.3,1081.4 425.4,1068.7 430.5,1058.0 435.6,1048.4 440.8,1039.9 445.9,1032.0 451.0,1024.6 456.2,1017.8 461.3,1011.3 466.4,1005.1 471.5,999.2 476.7,993.6 481.8,988.2 486.9,982.9 492.1,977.9 497.2,973.0 502.3,968.2 507.4,963.6 512.6,959.1 517.7,954.7 522.8,950.4 528.0,946.2 533.1,942.1 538.2,938.0 543.3,934.1 548.5,930.2 553.6,926.4 558.7,922.7 563.9,919.0 569.0,915.4 574.1,911.8 579.2,908.3 584.4,904.8 589.5,901.4 594.6,898.0 599.8,894.7 604.9,891.4 610.0,888.2 615.2,884.9 620.3,881.8 625.4,878.6 630.5,875.5 635.7,872.5 640.8,869.4 645.9,866.4 651.1,863.4 656.2,860.5 661.3,857.6 666.4,854.7 671.6,851.8 676.7,849.0 681.8,846.1 687.0,843.3 692.1,840.6 697.2,837.8 702.3,835.1 707.5,832.4 712.6,829.7 717.7,827.0 722.9,824.4 728.0,821.7 733.1,819.1 738.2,816.5 743.4,813.9 748.5,811.4 753.6,808.8 758.8,806.3 763.9,803.8 769.0,801.3 774.1,798.8 779.3,796.3 784.4,793.9 789.5,791.5 794.7,789.0 799.8,786.6 804.9,784.2 810.0,781.8 815.2,779.5 820.3,777.1 825.4,774.8 830.6,772.4 835.7,770.1 840.8,767.8 845.9,765.5 851.1,763.2 856.2,760.9 861.3,758.6 866.5,756.4 871.6,754.1 876.7,751.9 881.8,749.7 887.0,747.4 892.1,745.2 897.2,743.0 902.4,740.8 907.5,738.7 912.6,736.5 917.7,734.3 922.9,732.2 928.0,730.0 933.1,727.9 938.3,725.7 943.4,723.6 948.5,721.5 953.6,719.4 958.8,717.3 963.9,715.2 969.0,713.1 974.2,711.0 979.3,709.0 984.4,706.9 989.6,704.9 994.7,702.8 999.8,700.8 1004.9,698.7 1010.1,696.7 1015.2,694.7 1020.3,692.7 1025.5,690.7 1030.6,688.7 1035.7,686.7 1040.8,684.7 1046.0,682.7 1051.1,680.7 1056.2,678.7 1061.4,676.8 1066.5,674.8 1071.6,672.9 1076.7,670.9 1081.9,669.0 1087.0,667.0 1092.1,665.1 1097.3,663.2 1102.4,661.3 1107.5,659.3 1112.6,657.4 1117.8,655.5 1122.9,653.6 1128.0,651.7 1133.2,649.8 1138.3,647.9 1143.4,646.1 1148.5,644.2 1153.7,642.3 1158.8,640.5 1163.9,638.6 1169.1,636.7 1174.2,634.9 1179.3,633.0 1184.4,631.2 1189.6,629.3 1194.7,627.5 1199.8,625.7 1205.0,623.9 1210.1,622.0 1215.2,620.2 1220.3,618.4 1225.5,616.6 1230.6,614.8 1235.7,613.0 1240.9,611.2 1246.0,609.4 1251.1,607.6 1256.2,605.8 1261.4,604.0 1266.5,602.2 1271.6,600.5 1276.8,598.7 1281.9,596.9 1287.0,595.2 1292.1,593.4 1297.3,591.6 1302.4,589.9 1307.5,588.1 1312.7,586.4 1317.8,584.6 1322.9,582.9 1328.0,581.2 1333.2,579.4 1338.3,577.7 1343.4,576.0 1348.6,574.2 1353.7,572.5 1358.8,570.8 1363.9,569.1 1369.1,567.4 1374.2,565.7 1379.3,564.0 1384.5,562.3 1389.6,560.6 1394.7,558.9 1399.9,557.2 1405.0,555.5 1410.1,553.8 1415.2,552.1 1420.4,550.4 1425.5,548.8 1430.6,547.1 1435.8,545.4 1440.9,543.7 1446.0,542.1 1451.1,540.4 1456.3,538.7 1461.4,537.1 1466.5,535.4 1471.7,533.8 1476.8,532.1 1481.9,530.5 1487.0,528.8 1492.2,527.2 1497.3,525.5 1502.4,523.9 1507.6,522.3 1512.7,520.6 1517.8,519.0 1522.9,517.4 1528.1,515.7 1533.2,514.1 1538.3,512.5 1543.5,510.9 1548.6,509.3 1553.7,507.6 1558.8,506.0 1564.0,504.4 1569.1,502.8 1574.2,501.2 1579.4,499.6 1584.5,498.0 1589.6,496.4 1594.7,494.8 1599.9,493.2 1605.0,491.6 1610.1,490.0 1615.3,488.5 1620.4,486.9 1625.5,485.3 1630.6,483.7 1635.8,482.1 1640.9,480.5 1646.0,479.0 1651.2,477.4 1656.3,475.8 1661.4,474.3 1666.5,472.7 1671.7,471.1 1676.8,469.6 1681.9,468.0 1687.1,466.4 1692.2,464.9 1697.3,463.3 1702.4,461.8 1707.6,460.2 1712.7,458.7 1717.8,457.1 1723.0,455.6 1728.1,454.0 1733.2,452.5 1738.3,451.0 1743.5,449.4 1748.6,447.9 1753.7,446.4 1758.9,444.8 1764.0,443.3 1769.1,441.8 1774.3,440.2 1779.4,438.7 1784.5,437.2 1789.6,435.7 1794.8,434.1 1799.9,432.6 1805.0,431.1 1810.2,429.6 1815.3,428.1 1820.4,426.6 1825.5,425.1 1830.7,423.6 1835.8,422.0 1840.9,420.5 1846.1,419.0 1851.2,417.5 1856.3,416.0 1861.4,414.5 1866.6,413.0 1871.7,411.5 1876.8,410.0 1882.0,408.6 1887.1,407.1 1892.2,405.6 1897.3,404.1 1902.5,402.6 1907.6,401.1 1912.7,399.6 1917.9,398.2 1923.0,396.7 1928.1,395.2 1933.2,393.7 1938.4,392.2 1943.5,390.8" fill="none" stroke="#FF0000" stroke-width="4.0" stroke-linejoin="round" stroke-linecap="round"/>
<polyline points="407.0,1151.0 407.1,1137.8 407.2,1132.5 407.3,1128.9 407.4,1126.1 407.5,1123.7 407.6,1121.7 407.7,1119.9 407.8,1118.3 407.9,1116.8 408.0,1115.4 408.1,1114.1 408.2,1112.9 408.4,1111.8 408.5,1110.7 408.6,1109.7 408.7,1108.7 408.8,1107.8 408.9,1106.9 409.0,1106.0 409.1,1105.2 409.2,1104.4 409.3,1103.7 409.4,1102.9 409.5,1102.2 409.6,1101.5 409.7,1100.8 409.8,1100.2 409.9,1099.5 410.0,1098.9 410.0,1098.9 415.1,1078.1 420.3,1065.3 425.4,1055.5 430.5,1047.4 435.6,1040.3 440.8,1034.1 445.9,1028.3 451.0,1023.1 456.2,1018.1 461.3,1013.5 466.4,1009.1 471.5,1004.9 476.7,1000.9 481.8,997.1 486.9,993.4 492.1,989.8 497.2,986.4 502.3,983.0 507.4,979.8 512.6,976.6 517.7,973.5 522.8,970.5 528.0,967.5 533.1,964.6 538.2,961.8 543.3,959.0 548.5,956.2 553.6,953.5 558.7,950.9 563.9,948.3 569.0,945.7 574.1,943.2 579.2,940.7 584.4,938.2 589.5,935.8 594.6,933.4 599.8,931.0 604.9,928.7 610.0,926.3 615.2,924.0 620.3,921.8 625.4,919.5 630.5,917.3 635.7,915.1 640.8,912.9 645.9,910.7 651.1,908.6 656.2,906.4 661.3,904.3 666.4,902.2 671.6,900.1 676.7,898.1 681.8,896.0 687.0,894.0 692.1,892.0 697.2,889.9 702.3,888.0 707.5,886.0 712.6,884.0 717.7,882.0 722.9,880.1 728.0,878.2 733.1,876.2 738.2,874.3 743.4,872.4 748.5,870.5 753.6,868.7 758.8,866.8 763.9,864.9 769.0,863.1 774.1,861.2 779.3,859.4 784.4,857.6 789.5,855.8 794.7,853.9 799.8,852.1 804.9,850.3 810.0,848.6 815.2,846.8 820.3,845.0 825.4,843.3 830.6,841.5 835.7,839.7 840.8,838.0 845.9,836.3 851.1,834.5 856.2,832.8 861.3,831.1 866.5,829.4 871.6,827.7 876.7,826.0 881.8,824.3 887.0,822.6 892.1,820.9 897.2,819.2 902.4,817.6 907.5,815.9 912.6,814.3 917.7,812.6 922.9,810.9 928.0,809.3 933.1,807.7 938.3,806.0 943.4,804.4 948.5,802.8 953.6,801.1 958.8,799.5 963.9,797.9 969.0,796.3 974.2,794.7 979.3,793.1 984.4,791.5 989.6,789.9 994.7,788.3 999.8,786.7 1004.9,785.2 1010.1,783.6 1015.2,782.0 1020.3,780.4 1025.5,778.9 1030.6,777.3 1035.7,775.8 1040.8,774.2 1046.0,772.6 1051.1,771.1 1056.2,769.6 1061.4,768.0 1066.5,766.5 1071.6,764.9 1076.7,763.4 1081.9,761.9 1087.0,760.4 1092.1,758.8 1097.3,757.3 1102.4,755.8 1107.5,754.3 1112.6,752.8 1117.8,751.3 1122.9,749.8 1128.0,748.3 1133.2,746.8 1138.3,745.3 1143.4,743.8 1148.5,742.3 1153.7,740.8 1158.8,739.3 1163.9,737.8 1169.1,736.3 1174.2,734.8 1179.3,733.4 1184.4,731.9 1189.6,730.4 1194.7,729.0 1199.8,727.5 1205.0,726.0 1210.1,724.6 1215.2,723.1 1220.3,721.6 1225.5,720.2 1230.6,718.7 1235.7,717.3 1240.9,715.8 1246.0,714.4 1251.1,712.9 1256.2,711.5 1261.4,710.1 1266.5,708.6 1271.6,707.2 1276.8,705.7 1281.9,704.3 1287.0,702.9 1292.1,701.5 1297.3,700.0 1302.4,698.6 1307.5,697.2 1312.7,695.8 1317.8,694.3 1322.9,692.9 1328.0,691.5 1333.2,690.1 1338.3,688.7 1343.4,687.3 1348.6,685.9 1353.7,684.5 1358.8,683.1 1363.9,681.7 1369.1,680.2 1374.2,678.8 1379.3,677.4 1384.5,676.1 1389.6,674.7 1394.7,673.3 1399.9,671.9 1405.0,670.5 1410.1,669.1 1415.2,667.7 1420.4,666.3 1425.5,664.9 1430.6,663.6 1435.8,662.2 1440.9,660.8 1446.0,659.4 1451.1,658.0 1456.3,656.7 1461.4,655.3 1466.5,653.9 1471.7,652.5 1476.8,651.2 1481.9,649.8 1487.0,648.4 1492.2,647.1 1497.3,645.7 1502.4,644.3 1507.6,643.0 1512.7,641.6 1517.8,640.3 1522.9,638.9 1528.1,637.6 1533.2,636.2 1538.3,634.8 1543.5,633.5 1548.6,632.1 1553.7,630.8 1558.8,629.4 1564.0,628.1 1569.1,626.7 1574.2,625.4 1579.4,624.1 1584.5,622.7 1589.6,621.4 1594.7,620.0 1599.9,618.7 1605.0,617.4 1610.1,616.0 1615.3,614.7 1620.4,613.3 1625.5,612.0 1630.6,610.7 1635.8,609.3 1640.9,608.0 1646.0,606.7 1651.2,605.4 1656.3,604.0 1661.4,602.7 1666.5,601.4 1671.7,600.1 1676.8,598.7 1681.9,597.4 1687.1,596.1 1692.2,594.8 1697.3,593.5 1702.4,592.1 1707.6,590.8 1712.7,589.5 1717.8,588.2 1723.0,586.9 1728.1,585.6 1733.2,584.2 1738.3,582.9 1743.5,581.6 1748.6,580.3 1753.7,579.0 1758.9,577.7 1764.0,576.4 1769.1,575.1 1774.3,573.8 1779.4,572.5 1784.5,571.2 1789.6,569.9 1794.8,568.6 1799.9,567.3 1805.0,566.0 1810.2,564.7 1815.3,563.4 1820.4,562.1 1825.5,560.8 1830.7,559.5 1835.8,558.2 1840.9,556.9 1846.1,555.6 1851.2,554.3 1856.3,553.0 1861.4,551.7 1866.6,550.4 1871.7,549.2 1876.8,547.9 1882.0,546.6 1887.1,545.3 1892.2,544.0 1897.3,542.7 1902.5,541.4 1907.6,540.2 1912.7,538.9 1917.9,537.6 1923.0,536.3 1928.1,535.0 1933.2,533.8 1938.4,532.5 1943.5,531.2" fill="none" stroke="#FF0000" stroke-width="4.0" stroke-linejoin="round" stroke-linecap="round"/>
<polyline points="407.5,1168.6 407.6,1165.8 407.7,1164.3 407.8,1163.2 407.9,1162.2 408.1,1161.4 408.2,1160.6 408.3,1159.9 408.4,1159.3 408.5,1158.7 408.6,1158.1 408.7,1157.5 408.8,1157.0 408.9,1156.5 409.0,1156.0 409.1,1155.6 409.2,1155.1 409.3,1154.7 409.4,1154.3 409.5,1153.9 409.6,1153.5 409.7,1153.1 409.8,1152.7 409.9,1152.3 410.0,1152.0 410.1,1151.6 410.2,1151.3 410.3,1150.9 410.4,1150.6 410.5,1150.3 410.5,1150.3 415.7,1138.1 420.8,1129.5 425.9,1122.4 431.0,1116.3 436.2,1110.8 441.3,1105.7 446.4,1101.0 451.5,1096.6 456.7,1092.4 461.8,1088.4 466.9,1084.6 472.0,1080.9 477.2,1077.4 482.3,1073.9 487.4,1070.6 492.6,1067.4 497.7,1064.3 502.8,1061.2 507.9,1058.2 513.1,1055.3 518.2,1052.4 523.3,1049.6 528.4,1046.9 533.6,1044.2 538.7,1041.5 543.8,1038.9 549.0,1036.3 554.1,1033.8 559.2,1031.3 564.3,1028.9 569.5,1026.4 574.6,1024.0 579.7,1021.7 584.8,1019.4 590.0,1017.1 595.1,1014.8 600.2,1012.5 605.4,1010.3 610.5,1008.1 615.6,1005.9 620.7,1003.8 625.9,1001.6 631.0,999.5 636.1,997.4 641.2,995.3 646.4,993.3 651.5,991.2 656.6,989.2 661.7,987.2 666.9,985.2 672.0,983.3 677.1,981.3 682.3,979.3 687.4,977.4 692.5,975.5 697.6,973.6 702.8,971.7 707.9,969.8 713.0,968.0 718.1,966.1 723.3,964.3 728.4,962.4 733.5,960.6 738.7,958.8 743.8,957.0 748.9,955.2 754.0,953.5 759.2,951.7 764.3,949.9 769.4,948.2 774.5,946.5 779.7,944.7 784.8,943.0 789.9,941.3 795.1,939.6 800.2,937.9 805.3,936.2 810.4,934.6 815.6,932.9 820.7,931.2 825.8,929.6 830.9,927.9 836.1,926.3 841.2,924.7 846.3,923.0 851.4,921.4 856.6,919.8 861.7,918.2 866.8,916.6 872.0,915.0 877.1,913.4 882.2,911.9 887.3,910.3 892.5,908.7 897.6,907.2 902.7,905.6 907.8,904.1 913.0,902.5 918.1,901.0 923.2,899.5 928.4,898.0 933.5,896.4 938.6,894.9 943.7,893.4 948.9,891.9 954.0,890.4 959.1,888.9 964.2,887.4 969.4,885.9 974.5,884.5 979.6,883.0 984.7,881.5 989.9,880.1 995.0,878.6 1000.1,877.2 1005.3,875.7 1010.4,874.3 1015.5,872.8 1020.6,871.4 1025.8,869.9 1030.9,868.5 1036.0,867.1 1041.1,865.7 1046.3,864.3 1051.4,862.8 1056.5,861.4 1061.7,860.0 1066.8,858.6 1071.9,857.2 1077.0,855.8 1082.2,854.4 1087.3,853.1 1092.4,851.7 1097.5,850.3 1102.7,848.9 1107.8,847.5 1112.9,846.2 1118.1,844.8 1123.2,843.5 1128.3,842.1 1133.4,840.7 1138.6,839.4 1143.7,838.0 1148.8,836.7 1153.9,835.3 1159.1,834.0 1164.2,832.7 1169.3,831.3 1174.4,830.0 1179.6,828.7 1184.7,827.4 1189.8,826.0 1195.0,824.7 1200.1,823.4 1205.2,822.1 1210.3,820.8 1215.5,819.5 1220.6,818.2 1225.7,816.9 1230.8,815.6 1236.0,814.3 1241.1,813.0 1246.2,811.7 1251.4,810.4 1256.5,809.1 1261.6,807.8 1266.7,806.5 1271.9,805.3 1277.0,804.0 1282.1,802.7 1287.2,801.4 1292.4,800.2 1297.5,798.9 1302.6,797.6 1307.8,796.4 1312.9,795.1 1318.0,793.9 1323.1,792.6 1328.3,791.4 1333.4,790.1 1338.5,788.9 1343.6,787.6 1348.8,786.4 1353.9,785.1 1359.0,783.9 1364.1,782.7 1369.3,781.4 1374.4,780.2 1379.5,779.0 1384.7,777.7 1389.8,776.5 1394.9,775.3 1400.0,774.1 1405.2,772.8 1410.3,771.6 1415.4,770.4 1420.5,769.2 1425.7,768.0 1430.8,766.8 1435.9,765.6 1441.1,764.4 1446.2,763.2 1451.3,762.0 1456.4,760.8 1461.6,759.6 1466.7,758.4 1471.8,757.2 1476.9,756.0 1482.1,754.8 1487.2,753.6 1492.3,752.4 1497.5,751.2 1502.6,750.0 1507.7,748.8 1512.8,747.7 1518.0,746.5 1523.1,745.3 1528.2,744.1 1533.3,743.0 1538.5,741.8 1543.6,740.6 1548.7,739.4 1553.8,738.3 1559.0,737.1 1564.1,735.9 1569.2,734.8 1574.4,733.6 1579.5,732.5 1584.6,731.3 1589.7,730.1 1594.9,729.0 1600.0,727.8 1605.1,726.7 1610.2,725.5 1615.4,724.4 1620.5,723.2 1625.6,722.1 1630.8,720.9 1635.9,719.8 1641.0,718.7 1646.1,717.5 1651.3,716.4 1656.4,715.2 1661.5,714.1 1666.6,713.0 1671.8,711.8 1676.9,710.7 1682.0,709.6 1687.1,708.5 1692.3,707.3 1697.4,706.2 1702.5,705.1 1707.7,704.0 1712.8,702.8 1717.9,701.7 1723.0,700.6 1728.2,699.5 1733.3,698.4 1738.4,697.2 1743.5,696.1 1748.7,695.0 1753.8,693.9 1758.9,692.8 1764.1,691.7 1769.2,690.6 1774.3,689.5 1779.4,688.4 1784.6,687.3 1789.7,686.2 1794.8,685.1 1799.9,684.0 1805.1,682.9 1810.2,681.8 1815.3,680.7 1820.5,679.6 1825.6,678.5 1830.7,677.4 1835.8,676.3 1841.0,675.2 1846.1,674.1 1851.2,673.0 1856.3,671.9 1861.5,670.8 1866.6,669.8 1871.7,668.7 1876.8,667.6 1882.0,666.5 1887.1,665.4 1892.2,664.3 1897.4,663.3 1902.5,662.2 1907.6,661.1 1912.7,660.0 1917.9,659.0 1923.0,657.9 1928.1,656.8 1933.2,655.7 1938.4,654.7 1943.5,653.6" fill="none" stroke="#FF0000" stroke-width="4.0" stroke-linejoin="round" stroke-linecap="round"/>
</g>
<g stroke="#000" stroke-width="5.0" stroke-linecap="round" fill="none">
<line x1="373.0" y1="1219.3" x2="346.5" y2="1219.3"/>
<line x1="373.0" y1="1040.8" x2="346.5" y2="1040.8"/>
<line x1="373.0" y1="862.3" x2="346.5" y2="862.3"/>
<line x1="373.0" y1="683.8" x2="346.5" y2="683.8"/>
<line x1="373.0" y1="505.3" x2="346.5" y2="505.3"/>
<line x1="373.0" y1="326.8" x2="346.5" y2="326.8"/>
<line x1="373.0" y1="148.3" x2="346.5" y2="148.3"/>
<line x1="373.0" y1="1130.0" x2="359.0" y2="1130.0"/>
<line x1="373.0" y1="951.5" x2="359.0" y2="951.5"/>
<line x1="373.0" y1="773.0" x2="359.0" y2="773.0"/>
<line x1="373.0" y1="594.5" x2="359.0" y2="594.5"/>
<line x1="373.0" y1="416.0" x2="359.0" y2="416.0"/>
<line x1="373.0" y1="237.5" x2="359.0" y2="237.5"/>
<line x1="373.0" y1="59.0" x2="359.0" y2="59.0"/>
<line x1="650.2" y1="1290.6" x2="650.2" y2="1317.1"/>
<line x1="957.7" y1="1290.6" x2="957.7" y2="1317.1"/>
<line x1="1265.2" y1="1290.6" x2="1265.2" y2="1317.1"/>
<line x1="1572.6" y1="1290.6" x2="1572.6" y2="1317.1"/>
<line x1="1880.1" y1="1290.6" x2="1880.1" y2="1317.1"/>
<line x1="496.5" y1="1290.6" x2="496.5" y2="1303.1"/>
<line x1="803.9" y1="1290.6" x2="803.9" y2="1303.1"/>
<line x1="1111.4" y1="1290.6" x2="1111.4" y2="1303.1"/>
<line x1="1418.9" y1="1290.6" x2="1418.9" y2="1303.1"/>
<line x1="1726.4" y1="1290.6" x2="1726.4" y2="1303.1"/>
<line x1="2033.9" y1="1290.6" x2="2033.9" y2="1303.1"/>
</g>
<g stroke="#000" stroke-width="5.0" stroke-linecap="butt" fill="none">
<line x1="364.0" y1="2853.7" x2="336.6" y2="2853.7"/>
<line x1="364.0" y1="2607.4" x2="336.6" y2="2607.4"/>
<line x1="364.0" y1="2361.0" x2="336.6" y2="2361.0"/>
<line x1="364.0" y1="2114.7" x2="336.6" y2="2114.7"/>
<line x1="364.0" y1="1868.3" x2="336.6" y2="1868.3"/>
<line x1="364.0" y1="1622.0" x2="336.6" y2="1622.0"/>
<line x1="364.0" y1="2730.5" x2="350.0" y2="2730.5"/>
<line x1="364.0" y1="2484.2" x2="350.0" y2="2484.2"/>
<line x1="364.0" y1="2237.8" x2="350.0" y2="2237.8"/>
<line x1="364.0" y1="1991.5" x2="350.0" y2="1991.5"/>
<line x1="364.0" y1="1745.2" x2="350.0" y2="1745.2"/>
<line x1="419.8" y1="2853.7" x2="419.8" y2="2879.7"/>
<line x1="697.6" y1="2853.7" x2="697.6" y2="2879.7"/>
<line x1="975.4" y1="2853.7" x2="975.4" y2="2879.7"/>
<line x1="1253.3" y1="2853.7" x2="1253.3" y2="2879.7"/>
<line x1="1531.1" y1="2853.7" x2="1531.1" y2="2879.7"/>
<line x1="1808.9" y1="2853.7" x2="1808.9" y2="2879.7"/>
<line x1="2086.7" y1="2853.7" x2="2086.7" y2="2879.7"/>
<line x1="558.7" y1="2853.7" x2="558.7" y2="2866.2"/>
<line x1="836.5" y1="2853.7" x2="836.5" y2="2866.2"/>
<line x1="1114.3" y1="2853.7" x2="1114.3" y2="2866.2"/>
<line x1="1392.2" y1="2853.7" x2="1392.2" y2="2866.2"/>
<line x1="1670.0" y1="2853.7" x2="1670.0" y2="2866.2"/>
<line x1="1947.8" y1="2853.7" x2="1947.8" y2="2866.2"/>
</g>
<rect x="373.0" y="60.0" width="1723.0" height="1230.6" fill="none" stroke="#000" stroke-width="5.5"/>
<rect x="364.0" y="1622.0" width="1722.6999999999998" height="1231.6999999999998" fill="none" stroke="#000" stroke-width="5.5"/>
<g style="font-family:'Liberation Sans',Arial,sans-serif;font-size:80px" fill="#000">
<text x="326" y="1242.1" text-anchor="end">250</text>
<text x="326" y="1063.6" text-anchor="end">255</text>
<text x="326" y="885.1" text-anchor="end">260</text>
<text x="326" y="706.6" text-anchor="end">265</text>
<text x="326" y="528.1" text-anchor="end">270</text>
<text x="326" y="349.6" text-anchor="end">275</text>
<text x="326" y="171.1" text-anchor="end">280</text>
<text x="650.2" y="1397" text-anchor="middle">200</text>
<text x="957.7" y="1397" text-anchor="middle">300</text>
<text x="1265.2" y="1397" text-anchor="middle">400</text>
<text x="1572.6" y="1397" text-anchor="middle">500</text>
<text x="1880.1" y="1397" text-anchor="middle">600</text>
<text x="317" y="2876.0" text-anchor="end">0</text>
<text x="317" y="2629.7" text-anchor="end">10</text>
<text x="317" y="2383.3" text-anchor="end">20</text>
<text x="317" y="2137.0" text-anchor="end">30</text>
<text x="317" y="1890.6" text-anchor="end">40</text>
<text x="317" y="1644.3" text-anchor="end">50</text>
<text x="419.8" y="2960" text-anchor="middle">0</text>
<text x="697.6" y="2960" text-anchor="middle">100</text>
<text x="975.4" y="2960" text-anchor="middle">200</text>
<text x="1253.3" y="2960" text-anchor="middle">300</text>
<text x="1531.1" y="2960" text-anchor="middle">400</text>
<text x="1808.9" y="2960" text-anchor="middle">500</text>
<text x="2086.7" y="2960" text-anchor="middle">600</text>
</g>
<g style="font-family:'Liberation Sans',Arial,sans-serif;font-size:92px" fill="#000">
<text x="0" y="0" transform="translate(105.8,673.5) rotate(-90)" text-anchor="middle">h (nm)</text>
<text x="1219.2" y="1526" text-anchor="middle">t (s)</text>
<text x="0" y="0" transform="translate(133,2225) rotate(-90)" text-anchor="middle"><tspan style="font-family:'Liberation Serif','Times New Roman',serif">Δ</tspan>h (nm)</text>
<text x="1140" y="3092">h<tspan dy="24" style="font-size:65px">0</tspan><tspan dy="-24"> (nm)</tspan></text>
</g>
<text transform="translate(44.5,122.5) scale(1.05,1)" style="font-family:'Liberation Sans',Arial,sans-serif;font-size:97px">(a)</text>
<text transform="translate(66.8,1678.5) scale(1.059,1)" style="font-family:'Liberation Sans',Arial,sans-serif;font-size:97px">(b)</text>
<text transform="translate(449.4,181) scale(0.9885,1)" style="font-family:'Liberation Sans',Arial,sans-serif;font-size:80px">Fitting equation: <tspan font-style="italic">h</tspan> = <tspan font-style="italic">h</tspan><tspan dy="27" style="font-size:46px">0</tspan><tspan dy="-27"> + </tspan><tspan font-style="italic">a</tspan>(<tspan font-style="italic">t</tspan> - <tspan font-style="italic">t</tspan><tspan dy="27" style="font-size:46px">0</tspan><tspan dy="-27">)</tspan><tspan dy="-38" font-style="italic" style="font-size:46px">b</tspan><tspan dy="38">+</tspan><tspan font-style="italic">kt</tspan></text>
<g>
<rect x="1574.75" y="886.05" width="22.5" height="22.5" fill="#000"/>
<circle cx="1586.1" cy="978.3" r="12.6" fill="#FF8000"/>
<path d="M1586.3 1041.7L1602 1068.7H1570.7Z" fill="#0000FF"/>
<path d="M1586.3 1158.6L1602 1131.3H1570.7Z" fill="#FF80FF"/>
<line x1="1552.5" y1="1220.6" x2="1626.2" y2="1220.6" stroke="#FF0000" stroke-width="3.4"/>
<text x="1675.8" y="912.3" style="font-family:'Liberation Sans',Arial,sans-serif;font-size:64px;font-style:italic">R</text><text x="1737.5" y="912.3" style="font-family:'Liberation Sans',Arial,sans-serif;font-size:64px">= 0.6</text><text x="1892.9" y="912.3" style="font-family:'Liberation Serif','Times New Roman',serif;font-style:italic;font-size:66px">μ</text><text transform="translate(1925.2,912.3) scale(1.1,1)" style="font-family:'Liberation Sans',Arial,sans-serif;font-size:64px">m</text>
<text x="1675.8" y="997.4" style="font-family:'Liberation Sans',Arial,sans-serif;font-size:64px;font-style:italic">R</text><text x="1737.5" y="997.4" style="font-family:'Liberation Sans',Arial,sans-serif;font-size:64px">= 2.95</text><text x="1928.5" y="997.4" style="font-family:'Liberation Serif','Times New Roman',serif;font-style:italic;font-size:66px">μ</text><text transform="translate(1960.8,997.4) scale(1.1,1)" style="font-family:'Liberation Sans',Arial,sans-serif;font-size:64px">m</text>
<text x="1675.8" y="1084.3" style="font-family:'Liberation Sans',Arial,sans-serif;font-size:64px;font-style:italic">R</text><text x="1737.5" y="1084.3" style="font-family:'Liberation Sans',Arial,sans-serif;font-size:64px">= 9.8</text><text x="1892.9" y="1084.3" style="font-family:'Liberation Serif','Times New Roman',serif;font-style:italic;font-size:66px">μ</text><text transform="translate(1925.2,1084.3) scale(1.1,1)" style="font-family:'Liberation Sans',Arial,sans-serif;font-size:64px">m</text>
<text transform="translate(1677.3,1162.7) scale(1.05,1)" style="font-family:'Liberation Sans',Arial,sans-serif;font-size:64px">Berkovich</text>
<text transform="translate(1675.1,1243.2) scale(1.042,1)" style="font-family:'Liberation Sans',Arial,sans-serif;font-size:64px">Fitting lines</text>
</g>
<g>
<circle cx="451.8" cy="1695.8" r="16.9" fill="#000"/>
<rect x="437.2" y="1768" width="30" height="30" fill="#FF0000"/>
<path d="M452 1847.9L472.4 1882.4H431.6Z" fill="#0000FF"/>
<path d="M452 1980.3L472.4 1945.8H431.6Z" fill="#FF00FF"/>
<text x="518.8" y="1711" style="font-family:'Liberation Sans',Arial,sans-serif;font-size:69px;font-style:italic">R</text><text x="584.3" y="1711" style="font-family:'Liberation Sans',Arial,sans-serif;font-size:69px">= 0.6</text><text x="750.8" y="1711" style="font-family:'Liberation Serif','Times New Roman',serif;font-style:italic;font-size:71px">μ</text><text transform="translate(784.2,1711) scale(1.05,1)" style="font-family:'Liberation Sans',Arial,sans-serif;font-size:69px">m</text>
<text x="518.8" y="1800.4" style="font-family:'Liberation Sans',Arial,sans-serif;font-size:69px;font-style:italic">R</text><text x="584.3" y="1800.4" style="font-family:'Liberation Sans',Arial,sans-serif;font-size:69px">= 2.95</text><text x="789.2" y="1800.4" style="font-family:'Liberation Serif','Times New Roman',serif;font-style:italic;font-size:71px">μ</text><text transform="translate(822.6,1800.4) scale(1.05,1)" style="font-family:'Liberation Sans',Arial,sans-serif;font-size:69px">m</text>
<text x="518.8" y="1892.9" style="font-family:'Liberation Sans',Arial,sans-serif;font-size:69px;font-style:italic">R</text><text x="584.3" y="1892.9" style="font-family:'Liberation Sans',Arial,sans-serif;font-size:69px">= 9.8</text><text x="750.8" y="1892.9" style="font-family:'Liberation Serif','Times New Roman',serif;font-style:italic;font-size:71px">μ</text><text transform="translate(784.2,1892.9) scale(1.05,1)" style="font-family:'Liberation Sans',Arial,sans-serif;font-size:69px">m</text>
<text transform="translate(523.3,1972.8) scale(1.051,1)" style="font-family:'Liberation Sans',Arial,sans-serif;font-size:69px">Berkovich</text>
</g>
<g fill="#000"><circle cx="475.4" cy="2740.6" r="17"/><circle cx="530.9" cy="2697.5" r="17"/><circle cx="586.5" cy="2617.2" r="17"/><circle cx="669.8" cy="2506.9" r="17"/><circle cx="836.5" cy="2443.8" r="17"/><circle cx="1114.3" cy="2262.5" r="17"/><circle cx="1808.9" cy="1838.8" r="17"/></g>
<g fill="#FF0000"><rect x="460.4" y="2736.0" width="30" height="30"/><rect x="515.9" y="2732.5" width="30" height="30"/><rect x="571.5" y="2633.5" width="30" height="30"/><rect x="654.8" y="2596.5" width="30" height="30"/><rect x="821.5" y="2493.3" width="30" height="30"/><rect x="1099.3" y="2322.9" width="30" height="30"/><rect x="1793.9" y="1839.8" width="30" height="30"/></g>
<g fill="#0000FF"><path d="M475.4 2736.4L495.9 2771.4H454.9Z"/><path d="M530.9 2700.0L551.4 2735.0H510.4Z"/><path d="M586.5 2663.3L607.0 2698.3H566.0Z"/><path d="M669.8 2601.9L690.3 2636.9H649.3Z"/><path d="M836.5 2518.7L857.0 2553.7H816.0Z"/><path d="M1114.3 2374.8L1134.8 2409.8H1093.8Z"/><path d="M1808.9 2014.7L1829.4 2049.7H1788.4Z"/></g>
<g fill="#FF00FF"><path d="M475.4 2711.6L495.9 2676.6H454.9Z"/><path d="M530.9 2620.7L551.4 2585.7H510.4Z"/><path d="M586.5 2617.0L607.0 2582.0H566.0Z"/><path d="M669.8 2572.4L690.3 2537.4H649.3Z"/><path d="M836.5 2510.8L857.0 2475.8H816.0Z"/><path d="M1114.3 2391.8L1134.8 2356.8H1093.8Z"/><path d="M1808.9 1989.1L1829.4 1954.1H1788.4Z"/></g>
<line x1="414.3" y1="2757.5462199999997" x2="2042.0" y2="1773.4" stroke="#008000" stroke-width="5.5" stroke-dasharray="31.4 27.9"/>
</svg>
</body></html>
